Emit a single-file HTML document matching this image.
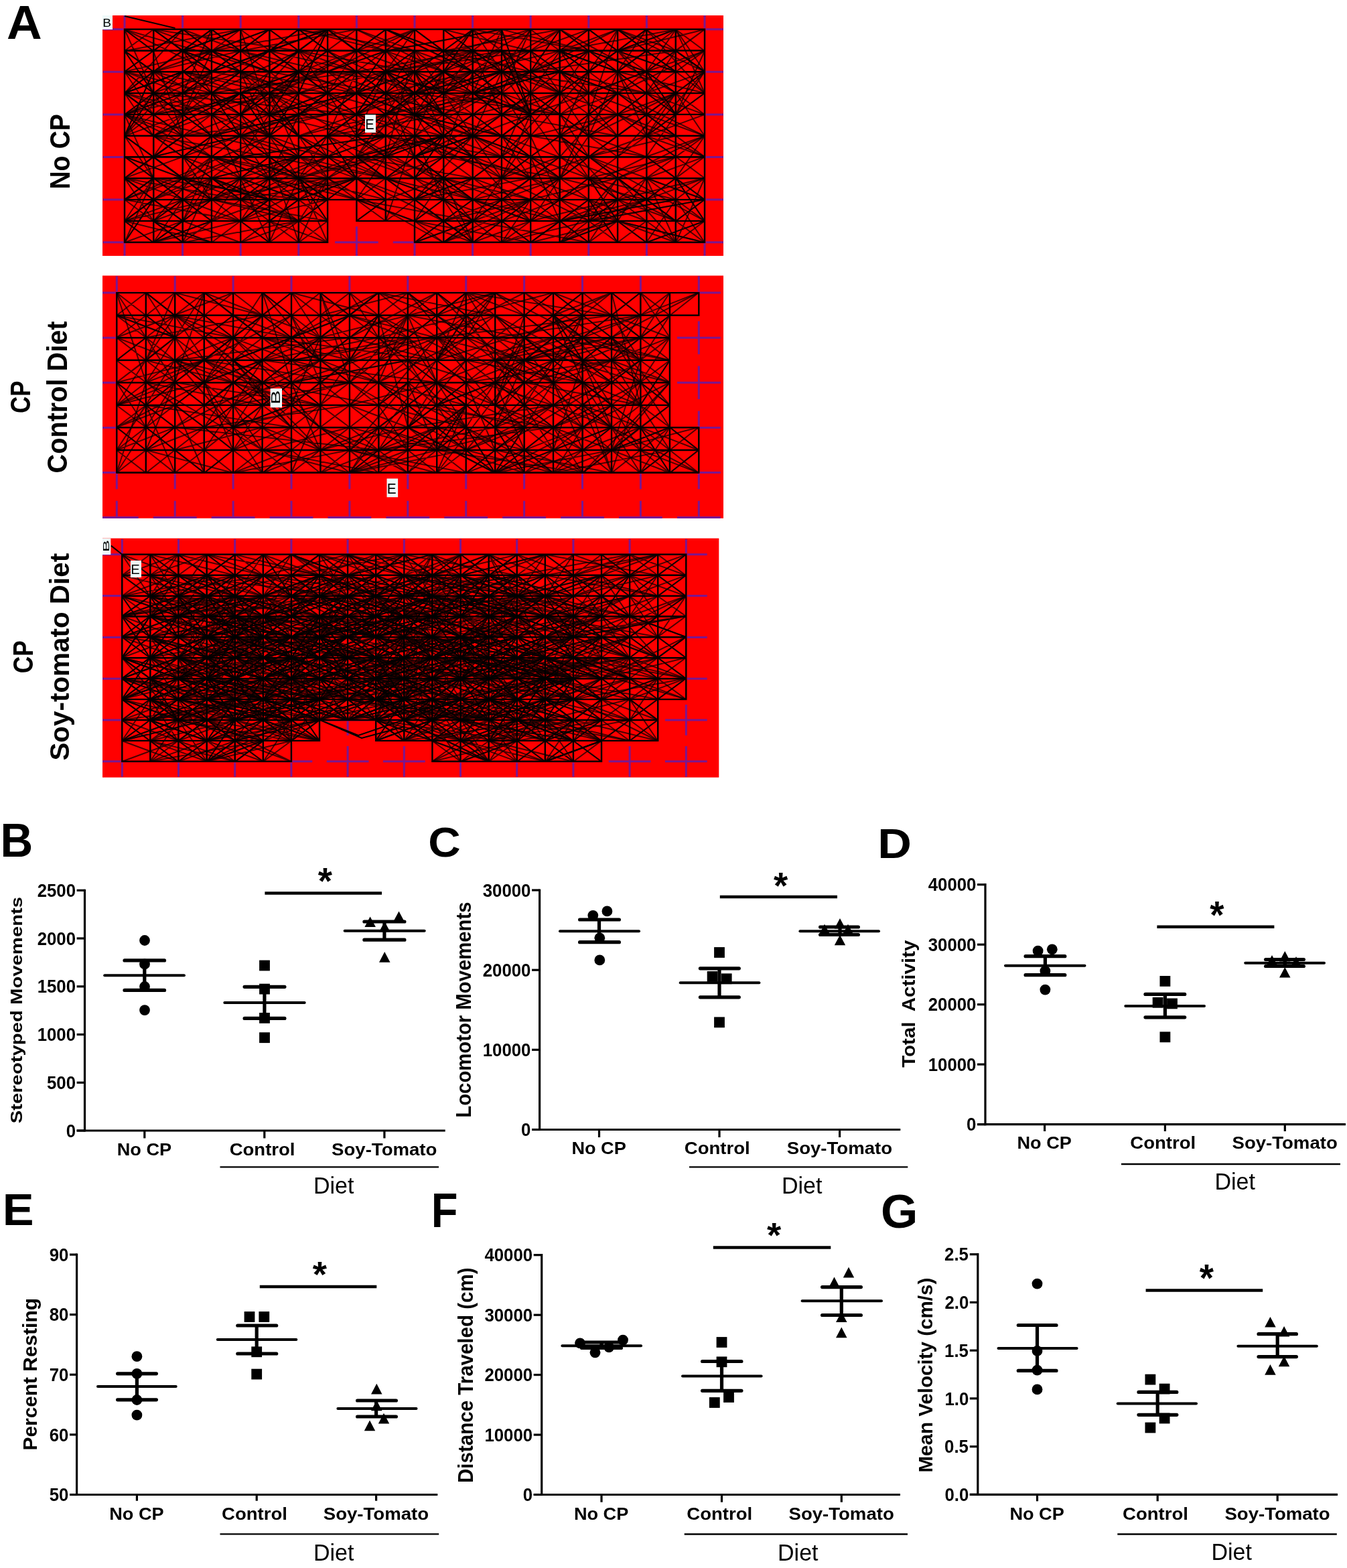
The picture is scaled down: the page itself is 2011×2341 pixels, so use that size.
<!DOCTYPE html>
<html><head><meta charset="utf-8"><title>Figure</title>
<style>
html,body{margin:0;padding:0;background:#fff;}
svg{display:block;font-family:"Liberation Sans",Arial,sans-serif;}
</style></head>
<body>
<svg width="2011" height="2341" viewBox="0 0 2011 2341">
<rect width="2011" height="2341" fill="#fff"/>
<g fill="#000">
<text transform="matrix(0.728763 0 0 0.710756 10.08 57.90)" font-size="100" font-weight="bold" >A</text>
<text transform="matrix(0 -0.374267 0.422316 0 103.58 282.61)" font-size="100" font-weight="bold" >No CP</text>
<text transform="matrix(0 -0.348554 0.419492 0 44.98 617.03)" font-size="100" font-weight="bold" >CP</text>
<text transform="matrix(0 -0.396543 0.424490 0 99.58 706.43)" font-size="100" font-weight="bold" >Control Diet</text>
<text transform="matrix(0 -0.352359 0.427966 0 48.67 1005.24)" font-size="100" font-weight="bold" >CP</text>
<text transform="matrix(0 -0.404144 0.413719 0 102.59 1135.57)" font-size="100" font-weight="bold" >Soy-tomato Diet</text>
</g>
<rect x="153" y="23" width="927.0" height="359.0" fill="#ff0000"/>
<path d="M153.7 43.7H218.3M186.0 23.0V67.2M153.7 107.3H218.3M186.0 83.8V130.8M153.7 170.9H218.3M186.0 147.4V194.4M153.7 234.5H218.3M186.0 211.0V258.0M153.7 298.1H218.3M186.0 274.6V321.6M153.7 361.7H218.3M186.0 338.2V382.0M240.3 43.7H304.9M272.6 23.0V67.2M240.3 107.3H304.9M272.6 83.8V130.8M240.3 170.9H304.9M272.6 147.4V194.4M240.3 234.5H304.9M272.6 211.0V258.0M240.3 298.1H304.9M272.6 274.6V321.6M240.3 361.7H304.9M272.6 338.2V382.0M326.9 43.7H391.5M359.2 23.0V67.2M326.9 107.3H391.5M359.2 83.8V130.8M326.9 170.9H391.5M359.2 147.4V194.4M326.9 234.5H391.5M359.2 211.0V258.0M326.9 298.1H391.5M359.2 274.6V321.6M326.9 361.7H391.5M359.2 338.2V382.0M413.5 43.7H478.1M445.8 23.0V67.2M413.5 107.3H478.1M445.8 83.8V130.8M413.5 170.9H478.1M445.8 147.4V194.4M413.5 234.5H478.1M445.8 211.0V258.0M413.5 298.1H478.1M445.8 274.6V321.6M413.5 361.7H478.1M445.8 338.2V382.0M500.1 43.7H564.7M532.4 23.0V67.2M500.1 107.3H564.7M532.4 83.8V130.8M500.1 170.9H564.7M532.4 147.4V194.4M500.1 234.5H564.7M532.4 211.0V258.0M500.1 298.1H564.7M532.4 274.6V321.6M500.1 361.7H564.7M532.4 338.2V382.0M586.7 43.7H651.3M619.0 23.0V67.2M586.7 107.3H651.3M619.0 83.8V130.8M586.7 170.9H651.3M619.0 147.4V194.4M586.7 234.5H651.3M619.0 211.0V258.0M586.7 298.1H651.3M619.0 274.6V321.6M586.7 361.7H651.3M619.0 338.2V382.0M673.3 43.7H737.9M705.6 23.0V67.2M673.3 107.3H737.9M705.6 83.8V130.8M673.3 170.9H737.9M705.6 147.4V194.4M673.3 234.5H737.9M705.6 211.0V258.0M673.3 298.1H737.9M705.6 274.6V321.6M673.3 361.7H737.9M705.6 338.2V382.0M759.9 43.7H824.5M792.2 23.0V67.2M759.9 107.3H824.5M792.2 83.8V130.8M759.9 170.9H824.5M792.2 147.4V194.4M759.9 234.5H824.5M792.2 211.0V258.0M759.9 298.1H824.5M792.2 274.6V321.6M759.9 361.7H824.5M792.2 338.2V382.0M846.5 43.7H911.1M878.8 23.0V67.2M846.5 107.3H911.1M878.8 83.8V130.8M846.5 170.9H911.1M878.8 147.4V194.4M846.5 234.5H911.1M878.8 211.0V258.0M846.5 298.1H911.1M878.8 274.6V321.6M846.5 361.7H911.1M878.8 338.2V382.0M933.1 43.7H997.7M965.4 23.0V67.2M933.1 107.3H997.7M965.4 83.8V130.8M933.1 170.9H997.7M965.4 147.4V194.4M933.1 234.5H997.7M965.4 211.0V258.0M933.1 298.1H997.7M965.4 274.6V321.6M933.1 361.7H997.7M965.4 338.2V382.0M1019.7 43.7H1080.0M1052.0 23.0V67.2M1019.7 107.3H1080.0M1052.0 83.8V130.8M1019.7 170.9H1080.0M1052.0 147.4V194.4M1019.7 234.5H1080.0M1052.0 211.0V258.0M1019.7 298.1H1080.0M1052.0 274.6V321.6M1019.7 361.7H1080.0M1052.0 338.2V382.0" stroke="#7a1790" stroke-width="3" fill="none"/>
<path d="M704.0 169.3h46.5v35.0h-46.5zM357.6 42.1h46.5v35.0h-46.5zM357.6 328.3h46.5v35.0h-46.5zM400.9 73.9h46.5v35.0h-46.5zM530.8 42.1h46.5v35.0h-46.5zM920.5 137.5h46.5v35.0h-46.5zM1007.1 42.1h46.5v35.0h-46.5zM617.4 232.9h46.5v35.0h-46.5zM574.1 296.5h46.5v35.0h-46.5zM184.4 201.1h46.5v35.0h-46.5zM271.0 105.7h46.5v35.0h-46.5zM660.7 201.1h46.5v35.0h-46.5zM1007.1 328.3h46.5v35.0h-46.5zM747.3 296.5h46.5v35.0h-46.5zM833.9 201.1h46.5v35.0h-46.5zM444.2 105.7h46.5v35.0h-46.5zM487.5 73.9h46.5v35.0h-46.5zM963.8 73.9h46.5v35.0h-46.5zM357.6 105.7h46.5v35.0h-46.5zM314.3 232.9h46.5v35.0h-46.5zM400.9 137.5h46.5v35.0h-46.5zM530.8 105.7h46.5v35.0h-46.5zM920.5 201.1h46.5v35.0h-46.5zM574.1 73.9h46.5v35.0h-46.5zM1007.1 105.7h46.5v35.0h-46.5zM184.4 264.7h46.5v35.0h-46.5zM271.0 169.3h46.5v35.0h-46.5zM660.7 264.7h46.5v35.0h-46.5zM747.3 73.9h46.5v35.0h-46.5zM227.7 296.5h46.5v35.0h-46.5zM833.9 264.7h46.5v35.0h-46.5zM444.2 169.3h46.5v35.0h-46.5zM877.2 232.9h46.5v35.0h-46.5zM487.5 137.5h46.5v35.0h-46.5zM963.8 137.5h46.5v35.0h-46.5zM314.3 296.5h46.5v35.0h-46.5zM400.9 201.1h46.5v35.0h-46.5zM530.8 169.3h46.5v35.0h-46.5zM790.6 296.5h46.5v35.0h-46.5zM574.1 137.5h46.5v35.0h-46.5zM184.4 42.1h46.5v35.0h-46.5zM660.7 42.1h46.5v35.0h-46.5zM920.5 264.7h46.5v35.0h-46.5zM1007.1 169.3h46.5v35.0h-46.5zM184.4 328.3h46.5v35.0h-46.5zM660.7 328.3h46.5v35.0h-46.5zM747.3 137.5h46.5v35.0h-46.5zM833.9 42.1h46.5v35.0h-46.5zM833.9 328.3h46.5v35.0h-46.5zM444.2 232.9h46.5v35.0h-46.5zM877.2 296.5h46.5v35.0h-46.5zM487.5 201.1h46.5v35.0h-46.5zM963.8 201.1h46.5v35.0h-46.5zM314.3 73.9h46.5v35.0h-46.5zM790.6 73.9h46.5v35.0h-46.5zM920.5 42.1h46.5v35.0h-46.5zM400.9 264.7h46.5v35.0h-46.5zM920.5 328.3h46.5v35.0h-46.5zM1007.1 232.9h46.5v35.0h-46.5zM574.1 201.1h46.5v35.0h-46.5zM184.4 105.7h46.5v35.0h-46.5zM660.7 105.7h46.5v35.0h-46.5zM227.7 137.5h46.5v35.0h-46.5zM747.3 201.1h46.5v35.0h-46.5zM833.9 105.7h46.5v35.0h-46.5zM877.2 73.9h46.5v35.0h-46.5zM487.5 264.7h46.5v35.0h-46.5zM963.8 264.7h46.5v35.0h-46.5zM704.0 232.9h46.5v35.0h-46.5zM314.3 137.5h46.5v35.0h-46.5zM400.9 42.1h46.5v35.0h-46.5zM790.6 137.5h46.5v35.0h-46.5zM920.5 105.7h46.5v35.0h-46.5zM400.9 328.3h46.5v35.0h-46.5zM574.1 264.7h46.5v35.0h-46.5zM660.7 169.3h46.5v35.0h-46.5zM617.4 296.5h46.5v35.0h-46.5zM227.7 201.1h46.5v35.0h-46.5zM747.3 264.7h46.5v35.0h-46.5zM444.2 73.9h46.5v35.0h-46.5zM833.9 169.3h46.5v35.0h-46.5zM487.5 42.1h46.5v35.0h-46.5zM877.2 137.5h46.5v35.0h-46.5zM963.8 42.1h46.5v35.0h-46.5zM963.8 328.3h46.5v35.0h-46.5zM704.0 296.5h46.5v35.0h-46.5zM314.3 201.1h46.5v35.0h-46.5zM400.9 105.7h46.5v35.0h-46.5zM357.6 169.3h46.5v35.0h-46.5zM790.6 201.1h46.5v35.0h-46.5zM574.1 42.1h46.5v35.0h-46.5zM920.5 169.3h46.5v35.0h-46.5zM617.4 73.9h46.5v35.0h-46.5zM747.3 42.1h46.5v35.0h-46.5zM227.7 264.7h46.5v35.0h-46.5zM747.3 328.3h46.5v35.0h-46.5zM271.0 232.9h46.5v35.0h-46.5zM833.9 232.9h46.5v35.0h-46.5zM487.5 105.7h46.5v35.0h-46.5zM877.2 201.1h46.5v35.0h-46.5zM963.8 105.7h46.5v35.0h-46.5zM704.0 73.9h46.5v35.0h-46.5zM314.3 264.7h46.5v35.0h-46.5zM400.9 169.3h46.5v35.0h-46.5zM357.6 232.9h46.5v35.0h-46.5zM790.6 264.7h46.5v35.0h-46.5zM574.1 105.7h46.5v35.0h-46.5zM530.8 232.9h46.5v35.0h-46.5zM617.4 137.5h46.5v35.0h-46.5zM227.7 42.1h46.5v35.0h-46.5zM747.3 105.7h46.5v35.0h-46.5zM227.7 328.3h46.5v35.0h-46.5zM271.0 296.5h46.5v35.0h-46.5zM877.2 264.7h46.5v35.0h-46.5zM487.5 169.3h46.5v35.0h-46.5zM963.8 169.3h46.5v35.0h-46.5zM444.2 296.5h46.5v35.0h-46.5zM704.0 137.5h46.5v35.0h-46.5zM314.3 42.1h46.5v35.0h-46.5zM790.6 42.1h46.5v35.0h-46.5zM314.3 328.3h46.5v35.0h-46.5zM400.9 232.9h46.5v35.0h-46.5zM357.6 296.5h46.5v35.0h-46.5zM790.6 328.3h46.5v35.0h-46.5zM963.8 296.5h46.5v35.0h-46.5zM530.8 296.5h46.5v35.0h-46.5zM617.4 201.1h46.5v35.0h-46.5zM227.7 105.7h46.5v35.0h-46.5zM184.4 169.3h46.5v35.0h-46.5zM271.0 73.9h46.5v35.0h-46.5zM747.3 169.3h46.5v35.0h-46.5zM877.2 42.1h46.5v35.0h-46.5zM1007.1 296.5h46.5v35.0h-46.5zM877.2 328.3h46.5v35.0h-46.5zM704.0 201.1h46.5v35.0h-46.5zM314.3 105.7h46.5v35.0h-46.5zM790.6 105.7h46.5v35.0h-46.5zM357.6 73.9h46.5v35.0h-46.5zM530.8 73.9h46.5v35.0h-46.5zM1007.1 73.9h46.5v35.0h-46.5zM617.4 264.7h46.5v35.0h-46.5zM227.7 169.3h46.5v35.0h-46.5zM184.4 232.9h46.5v35.0h-46.5zM271.0 137.5h46.5v35.0h-46.5zM660.7 232.9h46.5v35.0h-46.5zM877.2 105.7h46.5v35.0h-46.5zM444.2 137.5h46.5v35.0h-46.5zM704.0 264.7h46.5v35.0h-46.5zM314.3 169.3h46.5v35.0h-46.5zM790.6 169.3h46.5v35.0h-46.5zM357.6 137.5h46.5v35.0h-46.5zM920.5 232.9h46.5v35.0h-46.5zM530.8 137.5h46.5v35.0h-46.5zM617.4 42.1h46.5v35.0h-46.5zM1007.1 137.5h46.5v35.0h-46.5zM617.4 328.3h46.5v35.0h-46.5zM227.7 232.9h46.5v35.0h-46.5zM184.4 296.5h46.5v35.0h-46.5zM271.0 201.1h46.5v35.0h-46.5zM660.7 296.5h46.5v35.0h-46.5zM877.2 169.3h46.5v35.0h-46.5zM833.9 296.5h46.5v35.0h-46.5zM444.2 201.1h46.5v35.0h-46.5zM704.0 42.1h46.5v35.0h-46.5zM704.0 328.3h46.5v35.0h-46.5zM790.6 232.9h46.5v35.0h-46.5zM357.6 201.1h46.5v35.0h-46.5zM920.5 296.5h46.5v35.0h-46.5zM530.8 201.1h46.5v35.0h-46.5zM617.4 105.7h46.5v35.0h-46.5zM574.1 169.3h46.5v35.0h-46.5zM184.4 73.9h46.5v35.0h-46.5zM660.7 73.9h46.5v35.0h-46.5zM1007.1 201.1h46.5v35.0h-46.5zM271.0 264.7h46.5v35.0h-46.5zM833.9 73.9h46.5v35.0h-46.5zM444.2 264.7h46.5v35.0h-46.5zM487.5 232.9h46.5v35.0h-46.5zM963.8 232.9h46.5v35.0h-46.5zM704.0 105.7h46.5v35.0h-46.5zM357.6 264.7h46.5v35.0h-46.5zM920.5 73.9h46.5v35.0h-46.5zM400.9 296.5h46.5v35.0h-46.5zM530.8 264.7h46.5v35.0h-46.5zM617.4 169.3h46.5v35.0h-46.5zM227.7 73.9h46.5v35.0h-46.5zM184.4 137.5h46.5v35.0h-46.5zM271.0 42.1h46.5v35.0h-46.5zM574.1 232.9h46.5v35.0h-46.5zM660.7 137.5h46.5v35.0h-46.5zM1007.1 264.7h46.5v35.0h-46.5zM271.0 328.3h46.5v35.0h-46.5zM747.3 232.9h46.5v35.0h-46.5zM833.9 137.5h46.5v35.0h-46.5zM444.2 42.1h46.5v35.0h-46.5zM444.2 328.3h46.5v35.0h-46.5z" fill="#ff0000"/>
<path d="M922 76L922 44M402 76L446 44M402 139L316 171M662 330L662 266M706 362L619 362M1052 330L1009 266M1052 203L922 266M229 44L186 76M836 76L836 107M706 171L792 171M402 266L402 362M836 107L706 203M489 139L316 107M402 139L489 76M359 107L402 139M792 139L792 203M1009 330L1009 362M1009 330L965 298M446 266L446 203M229 234L186 266M229 76L186 44M749 362L749 298M965 330L1009 362M749 139L619 171M316 139L359 203M836 234L706 330M922 139L836 234M749 44L836 44M316 298L186 330M662 44L446 44M749 203L836 203M1052 234L922 171M662 76L836 44M532 139L489 171M836 234L879 266M446 234L489 266M749 139L792 107M316 171L359 203M965 298L836 266M965 107L965 44M576 203L359 234M879 266L879 330M836 298L879 266M489 44L532 76M316 76L359 107M706 330L619 234M749 266L749 234M836 171L836 234M879 298L836 330M273 203L186 266M446 330L316 298M446 330L402 298M229 298L186 266M662 139L749 107M186 171L273 139M273 266L229 298M316 298L273 330M273 362L186 362M229 298L186 362M836 298L879 266M359 203L273 203M489 44L402 76M749 44L792 171M706 44L662 107M186 266L229 266M1009 266L1052 234M836 330L792 362M706 203L706 234M273 362L186 362M359 330L186 298M532 203L489 203M532 234L576 234M792 203L792 139M446 171L576 171M402 139L446 107M273 171L359 139M1009 107L965 76M662 139L576 107M619 107L662 139M922 44L836 76M706 139L836 107M706 76L706 107M706 44L706 107M186 107L186 76M1052 266L1052 298M922 44L922 76M229 330L186 266M489 298L316 234M446 76L359 76M316 76L229 76M619 266L662 203M1009 76L965 107M489 266L446 298M186 298L229 330M229 362L273 298M662 298L662 266M229 107L186 76M792 171L706 203M273 44L229 76M316 330L359 266M532 76L706 76M836 266L836 298M446 139L402 203M792 44L749 44M922 76L879 44M273 139L402 76M965 234L1009 266M965 107L965 139M792 266L706 266M749 298L836 266M402 234L402 171M662 266L619 234M532 139L489 171M402 203L446 234M662 171L619 107M186 76L229 139M576 139L532 139M1009 298L836 330M316 234L273 234M619 203L446 139M619 171L749 139M489 139L446 139M359 76L446 76M662 139L706 107M576 298L532 330M879 203L879 107M792 139L792 203M273 171L316 203M576 44L489 44M359 298L446 266M706 203L879 266M229 266L229 298M489 171L273 203M749 266L706 298M446 76L532 107M792 76L836 107M662 330L619 362M532 234L619 266M532 139L576 171M1009 44L922 76M576 139L619 171M619 203L662 107M1009 139L965 203M706 171L662 203M359 266L402 298M359 107L489 107M922 298L792 330M1009 76L922 44M619 171L662 171M359 107L402 139M662 266L706 266M273 171L316 139M316 362L273 362M316 203L186 171M792 362L706 362M273 107L273 76M576 203L532 203M446 298L359 298M186 171L229 266M662 76L706 44M359 298L273 266M1009 266L1009 234M576 266L532 234M186 298L186 266M922 44L749 44M749 139L836 171M922 234L879 266M489 266L489 203M273 76L229 76M576 139L662 139M619 44L619 107M749 298L706 330M836 107L836 44M316 139L186 139M446 298L532 298M316 330L229 362M836 203L879 266M792 330L879 330M749 266L706 234M316 203L316 171M273 107L229 139M706 362L619 298M446 362L489 362M359 107L489 171M662 203L706 234M1009 298L1009 362M229 76L273 76M965 298L879 330M922 107L965 171M1009 139L1009 171M186 234L229 266M836 139L706 171M965 107L792 107M229 76L186 76M229 203L229 298M576 203L446 139M619 203L662 298M1052 139L1009 139M402 203L489 234M576 171L619 203M922 298L836 203M229 298L186 330M229 44L273 76M1052 76L1009 171M922 298L1009 330M532 76L489 44M359 203L316 171M922 298L879 330M229 171L273 203M1009 266L965 298M316 330L273 362M316 234L316 266M186 139L229 171M965 330L922 330M359 203L619 298M1009 203L1009 234M619 44L619 139M359 203L402 266M273 107L273 76M229 44L316 107M402 330L359 330M273 203L273 139M836 44L1009 44M532 139L532 107M965 107L879 76M879 203L792 203M792 203L662 203M402 171L359 139M402 298L229 298M359 107L273 44M706 107L662 139M619 76L576 107M749 266L792 266M662 107L706 76M792 107L836 139M402 298L359 330M1052 107L965 107M359 139L359 107M186 107L316 76M359 203L229 234M273 44L316 76M619 171L706 203M446 298L359 298M836 234L836 171M489 203L489 234M532 298L446 298M836 362L792 362M316 76L273 107M273 171L359 139M229 298L273 266M402 107L446 76M446 234L359 298M273 107L359 107M836 203L879 107M792 107L662 76M316 203L273 203M1052 203L1009 266M836 107L792 139M576 76L749 44M532 171L576 139M836 171L879 234M229 330L273 362M836 107L792 76M1052 298L1009 330M402 107L489 44M662 203L576 234M576 107L532 171M229 362L359 330M359 203L316 234M922 330L922 362M316 203L359 171M402 139L359 171M836 139L792 171M532 266L489 203M359 203L186 203M706 171L576 171M706 107L749 76M576 107L749 76M662 298L662 203M792 107L749 139M922 139L879 171M836 107L922 139M273 298L316 330M402 298L316 330M749 234L836 234M749 298L792 266M749 266L749 234M489 139L446 76M965 203L922 107M792 362L706 298M186 266L229 266M402 44L359 76M662 266L792 266M1052 107L922 107M359 139L316 171M662 107L619 139M229 107L359 76M359 76L316 107M749 298L749 234M316 76L402 44M316 107L273 76M749 203L836 139M359 298L402 298M273 266L186 203M922 44L836 76M706 266L749 266M446 171L273 234M359 298L316 298M532 107L576 139M836 139L879 76M965 203L1052 171M446 139L489 44M749 298L792 330M446 139L576 203M229 266L316 330M1052 298L1052 266M965 266L1009 234M1009 139L879 203M359 76L316 44M489 330L489 298M359 298L359 330M792 203L749 234M186 203L273 203M619 171L662 203M749 171L619 171M316 266L273 266M359 203L446 266M922 362L1009 362M706 139L792 76M229 234L316 234M749 234L706 234M576 171L532 171M446 203L532 171M273 107L186 139M662 234L792 234M749 44L706 139M273 298L229 266M446 171L446 139M532 44L402 139M446 171L576 107M706 203L619 234M273 76L359 44M273 171L229 139M359 171L402 234M532 171L532 266M1009 171L965 203M619 171L706 44M792 139L836 171M1052 362L922 330M186 107L229 139M229 76L229 107M446 330L359 298M1052 298L879 234M706 203L619 298M792 107L879 44M749 171L706 203M879 76L749 44M619 171L662 107M359 139L229 139M1052 107L1009 76M1052 171L965 171M446 266L489 298M186 362L229 266M186 76L186 107M619 266L792 330M879 266L922 330M229 44L229 76M965 107L1009 107M532 298L662 298M186 298L229 298M359 298L316 266M273 107L316 139M446 203L402 139M619 76L749 76M749 203L706 234M706 203L706 234M1052 139L1009 139M879 203L965 234M446 107L532 107M273 362L229 330M489 203L446 266M273 362L316 362M836 76L922 107M749 44L619 139M965 298L879 298M446 266L446 330M965 139L922 171M402 298L273 266M792 203L836 203M489 139L532 171M1009 298L1052 362M229 330L186 298M965 107L1009 171M662 203L532 203M706 362L662 362M965 76L922 107M706 266L662 266M489 76L446 44M359 203L489 234M836 139L879 203M229 266L316 298M402 298L316 330M879 76L922 107M619 234L576 171M619 330L619 298M792 362L836 362M749 266L706 266M836 298L749 330M836 266L792 330M1052 203L1052 107M965 107L922 107M1052 203L1009 139M749 139L706 139M922 266L836 266M619 171L532 171M1009 362L965 362M706 203L662 234M1009 107L1052 139M922 330L965 362M273 234L359 234M836 107L922 203M576 203L749 234M446 234L576 234M792 266L922 266M706 298L662 266M402 44L446 76M446 203L489 234M619 298L489 203M836 44L792 107M662 298L576 266M273 76L273 107M879 362L879 330M446 234L359 234M749 139L749 171M186 44L229 139M879 362L879 330M922 139L965 171M792 203L836 203M446 171L446 76M446 139L532 107M619 107L576 76M186 330L186 298M316 171L359 266M662 76L619 107M359 107L316 139M836 139L836 107M316 44L229 107M749 139L792 44M532 203L489 203M446 266L402 234M922 44L1052 44M879 76L965 139M619 76L576 107M446 139L532 139M446 203L489 266M662 266L792 298M186 171L273 234M836 330L879 330M749 44L662 44M749 76L749 107M446 266L662 203M706 139L792 139M879 76L1009 171M446 234L489 203M1009 362L1009 298M922 203L879 203M706 107L619 76M619 44L706 44M879 76L879 107M489 234L402 171M706 330L662 362M229 44L316 76M532 171L446 234M359 298L316 330M316 234L273 203M619 139L706 44M706 44L879 76M316 139L532 139M489 362L446 362M273 203L229 234M316 107L229 107M273 266L229 298M1009 139L965 107M619 203L619 266M576 330L619 203M792 76L792 44M273 203L359 203M576 203L532 234M446 107L446 139M879 203L792 203M402 107L186 44M359 171L359 139M706 107L576 44M879 330L836 362M229 330L186 330M446 139L532 107M662 76L619 44M446 298L402 330M446 203L576 171M619 203L532 203M836 171L836 107M316 203L273 234M706 362L749 330M532 76L576 44M836 171L749 171M662 171L619 139M836 76L792 139M402 330L402 234M706 76L749 107M749 266L706 330M576 234L446 266M706 139L662 171M706 362L792 330M186 203L186 234M1052 330L1009 298M706 171L792 107M879 171L922 44M922 266L965 298M532 107L446 171" stroke="#000" stroke-opacity="0.7" stroke-width="2.0" fill="none"/>
<path d="M792 171L879 171M446 107L359 203M965 298L1009 330M186 171L186 107M359 203L489 171M662 298L706 298M965 107L1009 44M446 139L229 171M619 171L662 203M965 139L922 139M532 171L576 139M489 298L402 234M662 76L576 44M489 139L532 203M186 203L186 171M749 139L706 171M273 171L316 76M446 362L402 234M489 330L446 330M706 44L706 171M662 266L576 266M576 76L446 44M186 139L316 171M273 107L316 139M1009 203L1009 171M229 362L273 330M619 171L532 203M186 171L316 139M879 234L1052 330M402 203L186 298M359 266L273 266M359 171L359 203M489 234L576 203M359 76L316 107M706 171L619 234M489 298L576 298M1009 171L1009 203M359 203L316 234M576 171L532 139M186 171L186 203M186 171L273 171M1009 139L879 234M402 203L446 266M186 139L273 203M749 234L749 203M965 76L1009 76M316 234L186 330M229 266L446 298M402 171L446 171M229 76L273 44M402 76L446 107M619 298L619 266M879 330L1052 298M229 139L273 171M879 171L965 171M619 330L532 298M316 298L359 330M359 234L402 171M359 76L402 76M836 44L879 76M316 203L316 234M359 139L402 203M532 139L576 76M879 139L922 171M532 171L619 171M316 203L316 171M186 171L316 234M662 298L576 298M446 298L402 330M273 234L273 266M576 139L576 76M229 234L273 203M619 76L576 139M836 266L706 298M1009 298L1009 362M662 107L576 171M619 234L576 266M1052 107L1009 107M965 44L965 107M489 171L489 203M402 76L489 139M706 234L749 234M446 330L446 362M532 171L489 139M186 171L229 203M489 203L662 203M662 139L619 171M619 139L619 107M836 298L836 330M1052 234L1052 266M576 171L489 171M229 171L273 171M532 266L532 298M965 107L879 139M446 76L186 76M836 44L922 44M229 234L186 266M1009 107L1052 76M836 171L792 171M662 76L662 44M186 362L273 330M359 171L359 139M879 234L922 266M792 171L749 266M662 266L619 298M229 330L316 362M965 171L1009 203M836 139L836 203M359 139L402 139M1009 107L965 139M229 298L359 234M229 44L229 139M792 171L749 139M489 298L446 330M576 139L706 107M662 107L706 139M1009 107L922 76M836 76L836 107M619 139L662 171M402 107L446 76M532 203L619 203M792 234L836 266M792 298L922 266M1009 139L965 171M402 266L532 298M922 266L965 298M229 203L402 234M316 44L229 44M229 298L273 330M402 298L316 266M532 203L706 203M706 203L792 234M662 203L706 234M836 76L836 107M922 44L1009 44M662 203L619 203M186 330L229 362M316 139L446 76M532 171L576 203M186 203L186 171M836 76L879 107M532 107L576 139M316 44L273 139M359 76L316 76M273 234L359 234M532 266L576 298M836 330L879 362M662 203L922 203M273 107L229 107M576 139L402 107M749 234L706 266M229 203L359 139M532 107L532 44M532 107L532 76M662 107L792 107M576 107L619 139M965 171L965 234M836 362L922 266M922 107L965 76M1009 139L836 44M619 203L706 234M662 203L619 234M619 44L576 76M1009 234L1052 266M359 139L489 107M792 234L749 266M446 203L489 234M316 107L489 44M1009 203L1052 203M749 266L792 234M922 76L1052 44M1052 266L1009 298M619 330L706 362M922 362L836 362M359 76L359 107M879 298L922 330M879 44L836 76M1009 330L965 330M706 76L662 139M879 139L836 76M922 107L1052 139M1009 330L1052 362M316 107L273 139M446 234L489 234M836 362L836 203M273 203L273 171M619 107L662 107M662 76L662 107M402 203L359 107M316 266L359 298M749 171L706 203M706 362L749 362M792 298L749 330M749 203L792 203M316 44L273 76M229 139L273 139M186 203L273 107M532 76L489 76M619 107L706 107M316 139L316 266M1052 234L965 266M1009 203L922 171M532 234L662 203M619 203L619 171M359 76L402 44M922 171L965 139M446 44L489 44M792 44L922 44M706 171L706 203M532 266L532 203M229 139L186 171M446 234L532 234M576 107L662 139M749 203L922 203M965 171L1009 139M273 107L359 139M229 139L186 203M316 266L229 266M489 139L532 139M229 76L186 44M706 76L792 139M402 171L532 203M359 330L402 362M879 107L922 107M402 330L446 330M965 203L1052 234M1009 44L1052 44M922 203L879 234M402 44L402 107M662 362L749 362M576 203L359 234M792 234L836 203M186 234L273 266M1009 234L1052 234M749 171L792 171M749 330L706 330M273 76L186 76M359 234L359 266M749 362L662 362M836 203L706 203M706 139L749 171M186 44L186 76M922 266L792 298M619 44L489 107M229 171L186 107M402 234L446 234M316 107L316 139M359 76L273 76M316 266L229 298M836 330L1009 298M489 76L532 107M273 362L316 266M229 139L186 171M792 330L619 330M229 107L359 139M662 44L792 76M273 298L229 330M229 330L273 362M922 203L879 203M359 330L359 362M922 330L922 362M749 107L706 107M186 107L229 76M706 107L836 76M532 107L576 107M922 362L965 362M836 298L706 298M186 330L229 266M316 44L359 76M1009 107L1009 139M359 139L446 203M619 76L532 76M836 298L879 330M879 266L836 298M359 203L402 234M446 107L446 171M619 44L662 76M316 234L402 266M965 139L1009 171M619 362L706 330M186 266L359 298M836 171L922 139M446 139L402 203M359 203L446 171M879 203L879 171M836 107L879 76M792 76L836 107M316 171L273 171M316 76L489 44M359 107L316 139M706 266L619 266M749 298L749 234M1052 330L965 362M879 234L922 266M316 171L316 107M532 298L576 234M749 107L922 171M965 107L922 139M619 203L749 266M749 234L749 330M1052 107L965 107M316 203L273 171M749 171L706 76M836 107L879 139M749 139L792 203M1052 298L1052 266M446 139L489 139M792 107L792 139M402 76L402 139M402 171L489 234M1052 203L1052 234M489 298L402 298M922 139L1052 76M489 234L402 266M359 362L273 362M316 203L359 234M749 266L706 203M706 203L489 139M532 171L489 203M402 234L402 362M662 298L749 298M229 44L273 76M965 362L965 330M229 298L186 266M1009 203L879 234M749 234L836 298M879 298L922 362M446 203L446 171M662 171L706 203M576 76L749 139M879 171L922 203M576 330L662 330M186 330L229 298M922 266L749 203M662 107L749 76M446 298L446 171M619 171L749 203M273 234L316 298M489 76L576 76M446 234L359 266M619 44L532 76M836 139L792 171M186 266L273 298M662 330L706 362M532 76L402 139M446 330L273 362M836 203L879 171M836 76L922 107M619 203L662 234M532 203L489 139M662 203L619 266M576 298L576 266M619 234L749 171M186 203L229 107M619 139L489 76M706 298L662 266M402 266L359 266M792 203L792 171M316 76L273 76M879 107L879 234M316 203L446 171M402 76L359 107M965 234L1009 171M316 107L273 76M273 171L446 107M662 139L576 107M489 107L576 76M576 298L446 298M489 107L402 139M359 139L446 76M532 171L662 107M229 107L359 139M576 266L619 234M489 234L446 203M316 234L186 171M489 171L532 139M836 362L965 298M359 362L316 362M922 330L836 362M359 266L316 298M229 76L359 76M532 139L532 76M359 171L402 107M229 234L273 234M359 107L229 107M619 234L706 298M576 139L619 171M836 139L706 76M965 107L879 171M532 203L619 139M619 44L489 44M749 203L792 171M316 298L489 266M273 234L316 266M229 203L273 234M402 171L359 44M316 139L359 203M316 139L359 171M749 203L879 203M749 266L792 234M273 139L402 203M1052 203L1009 234M359 266L359 203M749 171L836 139M706 76L706 44M446 298L446 266M922 76L965 76M1052 203L965 234M402 298L532 266M662 76L619 76M792 298L749 362M576 107L532 171M706 107L706 44M1009 203L965 171M965 203L922 234M316 330L273 330M359 107L316 139M229 298L186 362M619 266L489 203M792 266L792 234M359 171L446 171M446 44L402 76M836 203L792 234M576 107L619 171M402 139L402 171M749 107L706 76M706 362L662 266M359 171L532 76M532 234L619 203M359 203L359 171M749 107L749 139M359 107L359 76M706 44L749 107M446 330L359 362M402 44L576 44M662 139L619 171M965 298L1009 330M836 171L749 171M316 44L316 76M965 266L1009 298M706 76L662 139M706 266L619 298M792 203L879 107M662 362L749 330M186 139L229 171M316 203L359 203M965 139L1052 139M1009 139L1052 107M229 266L186 298M1052 203L1009 203M576 76L446 44M879 234L836 203M749 107L836 107M1009 234L1052 203M879 203L836 203M229 107L186 139M792 76L792 139M1052 107L1009 76M1052 266L965 298M792 266L879 234M229 234L273 171M316 298L446 234M965 139L1052 171M273 234L273 266M446 234L316 266M186 171L229 203M706 171L749 203M359 171L402 139M316 266L359 266M576 266L532 298M1009 44L1052 76M662 362L706 330M879 107L965 44M402 139L576 234M662 203L619 171M619 76L532 44M1052 107L965 107M316 298L186 203M402 139L489 139M879 266L922 298M532 203L576 107M619 76L662 76M489 139L402 203M836 139L749 139M662 171L619 203M706 234L792 266M1009 139L965 139M879 266L922 330M446 171L402 203M836 44L576 44M792 139L792 203M706 139L619 139M706 203L662 234M229 76L229 44M706 76L792 76M402 330L446 362M1052 266L1009 362M316 171L359 139M273 107L186 139M489 266L532 298M489 298L489 234M836 234L792 171M662 234L619 266M965 76L922 44M446 266L446 234M186 139L273 171M792 203L749 203M749 171L662 171M273 203L229 234M792 139L706 203M446 298L273 234M749 203L662 266M359 171L402 203M749 203L792 234M186 330L186 362M965 203L1052 234M316 76L316 44M749 171L749 234M402 234L359 266" stroke="#000" stroke-opacity="0.7" stroke-width="2.0" fill="none"/>
<path d="M316 298L186 203M402 171L446 107M965 234L836 298M965 171L1009 139M965 298L836 330M576 139L489 107M749 171L749 203M965 362L922 330M706 171L662 203M359 139L489 139M836 44L749 107M316 171L273 171M532 44L359 76M706 266L662 298M922 44L879 44M836 139L749 203M749 171L922 203M273 330L359 362M273 76L273 139M273 171L273 139M316 139L402 76M273 171L316 203M229 298L186 330M402 234L316 298M316 76L402 107M792 44L749 107M922 139L965 139M229 139L273 203M879 234L836 266M619 234L706 203M446 44L446 76M922 171L1009 139M836 330L879 330M489 203L532 266M619 139L532 107M836 76L965 76M229 171L316 139M316 139L359 107M532 298L576 330M359 266L273 298M186 171L186 234M186 76L359 76M1052 44L1052 76M273 139L186 107M662 362L706 362M922 298L879 362M229 171L186 203M316 298L273 330M1009 44L1052 139M489 171L402 139M922 139L879 171M792 203L965 234M576 234L619 234M359 298L359 330M186 76L229 107M706 139L662 139M836 139L706 139M706 44L662 107M619 171L576 203M965 362L1009 298M316 203L273 234M619 76L662 107M359 139L532 76M706 107L749 139M576 298L532 330M792 203L706 139M879 203L836 266M836 76L922 76M1052 107L965 44M706 139L706 44M273 139L359 203M1052 107L1009 171M359 234L316 203M662 330L532 266M229 298L229 330M273 76L359 107M402 266L532 171M1052 107L922 44M922 203L922 171M706 44L576 44M836 298L792 203M532 76L576 44M922 171L836 203M316 298L489 298M879 107L836 107M879 298L792 298M662 234L749 234M316 171L273 139M836 266L662 234M619 298L662 330M1052 171L965 171M922 203L1009 139M273 266L273 362M186 107L316 139M965 362L1052 330M1009 330L879 266M662 76L619 44M489 107L576 107M965 76L1009 107M446 330L402 362M1052 107L836 266M922 298L836 330M836 234L836 298M706 171L662 203M619 107L576 139M662 234L619 266M1009 298L1009 203M836 330L879 362M836 171L662 139M359 298L359 266M619 139L489 171M749 76L749 171M446 107L402 139M749 107L706 139M229 362L316 362M836 266L706 266M749 234L792 266M836 203L879 234M532 139L532 44M359 234L446 266M186 298L229 266M879 139L706 139M359 171L359 139M186 139L186 171M1009 171L1009 203M186 203L229 171M879 266L1009 298M273 139L359 107M706 76L532 107M576 107L576 139M316 203L273 171M706 203L662 139M619 171L662 203M662 362L706 362M706 76L749 76M273 76L446 139M186 266L186 203M316 76L359 107M402 266L446 266M965 44L922 76M1009 203L1009 234M792 139L749 76M186 139L229 171M749 234L749 203M489 107L576 76M619 76L706 203M489 139L446 107M229 76L229 139M706 266L749 266M576 203L576 266M662 298L576 234M1052 203L1052 234M662 203L576 234M489 76L576 76M619 107L532 139M489 330L446 362M619 76L576 234M836 298L792 330M749 203L792 234M489 107L402 44M922 76L965 107M619 107L446 76M1009 139L922 234M359 362L316 362M532 266L489 234M836 171L619 139M273 171L186 171M879 298L1009 298M316 203L273 234M836 298L836 203M489 362L402 330M879 330L749 266M532 266L359 298M273 171L229 203M706 76L792 139M706 171L532 139M446 171L619 107M489 234L402 234M402 203L359 139M273 171L273 234M273 203L186 171M402 139L446 203M662 76L706 107M576 139L576 203M229 171L229 139M446 139L402 171M749 139L792 171M359 234L273 266M749 203L749 139M706 266L749 234M402 298L273 266M1052 171L965 171M359 76L489 107M446 234L316 203M402 139L316 139M749 298L662 330M662 139L619 107M229 298L229 362M1052 107L965 139M402 139L446 171M662 203L619 234M662 362L619 362M922 171L879 203M316 266L446 234M446 44L446 76M662 266L576 234M792 298L706 330M359 139L359 171M359 171L229 107M706 234L706 266M186 139L186 44M186 330L316 362M489 266L316 234M229 76L186 76M229 139L532 171M662 266L662 234M792 107L836 139M749 330L706 330M489 266L359 330M749 362L836 330M619 234L446 234M619 171L662 234M619 139L532 203M836 107L576 171M662 44L706 76M273 203L316 203M446 266L446 330M792 266L792 298M273 44L186 139M965 76L922 44M532 171L619 107M879 44L922 76M273 330L359 362M836 107L879 107M792 107L836 44M446 234L402 266M619 330L662 362M749 44L792 44M186 266L273 330M446 234L706 298M576 298L489 298M706 266L749 298M965 330L922 362M532 107L316 139M836 171L879 139M186 234L273 298M576 298L662 266M965 171L965 203M749 107L619 139M1009 203L965 171M662 298L706 362M879 76L836 107M489 44L576 107M792 203L922 171M186 203L229 107M879 107L922 44M836 266L792 298M402 203L402 171M316 171L229 203M576 234L532 203M965 44L1009 44M922 330L836 362M879 234L965 171M792 266L749 203M879 139L965 139M792 298L792 330M662 298L619 330M749 76L749 203M836 76L706 76M446 76L489 44M792 44L792 107M402 76L316 107M619 362L706 298M186 44L316 107M229 362L273 330M489 107L576 139M229 107L229 171M706 44L749 76M662 76L619 76M446 171L359 171M186 107L273 171M792 362L619 330M446 107L359 76M662 107L489 107M316 234L273 330M532 171L576 139M792 107L879 107M446 171L489 234M576 266L662 234M359 107L446 107M273 44L359 44M836 330L879 298M1009 171L965 171M316 171L273 203M273 362L186 362M836 171L792 139M965 139L1052 107M402 266L359 234M186 107L273 44M576 76L489 44M965 298L965 203M576 44L662 44M229 171L186 139M706 139L792 139M316 139L273 139M229 203L229 234M532 203L619 203M576 234L619 203M792 171L662 171M879 107L922 107M1052 298L965 234M446 44L576 44M273 107L186 139M359 266L446 298M316 107L186 107M273 107L446 139M576 234L619 171M489 44L662 44M662 298L706 330M749 266L836 234M273 76L229 76M922 266L922 234M489 203L532 107M273 139L186 139M662 139L749 107M922 362L965 330M706 171L662 203M792 171L749 76M879 44L792 44M489 107L489 44M879 330L749 362M706 76L619 76M1009 139L965 171M402 107L316 76M576 171L792 44M792 266L836 266M532 44L532 139M662 76L576 76M489 76L446 44M922 171L965 203M316 139L446 139M836 330L792 362M359 107L446 203M532 298L706 330M489 139L446 171M706 76L792 76M576 107L706 234M402 203L316 203M836 76L836 171M836 234L792 266M749 298L662 362M836 44L879 76M316 107L229 107M186 203L229 139M922 107L965 44M965 139L879 139M879 107L965 107M619 44L576 107M359 330L316 362M619 234L489 234M576 76L489 107M273 76L273 139M229 298L273 298M532 203L576 171M532 234L446 266M965 107L1052 76M402 139L489 139M402 107L446 107M446 298L402 298M836 107L922 139M662 234L576 234M186 76L186 139M662 298L749 330M229 171L273 171M749 139L576 139M922 203L922 171M706 139L489 107M402 171L532 139M922 266L1009 234M273 266L359 234M273 234L186 234M402 139L446 234M1009 266L965 234M273 266L316 203M402 234L402 266M273 76L359 44M965 203L1052 139M662 107L706 139M532 266L489 298M532 266L446 298M446 266L402 298M229 76L273 44M273 171L229 171M229 362L186 362M836 298L792 298M662 203L706 203M706 330L619 266M619 139L619 171M532 234L576 266M619 107L532 76M229 234L229 266M576 298L532 266M402 44L446 76M316 298L186 203M836 44L662 139M706 203L836 266M532 203L489 234M1009 107L922 76M619 171L749 203M922 76L836 139M316 107L316 139M402 76L446 44M489 330L402 330M359 362L316 362M273 298L273 266M879 234L836 234M359 76L402 44M792 171L749 107M662 107L662 139M359 330L402 362M273 171L316 107M532 203L619 203M792 139L1009 139M446 203L446 171M1009 234L965 203M1009 76L1052 44M706 298L619 234M359 76L186 76M792 76L576 107M532 171L532 139M402 171L489 139M749 76L792 107M402 76L532 76M792 139L749 107M359 234L402 266M879 107L922 76M446 139L489 139M229 107L273 107M706 107L576 44M749 234L749 362M532 203L706 298M186 298L229 298M792 362L749 330M273 362L273 330M489 139L446 139M662 266L619 266M489 330L446 266M965 203L879 234M532 234L576 234M532 139L576 107M229 330L316 234M229 362L186 330M965 107L879 107M792 107L879 76M706 44L836 139M706 266L792 298M836 171L879 203M402 298L359 330M836 76L879 107M619 107L662 171M965 362L1009 362M965 139L1009 139M922 266L965 298M836 139L792 76M402 234L446 266M922 139L965 171M706 234L662 234M532 234L489 266M662 171L576 171M576 44L532 44M879 298L922 362M792 76L706 76M965 107L879 76M836 139L749 234M619 266L576 266M619 171L489 171M402 203L359 234M879 107L922 139M316 362L316 298M965 266L1009 362M922 234L836 234M446 76L489 107M446 330L489 362M186 203L273 171M965 107L1052 44M446 76L402 107M792 234L792 203M965 266L922 330M879 234L879 298M922 76L1009 171M402 76L489 44M402 107L273 107M446 139L576 139M446 234L359 171M316 76L273 76M229 171L402 171M359 234L229 234M1052 203L879 139M706 234L619 234M532 107L489 139M619 171L619 76M273 44L316 76M879 76L792 107M229 330L229 298M749 171L792 203M402 266L316 298M576 171L489 203M922 44L965 76M532 139L619 171M792 107L619 171M749 76L836 139M576 107L446 139M576 107L662 171M532 203L532 171M229 203L273 171M792 171L706 139M359 298L402 330M186 203L273 203M792 203L792 171" stroke="#000" stroke-opacity="0.7" stroke-width="2.0" fill="none"/>
<path d="M229 44L446 76M1009 266L965 298M273 107L359 107M316 139L273 139M922 234L1009 234M402 171L489 139M836 139L922 139M576 330L662 266M879 107L836 139M706 107L879 44M662 139L792 139M792 44L576 107M489 330L316 298M965 203L1009 234M836 107L749 76M229 330L316 330M1009 298L1052 298M662 234L749 234M402 234L316 234M359 76L229 171M619 298L619 266M576 76L576 44M446 298L532 266M402 76L532 107M662 203L619 203M965 139L1009 76M662 203L749 234M619 171L532 139M273 330L229 362M186 298L186 266M922 139L1052 139M359 234L316 234M273 171L186 171M965 76L1009 76M706 234L662 266M836 203L879 234M402 171L316 139M922 139L1052 203M1052 266L1052 298M879 171L879 107M619 139L576 171M532 44L662 107M316 171L316 139M749 330L706 362M402 362L359 266M316 266L446 330M749 44L792 171M1052 139L1009 171M576 203L446 171M229 171L273 171M186 139L229 171M922 76L879 107M792 298L836 330M619 107L662 203M1009 139L1009 107M792 330L706 234M489 298L446 330M1052 266L922 298M922 107L836 76M316 76L402 107M316 44L359 76M792 107L706 139M229 107L402 44M316 266L273 234M489 139L402 139M619 234L576 139M792 171L749 139M316 76L229 107M1052 298L879 330M359 76L446 139M576 107L532 139M792 266L576 203M186 171L273 107M532 266L489 234M229 139L402 76M879 330L922 266M922 44L965 76M792 44L836 76M359 266L359 203M662 139L662 107M922 330L792 362M532 298L359 234M359 330L446 330M229 330L316 298M706 298L836 330M706 362L706 298M965 298L922 266M662 76L749 139M836 266L879 298M446 298L359 362M1009 76L1009 44M532 171L706 107M532 107L446 107M922 298L1009 298M359 107L273 76M749 234L749 266M662 171L922 44M706 171L706 139M359 139L402 171M532 234L532 171M316 234L273 234M532 76L576 44M532 139L619 139M273 171L273 203M532 203L446 203M662 203L662 107M965 139L879 139M879 234L836 266M1009 330L879 234M619 298L792 266M1052 298L1009 330M489 171L576 107M489 76L619 76M706 298L662 330M446 76L402 107M273 234L186 266M489 362L446 266M619 44L532 107M792 298L662 362M749 139L662 139M792 107L792 76M446 266L489 234M446 44L619 76M619 203L706 234M186 266L229 298M965 266L792 266M359 139L229 203M229 171L273 171M402 298L402 362M489 234L489 203M619 298L706 266M229 362L316 330M965 171L1052 171M836 76L1009 44M879 44L922 76M532 76L402 76M792 330L749 362M922 266L1009 362M273 330L273 362M965 76L922 107M1052 362L922 330M316 107L229 44M402 266L489 298M619 107L576 107M229 330L273 298M706 203L619 234M749 139L749 76M706 171L749 203M489 203L662 171M662 107L619 139M1009 203L1052 234M359 44L273 76M619 298L576 266M316 139L273 76M532 171L576 107M273 234L229 234M662 298L489 234M879 76L922 107M836 139L879 171M922 44L922 76M1009 362L922 330M446 107L489 44M836 171L879 203M489 203L402 266M922 298L879 330M576 139L749 203M576 139L619 171M792 203L879 203M229 139L186 139M402 44L316 44M489 76L229 76M576 107L619 107M879 362L922 330M359 76L316 44M922 298L965 298M749 44L576 76M792 234L836 266M965 44L922 76M229 139L273 139M446 298L489 330M1009 234L879 266M316 266L402 298M316 107L316 139M965 266L965 298M186 330L186 298M792 330L792 298M619 330L446 266M576 203L489 234M532 107L489 76M229 234L229 171M792 203L749 266M1009 298L965 298M316 234L446 266M576 298L446 266M273 44L359 44M749 139L706 139M316 107L229 107M922 76L1009 44M273 171L229 171M879 298L965 330M1009 44L965 76M316 266L273 330M576 171L532 234M662 362L706 330M1009 266L1009 171M489 266L446 266M186 298L273 266M619 330L662 298M489 266L446 330M749 234L792 139M836 107L836 234M836 76L879 107M662 107L749 107M879 330L922 362M792 298L792 362M836 266L792 298M446 171L229 171M532 171L662 203M229 139L273 139M619 234L489 234M792 44L836 76M749 107L965 139M749 203L792 171M229 330L273 362M402 266L359 298M186 330L186 298M965 266L922 298M489 298L446 266M273 44L359 44M879 76L922 107M1052 171L1009 139M879 298L792 266M359 44L316 76M273 234L316 203M446 171L316 203M273 107L402 139M706 171L662 139M706 76L532 139M1009 107L1009 44M619 139L532 234M273 107L186 139M749 139L576 171M965 266L1052 298M619 203L619 234M662 76L576 44M359 171L359 139M965 203L1052 107M706 266L792 266M489 44L446 139M532 139L576 76M229 234L273 266M879 298L836 298M662 234L576 234M316 266L359 234M316 171L359 139M662 107L792 171M1009 139L1009 203M402 266L446 171M532 44L576 44M186 234L273 266M229 266L186 298M965 139L1009 76M446 107L359 139M576 76L706 76M836 330L662 266M489 107L706 107M619 171L446 107M662 203L619 171M489 44L446 76M706 330L662 362M489 266L576 266M879 76L792 107M749 107L879 139M792 107L1009 76M749 362L706 330M965 234L792 234M922 107L965 139M489 107L532 139M489 139L359 139M359 139L446 107M359 76L273 44M879 139L965 107M662 298L619 330M532 139L359 107M662 107L662 171M446 330L402 330M706 171L706 203M749 330L792 298M402 139L229 171M922 107L879 203M359 203L359 234M316 76L359 76M446 298L402 266M446 203L576 266M402 139L359 171M402 266L359 330M186 266L186 298M359 139L229 203M706 234L836 234M662 362L662 330M576 107L576 44M922 298L965 330M316 171L316 139M792 139L749 139M879 266L965 330M229 76L229 44M489 44L749 44M706 203L706 234M273 298L316 330M792 171L706 139M879 203L922 234M359 203L359 171M489 234L402 234M965 76L1009 107M359 203L316 203M489 234L446 266M836 330L792 234M446 107L489 139M359 171L273 203M965 44L922 76M489 107L489 139M749 44L836 44M316 107L402 107M619 139L749 107M662 266L662 234M446 266L489 330M1009 298L965 298M662 107L879 107M532 171L532 203M619 107L576 171M446 107L359 44M619 330L662 266M532 234L619 298M706 107L576 171M922 107L879 139M749 76L792 171M359 203L229 234M229 139L402 203M316 44L229 107M706 171L662 203M273 44L186 44M576 330L576 298M576 266L576 107M662 298L706 330M1052 44L965 44M706 266L532 234M576 203L619 234M229 234L273 203M273 298L273 266M446 362L489 266M489 76L446 107M662 298L532 298M619 44L662 44M273 298L359 298M532 234L706 266M402 362L446 266M489 139L532 76M576 234L489 298M879 298L879 266M273 330L229 298M749 266L749 171M359 107L316 107M706 139L792 203M749 266L792 234M836 298L922 330M402 234L576 266M706 330L879 362M836 266L879 171M662 171L576 76M359 330L273 298M446 203L359 203M619 362L706 330M792 330L836 330M446 139L402 139M186 44L316 44M402 330L359 362M359 171L273 171M402 171L446 203M1052 330L1009 362M576 234L532 203M749 139L706 139M273 266L229 266M1009 76L1052 107M922 107L836 107M706 203L749 234M836 203L792 139M965 171L922 203M359 330L402 330M965 298L922 298M489 266L619 203M402 76L359 76M446 203L402 171M316 266L273 298M965 139L836 107M922 234L662 234M836 107L879 139M706 76L662 44M836 298L792 330M359 330L489 298M229 107L186 76M273 107L273 203M576 330L619 330M489 44L532 76M965 171L1009 203M316 139L359 171M273 298L186 330M1009 234L965 203M446 76L359 171M619 139L706 203M576 298L749 298M229 107L186 139M619 76L576 107M229 234L316 234M273 266L273 234M922 76L879 76M316 362L402 362M836 234L922 234M922 330L879 362M792 139L749 171M706 44L532 171M836 330L792 362M749 139L706 107M836 298L836 266M836 76L836 44M792 107L749 76M316 330L489 330M836 107L965 107M792 234L879 171M662 107L662 76M229 234L273 266M316 362L229 330M446 298L619 298M229 203L229 139M489 139L446 171M1009 44L1052 107M1009 330L1052 298M273 266L316 298M662 330L792 298M446 203L446 266M1052 330L1009 266M922 171L879 203M1009 139L879 139M576 203L619 234M402 266L489 330M749 203L836 266M316 203L402 171M186 171L186 76M662 234L706 107M359 44L359 107M749 298L792 266M359 330L402 298M619 203L792 107M186 139L229 203M749 107L662 76M273 203L273 171M1009 266L1052 330M792 139L836 139M619 171L706 107M359 203L402 203M706 362L706 330M749 234L749 203M749 76L836 107M359 266L316 234M749 330L662 330M446 76L489 76M316 107L186 171M662 330L749 330M402 171L532 139M792 171L879 139M706 362L792 298M273 203L229 76M662 362L489 266M489 203L489 76M792 171L619 107M359 330L446 330M316 330L273 298M186 139L273 76M273 44L186 44M316 266L359 298M749 107L706 203M489 44L576 107M576 44L532 44M186 171L273 139M662 203L576 266M229 266L186 266M792 330L706 298M965 107L1009 139M186 76L229 139M662 203L532 234M186 330L186 234M402 203L446 171M965 139L965 107M749 171L749 234M965 44L1052 139M576 107L619 139M446 44L489 76M1009 266L1052 298M965 266L879 266M662 234L706 266M965 107L1009 171M446 107L402 171M836 266L749 203M229 203L316 234M359 362L316 362M316 203L229 107M749 139L706 107M706 203L662 171M706 139L836 107M792 298L662 362M706 362L576 266M402 107L402 44M619 203L576 234M359 44L186 76M316 76L273 107M229 362L273 362M489 234L359 298M186 203L229 266M316 298L359 298M706 76L619 139" stroke="#000" stroke-opacity="0.7" stroke-width="2.0" fill="none"/>
<path d="M835.5 75.5L835.5 107.3M878.8 234.5L878.8 266.3M835.5 139.1L835.5 170.9M229.3 139.1L272.6 139.1M229.3 202.7L272.6 202.7M575.7 298.1L575.7 329.9M705.6 43.7L705.6 75.5M532.4 202.7L532.4 234.5M705.6 107.3L705.6 139.1M186.0 202.7L186.0 234.5M792.2 43.7L792.2 75.5M792.2 107.3L792.2 139.1M878.8 170.9L922.1 170.9M445.8 43.7L489.1 43.7M229.3 107.3L229.3 139.1M445.8 107.3L489.1 107.3M748.9 107.3L748.9 139.1M748.9 234.5L792.2 234.5M748.9 298.1L792.2 298.1M489.1 170.9L489.1 202.7M965.4 170.9L1008.7 170.9M835.5 298.1L878.8 298.1M532.4 298.1L575.7 298.1M705.6 202.7L748.9 202.7M705.6 266.3L748.9 266.3M315.9 139.1L315.9 170.9M792.2 139.1L835.5 139.1M619.0 298.1L662.3 298.1M315.9 202.7L315.9 234.5M792.2 202.7L835.5 202.7M619.0 361.7L662.3 361.7M748.9 202.7L792.2 202.7M402.5 139.1L402.5 170.9M229.3 298.1L229.3 329.9M186.0 107.3L186.0 139.1M402.5 202.7L402.5 234.5M922.1 170.9L965.4 170.9M662.3 107.3L705.6 107.3M489.1 266.3L532.4 266.3M662.3 170.9L705.6 170.9M748.9 266.3L792.2 266.3M922.1 107.3L965.4 107.3M1008.7 43.7L1052.0 43.7M272.6 107.3L272.6 139.1M272.6 170.9L272.6 202.7M965.4 234.5L965.4 266.3M705.6 170.9L748.9 170.9M922.1 234.5L922.1 266.3M1052.0 43.7L1052.0 75.5M922.1 298.1L922.1 329.9M662.3 298.1L662.3 329.9M1008.7 298.1L1008.7 329.9M835.5 43.7L835.5 75.5M705.6 298.1L705.6 329.9M186.0 75.5L229.3 75.5M878.8 202.7L878.8 234.5M835.5 107.3L835.5 139.1M878.8 266.3L878.8 298.1M835.5 170.9L835.5 202.7M229.3 170.9L272.6 170.9M229.3 234.5L272.6 234.5M792.2 298.1L792.2 329.9M965.4 139.1L965.4 170.9M575.7 266.3L575.7 298.1M965.4 202.7L965.4 234.5M662.3 266.3L662.3 298.1M662.3 329.9L662.3 361.7M229.3 75.5L229.3 107.3M445.8 75.5L489.1 75.5M835.5 202.7L878.8 202.7M835.5 266.3L878.8 266.3M445.8 202.7L445.8 234.5M532.4 329.9L575.7 329.9M965.4 361.7L1008.7 361.7M315.9 170.9L315.9 202.7M792.2 170.9L835.5 170.9M619.0 329.9L662.3 329.9M186.0 170.9L186.0 202.7M792.2 234.5L835.5 234.5M359.2 75.5L359.2 107.3M402.5 107.3L402.5 139.1M229.3 266.3L229.3 298.1M402.5 170.9L402.5 202.7M835.5 234.5L878.8 234.5M1052.0 298.1L1052.0 329.9M445.8 298.1L489.1 298.1M445.8 361.7L489.1 361.7M922.1 202.7L922.1 234.5M922.1 266.3L922.1 298.1M315.9 75.5L359.2 75.5M1008.7 202.7L1008.7 234.5M359.2 170.9L402.5 170.9M1008.7 266.3L1008.7 298.1M445.8 266.3L445.8 298.1M965.4 75.5L1008.7 75.5M402.5 329.9L445.8 329.9M402.5 75.5L445.8 75.5M186.0 43.7L229.3 43.7M705.6 329.9L705.6 361.7M878.8 170.9L878.8 202.7M792.2 266.3L792.2 298.1M272.6 43.7L315.9 43.7M965.4 170.9L965.4 202.7M792.2 329.9L792.2 361.7M229.3 329.9L229.3 361.7M922.1 361.7L965.4 361.7M532.4 298.1L532.4 329.9M1008.7 361.7L1052.0 361.7M619.0 298.1L619.0 329.9M878.8 329.9L922.1 329.9M878.8 75.5L922.1 75.5M878.8 139.1L922.1 139.1M445.8 170.9L445.8 202.7M965.4 329.9L1008.7 329.9M489.1 75.5L489.1 107.3M922.1 329.9L965.4 329.9M359.2 43.7L359.2 75.5M1052.0 266.3L1052.0 298.1M1052.0 329.9L1052.0 361.7M445.8 329.9L489.1 329.9M445.8 139.1L489.1 139.1M489.1 234.5L532.4 234.5M748.9 329.9L748.9 361.7M186.0 234.5L229.3 234.5M359.2 139.1L402.5 139.1M186.0 298.1L229.3 298.1M1008.7 170.9L1008.7 202.7M835.5 329.9L835.5 361.7M1008.7 234.5L1008.7 266.3M315.9 107.3L359.2 107.3M359.2 202.7L402.5 202.7M315.9 43.7L359.2 43.7M445.8 234.5L445.8 266.3M402.5 234.5L445.8 234.5M272.6 234.5L315.9 234.5M402.5 43.7L445.8 43.7M272.6 298.1L315.9 298.1M1052.0 234.5L1052.0 266.3M922.1 75.5L965.4 75.5M922.1 139.1L965.4 139.1M1008.7 329.9L1052.0 329.9M532.4 75.5L532.4 107.3M575.7 170.9L575.7 202.7M1008.7 75.5L1052.0 75.5M532.4 139.1L532.4 170.9M575.7 234.5L575.7 266.3M1008.7 139.1L1052.0 139.1M619.0 329.9L619.0 361.7M619.0 75.5L619.0 107.3M878.8 43.7L922.1 43.7M878.8 107.3L922.1 107.3M359.2 234.5L359.2 266.3M489.1 43.7L489.1 75.5M965.4 43.7L1008.7 43.7M489.1 107.3L489.1 139.1M965.4 107.3L1008.7 107.3M705.6 75.5L748.9 75.5M532.4 234.5L575.7 234.5M705.6 139.1L748.9 139.1M315.9 75.5L315.9 107.3M792.2 75.5L835.5 75.5M575.7 107.3L619.0 107.3M748.9 75.5L792.2 75.5M878.8 298.1L922.1 298.1M402.5 75.5L402.5 107.3M489.1 139.1L532.4 139.1M315.9 298.1L359.2 298.1M922.1 43.7L965.4 43.7M662.3 43.7L705.6 43.7M489.1 202.7L532.4 202.7M315.9 361.7L359.2 361.7M965.4 298.1L1008.7 298.1M402.5 298.1L445.8 298.1M359.2 107.3L402.5 107.3M402.5 361.7L445.8 361.7M186.0 266.3L229.3 266.3M186.0 329.9L229.3 329.9M705.6 43.7L748.9 43.7M272.6 266.3L315.9 266.3M272.6 329.9L315.9 329.9M662.3 234.5L662.3 266.3M748.9 43.7L748.9 75.5M359.2 298.1L359.2 329.9M878.8 75.5L878.8 107.3M705.6 234.5L705.6 266.3M878.8 139.1L878.8 170.9M229.3 43.7L272.6 43.7M229.3 107.3L272.6 107.3M532.4 43.7L532.4 75.5M965.4 75.5L965.4 107.3M575.7 139.1L575.7 170.9M532.4 107.3L532.4 139.1M575.7 202.7L575.7 234.5M1008.7 107.3L1052.0 107.3M878.8 361.7L922.1 361.7M186.0 43.7L186.0 75.5M619.0 43.7L619.0 75.5M662.3 139.1L662.3 170.9M489.1 298.1L489.1 329.9M662.3 202.7L662.3 234.5M619.0 107.3L619.0 139.1M748.9 139.1L792.2 139.1M359.2 266.3L359.2 298.1M359.2 329.9L359.2 361.7M835.5 75.5L878.8 75.5M835.5 139.1L878.8 139.1M229.3 75.5L272.6 75.5M445.8 139.1L445.8 170.9M575.7 298.1L619.0 298.1M532.4 202.7L575.7 202.7M705.6 107.3L748.9 107.3M532.4 266.3L575.7 266.3M186.0 234.5L186.0 266.3M619.0 139.1L662.3 139.1M315.9 43.7L315.9 75.5M186.0 298.1L186.0 329.9M662.3 298.1L705.6 298.1M792.2 43.7L835.5 43.7M619.0 202.7L662.3 202.7M619.0 266.3L662.3 266.3M662.3 361.7L705.6 361.7M792.2 107.3L835.5 107.3M229.3 139.1L229.3 170.9M748.9 107.3L792.2 107.3M402.5 43.7L402.5 75.5M359.2 361.7L402.5 361.7M229.3 202.7L229.3 234.5M315.9 266.3L359.2 266.3M489.1 170.9L532.4 170.9M315.9 329.9L359.2 329.9M748.9 170.9L792.2 170.9M835.5 43.7L878.8 43.7M965.4 266.3L1008.7 266.3M835.5 107.3L878.8 107.3M402.5 266.3L445.8 266.3M835.5 170.9L878.8 170.9M532.4 170.9L575.7 170.9M922.1 75.5L922.1 107.3M748.9 234.5L748.9 266.3M922.1 139.1L922.1 170.9M748.9 298.1L748.9 329.9M619.0 170.9L662.3 170.9M1008.7 75.5L1008.7 107.3M1008.7 139.1L1008.7 170.9M835.5 298.1L835.5 329.9M229.3 298.1L272.6 298.1M229.3 361.7L272.6 361.7M705.6 202.7L705.6 234.5M878.8 43.7L878.8 75.5M705.6 266.3L705.6 298.1M878.8 107.3L878.8 139.1M315.9 107.3L315.9 139.1M792.2 139.1L792.2 170.9M965.4 43.7L965.4 75.5M792.2 202.7L792.2 234.5M965.4 107.3L965.4 139.1M662.3 107.3L662.3 139.1M922.1 298.1L965.4 298.1M489.1 266.3L489.1 298.1M662.3 170.9L662.3 202.7M489.1 329.9L489.1 361.7M315.9 170.9L359.2 170.9M1008.7 298.1L1052.0 298.1M705.6 298.1L748.9 298.1M705.6 361.7L748.9 361.7M315.9 298.1L315.9 329.9M445.8 43.7L445.8 75.5M792.2 298.1L835.5 298.1M445.8 107.3L445.8 139.1M575.7 266.3L619.0 266.3M792.2 361.7L835.5 361.7M575.7 329.9L619.0 329.9M575.7 75.5L619.0 75.5M402.5 298.1L402.5 329.9M186.0 266.3L186.0 298.1M662.3 266.3L705.6 266.3M619.0 234.5L662.3 234.5M662.3 329.9L705.6 329.9M186.0 75.5L186.0 107.3M662.3 75.5L705.6 75.5M272.6 266.3L272.6 298.1M229.3 170.9L229.3 202.7M272.6 329.9L272.6 361.7M1052.0 139.1L1052.0 170.9M1052.0 202.7L1052.0 234.5M445.8 266.3L489.1 266.3M748.9 202.7L748.9 234.5M922.1 107.3L922.1 139.1M748.9 266.3L748.9 298.1M922.1 170.9L922.1 202.7M186.0 170.9L229.3 170.9M878.8 298.1L878.8 329.9M1008.7 43.7L1008.7 75.5M835.5 202.7L835.5 234.5M359.2 75.5L402.5 75.5M1008.7 107.3L1008.7 139.1M835.5 266.3L835.5 298.1M229.3 266.3L272.6 266.3M229.3 329.9L272.6 329.9M705.6 170.9L705.6 202.7M186.0 329.9L186.0 361.7M1052.0 107.3L1052.0 139.1M792.2 170.9L792.2 202.7M792.2 234.5L792.2 266.3M445.8 170.9L489.1 170.9M229.3 234.5L229.3 266.3M445.8 234.5L489.1 234.5M922.1 202.7L965.4 202.7M748.9 361.7L792.2 361.7M922.1 266.3L965.4 266.3M1008.7 202.7L1052.0 202.7M835.5 361.7L878.8 361.7M532.4 266.3L532.4 298.1M1008.7 266.3L1052.0 266.3M445.8 75.5L445.8 107.3M619.0 139.1L619.0 170.9M445.8 298.1L445.8 329.9M619.0 202.7L619.0 234.5M619.0 266.3L619.0 298.1M705.6 329.9L748.9 329.9M315.9 266.3L315.9 298.1M792.2 266.3L835.5 266.3M315.9 329.9L315.9 361.7M792.2 329.9L835.5 329.9M575.7 43.7L619.0 43.7M748.9 329.9L792.2 329.9M402.5 266.3L402.5 298.1M402.5 329.9L402.5 361.7M532.4 170.9L532.4 202.7M1008.7 170.9L1052.0 170.9M1008.7 234.5L1052.0 234.5M272.6 43.7L272.6 75.5M965.4 298.1L965.4 329.9M1052.0 170.9L1052.0 202.7M489.1 75.5L532.4 75.5M315.9 234.5L359.2 234.5M965.4 234.5L1008.7 234.5M186.0 139.1L229.3 139.1M359.2 43.7L402.5 43.7M186.0 202.7L229.3 202.7M878.8 329.9L878.8 361.7M835.5 234.5L835.5 266.3M748.9 170.9L748.9 202.7M272.6 75.5L315.9 75.5M272.6 139.1L315.9 139.1M965.4 266.3L965.4 298.1M272.6 202.7L315.9 202.7M965.4 329.9L965.4 361.7M359.2 170.9L359.2 202.7M186.0 107.3L229.3 107.3M835.5 329.9L878.8 329.9M575.7 75.5L575.7 107.3M878.8 234.5L922.1 234.5M445.8 329.9L445.8 361.7M619.0 170.9L619.0 202.7M619.0 234.5L619.0 266.3M662.3 75.5L662.3 107.3M359.2 139.1L359.2 170.9M359.2 202.7L359.2 234.5M402.5 234.5L402.5 266.3M532.4 75.5L575.7 75.5M575.7 170.9L619.0 170.9M532.4 139.1L575.7 139.1M575.7 234.5L619.0 234.5M619.0 75.5L662.3 75.5M662.3 234.5L705.6 234.5M922.1 329.9L922.1 361.7M315.9 139.1L359.2 139.1M748.9 43.7L792.2 43.7M359.2 234.5L402.5 234.5M489.1 43.7L532.4 43.7M1008.7 329.9L1008.7 361.7M315.9 202.7L359.2 202.7M489.1 107.3L532.4 107.3M359.2 298.1L402.5 298.1M965.4 139.1L1008.7 139.1M402.5 139.1L445.8 139.1M402.5 202.7L445.8 202.7M532.4 43.7L575.7 43.7M532.4 107.3L575.7 107.3M272.6 107.3L315.9 107.3M272.6 170.9L315.9 170.9M489.1 234.5L489.1 266.3M922.1 234.5L965.4 234.5M705.6 75.5L705.6 107.3M532.4 234.5L532.4 266.3M272.6 234.5L272.6 266.3M705.6 139.1L705.6 170.9M272.6 298.1L272.6 329.9M792.2 75.5L792.2 107.3M575.7 43.7L575.7 75.5M878.8 202.7L922.1 202.7M575.7 107.3L575.7 139.1M878.8 266.3L922.1 266.3M489.1 139.1L489.1 170.9M662.3 43.7L662.3 75.5M489.1 202.7L489.1 234.5M965.4 202.7L1008.7 202.7M359.2 107.3L359.2 139.1M705.6 234.5L748.9 234.5M315.9 234.5L315.9 266.3M575.7 139.1L619.0 139.1M575.7 202.7L619.0 202.7M186.0 139.1L186.0 170.9M662.3 139.1L705.6 139.1M489.1 298.1L532.4 298.1M445.8 202.7L489.1 202.7M662.3 202.7L705.6 202.7M619.0 107.3L662.3 107.3M619.0 43.7L662.3 43.7M272.6 75.5L272.6 107.3M229.3 43.7L229.3 75.5M186.0 361.7L229.3 361.7M272.6 139.1L272.6 170.9M272.6 202.7L272.6 234.5M359.2 266.3L402.5 266.3M359.2 329.9L402.5 329.9M402.5 107.3L445.8 107.3M272.6 361.7L315.9 361.7M402.5 170.9L445.8 170.9M1052.0 75.5L1052.0 107.3M748.9 75.5L748.9 107.3M748.9 139.1L748.9 170.9M922.1 43.7L922.1 75.5" stroke="#000" stroke-width="2.4" fill="none" stroke-linecap="square"/>
<rect x="153" y="411.5" width="927.0" height="362.3" fill="#ff0000"/>
<path d="M153.0 437.1H206.7M174.3 412.3V461.9M153.0 504.2H206.7M174.3 479.4V529.0M153.0 571.3H206.7M174.3 546.5V596.1M153.0 638.4H206.7M174.3 613.6V663.2M153.0 705.5H206.7M174.3 680.7V730.3M153.0 772.6H206.7M174.3 747.8V773.8M228.8 437.1H293.6M261.2 412.3V461.9M228.8 504.2H293.6M261.2 479.4V529.0M228.8 571.3H293.6M261.2 546.5V596.1M228.8 638.4H293.6M261.2 613.6V663.2M228.8 705.5H293.6M261.2 680.7V730.3M228.8 772.6H293.6M261.2 747.8V773.8M315.7 437.1H380.5M348.1 412.3V461.9M315.7 504.2H380.5M348.1 479.4V529.0M315.7 571.3H380.5M348.1 546.5V596.1M315.7 638.4H380.5M348.1 613.6V663.2M315.7 705.5H380.5M348.1 680.7V730.3M315.7 772.6H380.5M348.1 747.8V773.8M402.6 437.1H467.4M435.0 412.3V461.9M402.6 504.2H467.4M435.0 479.4V529.0M402.6 571.3H467.4M435.0 546.5V596.1M402.6 638.4H467.4M435.0 613.6V663.2M402.6 705.5H467.4M435.0 680.7V730.3M402.6 772.6H467.4M435.0 747.8V773.8M489.5 437.1H554.3M521.9 412.3V461.9M489.5 504.2H554.3M521.9 479.4V529.0M489.5 571.3H554.3M521.9 546.5V596.1M489.5 638.4H554.3M521.9 613.6V663.2M489.5 705.5H554.3M521.9 680.7V730.3M489.5 772.6H554.3M521.9 747.8V773.8M576.4 437.1H641.2M608.8 412.3V461.9M576.4 504.2H641.2M608.8 479.4V529.0M576.4 571.3H641.2M608.8 546.5V596.1M576.4 638.4H641.2M608.8 613.6V663.2M576.4 705.5H641.2M608.8 680.7V730.3M576.4 772.6H641.2M608.8 747.8V773.8M663.3 437.1H728.1M695.7 412.3V461.9M663.3 504.2H728.1M695.7 479.4V529.0M663.3 571.3H728.1M695.7 546.5V596.1M663.3 638.4H728.1M695.7 613.6V663.2M663.3 705.5H728.1M695.7 680.7V730.3M663.3 772.6H728.1M695.7 747.8V773.8M750.2 437.1H815.0M782.6 412.3V461.9M750.2 504.2H815.0M782.6 479.4V529.0M750.2 571.3H815.0M782.6 546.5V596.1M750.2 638.4H815.0M782.6 613.6V663.2M750.2 705.5H815.0M782.6 680.7V730.3M750.2 772.6H815.0M782.6 747.8V773.8M837.1 437.1H901.9M869.5 412.3V461.9M837.1 504.2H901.9M869.5 479.4V529.0M837.1 571.3H901.9M869.5 546.5V596.1M837.1 638.4H901.9M869.5 613.6V663.2M837.1 705.5H901.9M869.5 680.7V730.3M837.1 772.6H901.9M869.5 747.8V773.8M924.0 437.1H988.8M956.4 412.3V461.9M924.0 504.2H988.8M956.4 479.4V529.0M924.0 571.3H988.8M956.4 546.5V596.1M924.0 638.4H988.8M956.4 613.6V663.2M924.0 705.5H988.8M956.4 680.7V730.3M924.0 772.6H988.8M956.4 747.8V773.8M1010.9 437.1H1075.7M1043.3 412.3V461.9M1010.9 504.2H1075.7M1043.3 479.4V529.0M1010.9 571.3H1075.7M1043.3 546.5V596.1M1010.9 638.4H1075.7M1043.3 613.6V663.2M1010.9 705.5H1075.7M1043.3 680.7V730.3M1010.9 772.6H1075.7M1043.3 747.8V773.8" stroke="#7a1790" stroke-width="3" fill="none"/>
<path d="M694.1 569.7h46.7v36.8h-46.7zM346.5 435.5h46.7v36.8h-46.7zM389.9 469.1h46.7v36.8h-46.7zM520.3 435.5h46.7v36.8h-46.7zM911.4 536.1h46.7v36.8h-46.7zM998.3 435.5h46.7v36.8h-46.7zM607.2 636.8h46.7v36.8h-46.7zM172.7 603.2h46.7v36.8h-46.7zM259.6 502.6h46.7v36.8h-46.7zM650.6 603.2h46.7v36.8h-46.7zM824.4 603.2h46.7v36.8h-46.7zM433.4 502.6h46.7v36.8h-46.7zM476.9 469.1h46.7v36.8h-46.7zM954.8 469.1h46.7v36.8h-46.7zM346.5 502.6h46.7v36.8h-46.7zM303.1 636.8h46.7v36.8h-46.7zM389.9 536.1h46.7v36.8h-46.7zM520.3 502.6h46.7v36.8h-46.7zM911.4 603.2h46.7v36.8h-46.7zM563.8 469.1h46.7v36.8h-46.7zM172.7 670.4h46.7v36.8h-46.7zM259.6 569.7h46.7v36.8h-46.7zM650.6 670.4h46.7v36.8h-46.7zM737.6 469.1h46.7v36.8h-46.7zM824.4 670.4h46.7v36.8h-46.7zM433.4 569.7h46.7v36.8h-46.7zM867.9 636.8h46.7v36.8h-46.7zM476.9 536.1h46.7v36.8h-46.7zM954.8 536.1h46.7v36.8h-46.7zM389.9 603.2h46.7v36.8h-46.7zM520.3 569.7h46.7v36.8h-46.7zM911.4 670.4h46.7v36.8h-46.7zM563.8 536.1h46.7v36.8h-46.7zM172.7 435.5h46.7v36.8h-46.7zM650.6 435.5h46.7v36.8h-46.7zM737.6 536.1h46.7v36.8h-46.7zM824.4 435.5h46.7v36.8h-46.7zM433.4 636.8h46.7v36.8h-46.7zM476.9 603.2h46.7v36.8h-46.7zM954.8 603.2h46.7v36.8h-46.7zM303.1 469.1h46.7v36.8h-46.7zM781.0 469.1h46.7v36.8h-46.7zM911.4 435.5h46.7v36.8h-46.7zM389.9 670.4h46.7v36.8h-46.7zM998.3 636.8h46.7v36.8h-46.7zM563.8 603.2h46.7v36.8h-46.7zM172.7 502.6h46.7v36.8h-46.7zM650.6 502.6h46.7v36.8h-46.7zM216.2 536.1h46.7v36.8h-46.7zM737.6 603.2h46.7v36.8h-46.7zM824.4 502.6h46.7v36.8h-46.7zM867.9 469.1h46.7v36.8h-46.7zM476.9 670.4h46.7v36.8h-46.7zM954.8 670.4h46.7v36.8h-46.7zM694.1 636.8h46.7v36.8h-46.7zM303.1 536.1h46.7v36.8h-46.7zM389.9 435.5h46.7v36.8h-46.7zM781.0 536.1h46.7v36.8h-46.7zM911.4 502.6h46.7v36.8h-46.7zM563.8 670.4h46.7v36.8h-46.7zM650.6 569.7h46.7v36.8h-46.7zM216.2 603.2h46.7v36.8h-46.7zM737.6 670.4h46.7v36.8h-46.7zM433.4 469.1h46.7v36.8h-46.7zM824.4 569.7h46.7v36.8h-46.7zM476.9 435.5h46.7v36.8h-46.7zM867.9 536.1h46.7v36.8h-46.7zM954.8 435.5h46.7v36.8h-46.7zM303.1 603.2h46.7v36.8h-46.7zM389.9 502.6h46.7v36.8h-46.7zM346.5 569.7h46.7v36.8h-46.7zM781.0 603.2h46.7v36.8h-46.7zM563.8 435.5h46.7v36.8h-46.7zM911.4 569.7h46.7v36.8h-46.7zM607.2 469.1h46.7v36.8h-46.7zM737.6 435.5h46.7v36.8h-46.7zM216.2 670.4h46.7v36.8h-46.7zM824.4 636.8h46.7v36.8h-46.7zM259.6 636.8h46.7v36.8h-46.7zM867.9 603.2h46.7v36.8h-46.7zM476.9 502.6h46.7v36.8h-46.7zM954.8 502.6h46.7v36.8h-46.7zM694.1 469.1h46.7v36.8h-46.7zM303.1 670.4h46.7v36.8h-46.7zM389.9 569.7h46.7v36.8h-46.7zM346.5 636.8h46.7v36.8h-46.7zM781.0 670.4h46.7v36.8h-46.7zM563.8 502.6h46.7v36.8h-46.7zM520.3 636.8h46.7v36.8h-46.7zM607.2 536.1h46.7v36.8h-46.7zM216.2 435.5h46.7v36.8h-46.7zM737.6 502.6h46.7v36.8h-46.7zM867.9 670.4h46.7v36.8h-46.7zM476.9 569.7h46.7v36.8h-46.7zM954.8 569.7h46.7v36.8h-46.7zM694.1 536.1h46.7v36.8h-46.7zM303.1 435.5h46.7v36.8h-46.7zM781.0 435.5h46.7v36.8h-46.7zM389.9 636.8h46.7v36.8h-46.7zM607.2 603.2h46.7v36.8h-46.7zM216.2 502.6h46.7v36.8h-46.7zM172.7 569.7h46.7v36.8h-46.7zM259.6 469.1h46.7v36.8h-46.7zM737.6 569.7h46.7v36.8h-46.7zM867.9 435.5h46.7v36.8h-46.7zM694.1 603.2h46.7v36.8h-46.7zM303.1 502.6h46.7v36.8h-46.7zM781.0 502.6h46.7v36.8h-46.7zM346.5 469.1h46.7v36.8h-46.7zM520.3 469.1h46.7v36.8h-46.7zM607.2 670.4h46.7v36.8h-46.7zM216.2 569.7h46.7v36.8h-46.7zM172.7 636.8h46.7v36.8h-46.7zM259.6 536.1h46.7v36.8h-46.7zM650.6 636.8h46.7v36.8h-46.7zM867.9 502.6h46.7v36.8h-46.7zM433.4 536.1h46.7v36.8h-46.7zM694.1 670.4h46.7v36.8h-46.7zM303.1 569.7h46.7v36.8h-46.7zM781.0 569.7h46.7v36.8h-46.7zM346.5 536.1h46.7v36.8h-46.7zM911.4 636.8h46.7v36.8h-46.7zM520.3 536.1h46.7v36.8h-46.7zM607.2 435.5h46.7v36.8h-46.7zM216.2 636.8h46.7v36.8h-46.7zM259.6 603.2h46.7v36.8h-46.7zM867.9 569.7h46.7v36.8h-46.7zM433.4 603.2h46.7v36.8h-46.7zM694.1 435.5h46.7v36.8h-46.7zM781.0 636.8h46.7v36.8h-46.7zM346.5 603.2h46.7v36.8h-46.7zM520.3 603.2h46.7v36.8h-46.7zM607.2 502.6h46.7v36.8h-46.7zM563.8 569.7h46.7v36.8h-46.7zM172.7 469.1h46.7v36.8h-46.7zM650.6 469.1h46.7v36.8h-46.7zM259.6 670.4h46.7v36.8h-46.7zM824.4 469.1h46.7v36.8h-46.7zM433.4 670.4h46.7v36.8h-46.7zM476.9 636.8h46.7v36.8h-46.7zM954.8 636.8h46.7v36.8h-46.7zM694.1 502.6h46.7v36.8h-46.7zM346.5 670.4h46.7v36.8h-46.7zM911.4 469.1h46.7v36.8h-46.7zM520.3 670.4h46.7v36.8h-46.7zM607.2 569.7h46.7v36.8h-46.7zM216.2 469.1h46.7v36.8h-46.7zM172.7 536.1h46.7v36.8h-46.7zM259.6 435.5h46.7v36.8h-46.7zM563.8 636.8h46.7v36.8h-46.7zM650.6 536.1h46.7v36.8h-46.7zM998.3 670.4h46.7v36.8h-46.7zM737.6 636.8h46.7v36.8h-46.7zM824.4 536.1h46.7v36.8h-46.7zM433.4 435.5h46.7v36.8h-46.7z" fill="#ff0000"/>
<path d="M478 471L435 471M826 605L913 638M348 638L478 638M696 638L696 538M652 504L783 571M870 471L739 471M435 672L261 538M522 605L609 504M609 504L609 571M913 605L956 638M174 471L348 504M783 638L739 672M565 504L522 538M652 571L826 504M826 638L826 538M609 638L652 638M218 538L261 538M478 706L348 706M652 471L826 571M913 437L956 471M348 538L305 571M392 471L435 471M435 571L478 605M783 437L826 471M435 538L392 571M174 571L218 638M870 706L783 672M609 605L826 638M826 605L826 538M305 504L261 538M565 504L522 538M522 638L522 538M261 437L348 504M609 571L739 571M739 706L609 638M305 672L261 706M478 706L218 706M565 605L609 571M261 571L305 437M609 538L478 538M652 538L783 538M435 638L435 571M870 638L913 672M870 504L956 538M174 706L218 706M435 605L348 638M870 538L913 571M652 605L652 571M609 706L783 706M392 538L305 571M435 571L305 605M739 437L739 471M565 471L609 638M478 638L435 672M739 638L826 638M305 706L261 706M435 672L478 706M478 437L565 437M522 571L348 605M913 471L956 504M435 605L392 638M565 672L609 605M696 504L565 571M956 471L913 504M609 638L522 638M565 471L522 538M609 437L652 437M261 638L261 538M783 437L870 504M565 672L739 672M348 605L392 638M696 638L739 672M478 504L435 538M565 672L609 706M305 605L305 638M913 437L1043 437M565 672L739 638M1043 672L1043 638M783 605L870 605M609 605L565 638M1000 638L956 672M696 437L652 471M739 672L696 706M261 538L218 571M522 571L478 605M261 571L348 504M913 504L1000 605M870 538L739 471M609 638L652 605M522 538L565 538M956 571L956 605M522 605L609 638M478 605L478 571M783 605L739 571M913 538L956 471M435 538L478 504M478 504L435 538M609 538L565 538M652 471L652 538M783 437L826 471M870 504L913 538M1043 638L1000 672M870 706L652 672M522 471L348 538M348 605L174 605M870 672L870 538M739 538L783 571M565 706L392 672M218 504L392 471M609 504L522 471M435 437L478 437M392 437L218 437M392 538L305 672M783 605L870 605M478 538L392 571M652 638L565 571M478 605L435 638M435 672L392 706M870 538L1000 571M739 471L652 471M652 638L696 672M696 571L913 538M956 538L913 571M261 471L218 504M652 638L565 672M565 638L522 672M913 538L870 571M826 571L870 605M261 437L218 471M435 471L348 471M305 638L305 672M739 538L956 471M826 504L696 538M392 437L435 471M174 571L218 605M696 504L826 504M1000 504L913 504M392 672L435 672M826 471L913 437M478 638L348 504M565 672L609 605M261 437L218 437M305 638L218 571M522 437L565 471M174 605L305 571M913 638L870 538M261 638L261 706M305 571L261 605M392 504L652 538M826 437L783 471M261 672L261 638M261 571L478 605M305 605L348 571M261 504L218 437M565 538L609 538M652 571L696 605M435 638L435 672M609 638L652 638M305 471L305 538M348 706L435 706M652 504L652 471M956 538L913 504M261 504L261 605M565 706L392 706M783 638L522 706M652 471L696 471M826 538L739 605M392 706L348 638M739 638L783 538M609 437L478 471M870 504L1000 538M870 471L826 504M478 538L348 605M826 638L739 571M435 672L478 706M478 538L565 538M174 672L261 538M478 571L435 605M913 638L870 672M826 605L739 638M783 571L913 538M870 638L826 706M305 672L348 706M1000 706L956 638M913 605L870 638M218 504L261 471M261 538L218 571M1000 605L870 706M696 605L739 605M565 605L696 638M739 437L696 471M609 504L522 538M522 471L522 538M435 638L609 638M783 437L956 538M478 672L478 706M261 672L478 672M174 672L218 605M913 538L956 571M261 571L261 638M348 605L392 672M218 538L261 504M348 571L348 437M652 538L739 437M652 538L696 571M305 437L218 571M913 437L783 504M261 504L261 638M696 538L652 571M435 638L348 638M218 672L348 706M913 571L783 504M696 638L565 504M956 605L913 538M696 672L783 571M392 638L435 672M609 471L739 437M913 605L1000 605M783 571L913 571M609 538L565 571M1000 437L956 471M348 638L261 571M956 638L913 672M870 437L826 471M1000 504L913 538M522 437L478 471M870 504L1000 538M609 437L565 471M1043 672L956 638M261 706L261 571M652 672L565 638M739 605L826 605M696 638L652 672M783 672L696 672M826 571L783 638M522 538L478 571M652 706L696 605M696 672L826 706M956 571L826 638M392 638L435 672M348 538L392 571M435 504L522 471M956 638L956 538M826 504L783 538M218 638L305 706M956 638L1000 672M261 504L261 571M305 605L348 638M478 605L565 471M1043 706L913 638M826 706L1000 672M956 538L913 471M783 538L913 504M739 672L652 672M478 571L565 504M435 571L435 605M218 437L261 471M305 538L261 471M870 437L913 471M652 672L609 672M913 672L956 706M652 538L522 706M739 672L696 571M392 471L218 504M652 672L696 672M218 571L261 605M870 538L739 538M392 605L348 605M783 471L870 538M478 538L522 571M1000 638L1043 672M1000 638L913 672M913 605L956 605" stroke="#000" stroke-opacity="0.7" stroke-width="2.0" fill="none"/>
<path d="M783 571L739 538M913 504L1000 638M826 605L870 638M652 504L739 605M218 504L174 538M174 437L218 571M305 605L261 605M609 471L652 504M435 638L348 538M348 538L305 504M348 504L305 571M826 638L565 672M348 638L305 638M956 571L913 605M565 571L435 538M913 638L870 672M435 571L478 571M956 605L1000 605M522 672L652 706M652 504L609 538M478 437L522 471M609 538L652 605M435 672L348 672M478 638L565 672M739 571L783 672M696 605L652 672M435 504L348 471M913 672L956 638M305 437L261 471M392 605L348 638M392 571L435 605M609 471L652 504M609 471L565 504M696 504L783 538M478 638L522 672M956 605L783 605M305 571L261 605M565 471L565 437M696 672L652 605M174 638L218 672M174 706L174 538M609 706L696 605M826 437L783 471M174 706L261 571M261 638L218 672M913 672L1000 672M870 571L783 538M956 471L913 437M956 437L913 471M435 504L261 471M826 638L826 672M261 504L305 538M696 471L652 538M1000 538L1000 471M652 571L783 571M522 672L478 706M609 471L783 504M739 571L783 605M218 571L174 706M739 504L783 471M1000 538L956 571M783 504L870 504M1043 437L1000 471M652 504L652 538M305 471L348 504M392 605L435 638M826 638L913 571M348 571L348 605M392 638L392 571M392 504L435 538M696 605L739 638M739 638L826 706M783 504L739 538M783 706L565 638M826 538L739 538M739 638L783 706M305 437L435 538M565 538L696 538M913 571L870 605M652 471L652 437M478 471L435 504M174 471L261 504M435 504L435 437M783 538L522 471M305 437L261 471M348 471L218 471M870 638L870 672M348 571L392 605M696 638L696 538M522 437L565 504M435 538L392 504M348 638L392 605M956 437L1000 471M913 672L956 538M478 605L435 571M652 504L913 471M783 638L652 605M435 571L261 471M435 605L522 605M609 538L826 605M609 638L522 706M435 504L478 538M696 706L870 638M565 605L565 706M783 571L783 605M392 538L348 571M739 538L826 672M739 605L739 504M609 538L609 437M870 638L913 605M348 672L305 706M435 471L392 504M783 638L826 672M609 638L652 605M565 638L565 538M696 538L739 571M609 471L652 437M696 437L652 538M305 571L348 672M652 571L652 605M696 706L783 638M870 471L913 504M870 571L696 538M305 672L305 638M261 706L218 605M696 471L739 538M956 672L1043 706M826 638L870 672M392 638L261 672M956 706L870 571M1000 706L1043 672M739 706L739 638M913 437L826 437M913 504L870 538M739 638L609 538M826 538L956 538M435 504L478 471M696 437L826 437M435 538L305 638M652 504L783 605M565 504L609 538M739 504L783 471M435 437L478 471M305 504L392 571M913 672L1000 571M435 437L435 538M696 437L783 471M956 672L913 706M305 538L348 538M783 538L696 504M870 538L870 571M522 571L522 504M652 471L565 437M478 605L392 605M392 571L348 605M870 605L913 706M826 571L913 538M261 638L218 638M826 638L870 706M609 538L739 538M435 605L478 504M218 471L261 504M739 471L783 504M522 605L565 638M435 471L478 471M826 471L956 672M783 672L696 605M435 571L392 605M1000 538L913 538M174 504L218 538M348 504L435 437M435 437L478 437M218 605L261 638M652 538L652 605M392 538L348 538M261 571L174 605M696 638L739 571M174 672L261 638M739 471L565 437M783 471L739 504M218 538L261 571M348 638L305 672M174 538L174 504M913 672L739 706M392 504L478 571M870 504L826 538M435 504L305 605M870 672L826 706M739 504L696 538M870 504L696 571M783 504L826 538M348 672L348 605M609 672L522 706M1000 471L1043 437M870 571L913 706M652 471L696 504M435 605L522 538M261 605L305 638M435 638L348 672M739 571L652 605M392 571L565 605M956 638L870 571M739 638L783 672M609 504L435 538M435 437L478 471M435 638L392 605M261 638L305 638M392 638L478 672M696 504L652 538M609 437L609 538M913 471L956 471M609 538L652 538M913 706L739 706M870 638L870 605M696 437L739 471M783 471L739 605M870 571L826 605M696 672L739 706M826 471L870 571M652 504L783 437M956 571L1000 605M783 471L826 504M1000 571L1000 672M652 605L609 638M783 538L826 571M652 605L609 638M739 706L739 672M305 538L392 571M913 605L826 638M826 571L739 638M435 605L435 571M956 571L913 706M261 605L305 706M565 437L435 538M739 538L739 504M652 571L609 605M913 471L956 504M348 471L305 504M435 538L478 571M174 672L218 706M826 605L609 638M609 638L478 672M956 437L913 437M609 471L652 571M956 571L913 605M870 638L1000 571M652 504L696 538M913 471L696 437M565 504L609 504M783 638L739 706M652 437L783 571M305 538L174 571M218 672L261 638M435 638L478 672M348 571L392 571M478 672L522 706M739 471L739 571M609 471L565 571M913 638L956 672M522 638L565 672M348 538L435 504M435 638L392 672M609 672L652 706M305 504L348 538M392 638L435 638M261 471L305 471M392 672L348 706M218 638L261 638M956 672L870 605M348 504L435 504M261 571L218 605M783 437L913 437M696 605L652 638" stroke="#000" stroke-opacity="0.7" stroke-width="2.0" fill="none"/>
<path d="M522 538L392 504M348 471L392 504M696 605L565 605M913 638L956 638M565 538L609 471M1000 672L1043 706M652 605L609 605M783 504L783 538M348 672L392 706M218 571L174 605M652 605L739 571M174 571L261 504M739 437L783 471M261 638L305 605M261 471L218 437M1000 471L956 504M783 605L826 538M348 571L305 605M913 672L870 706M565 605L522 638M1000 504L956 538M826 471L870 504M174 638L305 571M174 437L218 471M565 571L826 706M913 571L739 571M783 571L826 605M305 638L348 672M739 471L739 437M1000 706L956 638M522 672L565 706M174 638L218 672M478 672L435 706M261 571L218 504M783 605L826 638M348 706L522 672M522 571L609 471M1000 437L783 437M826 437L696 471M913 672L956 672M870 538L826 672M522 605L652 571M826 538L783 538M870 706L696 706M913 571L956 538M783 571L739 605M826 672L870 706M870 471L870 504M305 538L435 605M261 538L348 504M522 605L696 605M913 471L870 504M261 605L174 638M392 605L522 605M826 504L826 471M565 471L522 504M739 571L783 504M522 504L478 538M609 638L565 672M696 672L652 706M478 504L565 437M609 672L696 605M826 638L652 571M174 538L218 571M913 706L1000 706M739 471L826 538M348 538L478 672M739 538L913 504M826 672L870 672M826 538L783 571M522 504L522 638M739 706L826 672M609 538L652 571M826 504L870 538M696 538L609 638M783 638L696 672M218 471L174 437M305 538L348 504M478 571L522 605M913 638L826 672M478 638L609 706M565 672L261 638M826 706L1000 638M870 605L956 638M609 638L739 638M956 605L1000 672M522 504L652 538M174 605L261 471M870 571L956 605M348 638L522 638M1000 672L956 706M261 437L392 471M218 504L261 538M826 571L870 672M870 538L826 571M348 504L392 538M609 605L652 571M783 538L739 571M348 638L261 538M218 638L261 638M826 538L956 504M348 471L392 504M348 672L305 672M478 471L522 504M261 571L218 605M826 638L652 638M783 504L652 504M1043 672L1000 706M218 471L174 504M305 672L435 672M609 672L565 706M305 538L435 538M956 538L1000 571M652 571L652 605M826 538L870 571M305 471L305 437M261 437L218 538M956 672L1000 706M609 437L652 471M522 571L565 605M392 571L392 605M913 672L826 706M783 672L652 672M826 538L739 571M652 471L609 504M565 504L696 471M956 605L913 437M609 538L435 571M696 538L565 471M1000 571L1000 638M522 706L696 672M478 504L522 538M435 437L565 471M522 605L305 638M478 437L522 471M565 706L739 706M652 471L696 504M305 605L261 638M609 437L696 538M956 605L1000 538M261 504L261 538M652 437L652 504M522 706L522 638M392 471L348 504M739 706L696 638M956 504L1000 538M478 437L435 437M392 605L348 672M956 605L913 638M870 672L913 706M261 538L218 538M305 504L305 538M609 638L609 571M826 504L435 504M261 706L261 672M870 672L739 672M956 504L913 538M218 437L218 504M435 471L478 571M565 504L696 538M870 672L783 706M478 605L218 538M696 571L652 605M609 504L696 437M348 504L392 437M609 571L522 672M696 638L739 638M305 605L392 538M826 672L783 706M652 672L696 706M739 638L652 571M652 471L739 437M739 437L565 437M435 605L435 638M392 571L261 638M913 571L913 605M739 538L696 571M348 437L392 437M261 538L218 504M956 706L956 638M305 471L261 504M348 638L435 605M218 672L218 706M1000 471L1000 504M652 571L392 538M392 605L435 571M392 672L522 706M392 504L348 538M218 471L261 504M348 605L305 638M783 538L1043 437M826 437L870 471M739 706L913 571M218 638L261 672M261 538L392 571M870 571L826 605M652 672L609 706M218 437L392 437M870 605L826 638M261 538L305 571M261 437L305 471M739 638L870 504M522 672L609 605M1000 504L956 437M1000 504L826 437M478 571L348 571M478 504L609 471M435 504L522 571M1000 706L826 638M609 437L652 471M956 504L913 471M218 538L174 571M565 672L522 706M435 605L565 706M913 571L826 605M392 471L435 504M870 571L913 605M609 605L652 638M739 437L739 471M826 672L870 706M218 605L218 504M218 571L305 538M739 605L783 638M565 571L609 605M826 538L870 471M478 538L392 437M522 471L348 538M826 605L783 638M261 504L218 538M870 638L739 571M435 605L348 571M522 437L522 538M435 571L739 471M826 471L783 504M435 571L392 437M739 672L870 672M478 538L565 538M696 538L609 538M218 672L261 706M478 437L522 571M478 605L478 638M392 605L522 571M652 437L739 504M435 471L478 504M565 504L392 538M522 538L609 538M435 538L435 571M305 437L478 504M174 638L261 638M478 605L348 638M435 538L652 504M218 437L174 471M739 571L739 638M305 538L522 571M305 638L348 571M783 605L739 638M261 605L218 638M956 437L956 538M652 672L696 605M870 437L870 471M261 672L305 672M870 706L1000 571M783 571L956 605M348 437L392 437M739 571L696 605M435 605L478 638M565 672L609 638M522 638L392 672M261 638L305 672M478 538L435 571M174 471L174 504M565 605L522 638M739 471L696 504" stroke="#000" stroke-opacity="0.7" stroke-width="2.0" fill="none"/>
<path d="M783 672L783 638M435 571L478 672M392 638L478 638M652 638L609 672M174 571L218 605M783 504L870 437M565 605L609 672M435 571L392 538M478 437L392 437M1000 504L956 571M478 437L435 471M1000 471L956 538M305 638L218 672M261 571L348 504M1000 471L826 471M305 706L218 706M478 504L478 605M305 471L305 571M739 672L783 706M261 471L174 504M565 538L652 504M870 538L826 471M218 638L174 672M392 672L435 706M565 471L478 538M609 437L652 471M348 504L261 504M652 504L652 538M696 471L652 504M305 437L305 504M826 638L783 672M739 706L609 638M522 504L522 538M1000 706L1043 706M696 471L565 471M913 538L826 471M609 571L652 605M522 471L565 504M478 638L392 571M652 638L565 638M913 571L913 706M478 706L565 672M565 471L609 471M174 638L174 672M218 672L261 571M305 571L348 638M218 504L174 437M565 605L652 504M348 638L392 672M348 571L348 538M826 504L652 504M826 638L783 672M826 571L826 605M696 471L739 504M392 706L435 672M522 638L478 672M652 571L696 605M739 706L696 638M1000 538L956 538M870 638L826 571M652 538L739 605M913 706L913 605M218 605L174 638M696 471L652 538M870 471L652 538M609 538L478 538M435 504L392 538M956 605L1000 538M913 605L870 571M739 706L913 638M913 437L870 471M696 672L522 571M522 538L565 571M305 437L348 471M348 538L392 571M652 571L783 638M956 605L1000 638M261 504L305 571M956 706L1000 672M870 605L913 638M870 471L826 571M305 571L392 471M783 672L826 706M392 706L435 672M652 437L522 504M783 706L739 638M392 538L305 605M652 638L522 706M522 538L565 471M392 471L435 504M1000 672L913 672M913 638L739 538M609 504L696 638M565 638L392 706M956 706L1000 638M609 571L652 672M913 504L826 437M609 571L652 571M783 538L826 538M783 538L956 504M305 638L348 672M870 571L783 538M348 471L305 504M870 638L739 706M348 638L435 571M913 504L870 538M392 538L435 571M826 504L739 571M739 605L870 672M609 571L565 605M739 538L826 571M826 706L826 638M1043 672L1000 638M218 638L174 605M392 437L435 471M565 538L522 571M348 638L392 571M261 471L305 504M1043 638L913 672M478 672L392 672M870 504L913 538M435 437L478 504M348 504L305 538M696 504L739 437M218 638L218 605M1000 471L913 538M783 538L652 706M783 504L739 605M305 538L435 471M1000 605L956 638M522 605L478 638M739 605L826 605M435 571L609 538M392 605L218 571M348 571L348 638M826 538L783 504M739 672L913 706M435 538L261 471M1000 571L913 538M348 706L435 672M956 538L1000 538M305 437L392 437M392 605L392 571M261 471L218 471M565 638L609 672M348 437L305 471M348 504L348 437M261 571L218 672M652 538L609 571M870 538L956 504M870 504L956 437M435 437L435 538M652 706L652 672M348 672L392 638M870 672L956 638M565 437L609 471M565 437L435 504M305 571L478 504M565 437L522 471M348 538L261 538M478 571L478 538M218 672L261 638M261 571L305 605M174 538L218 504M435 605L348 605M478 706L522 706M478 672L522 672M522 471L478 504M435 437L392 471M478 706L565 706M609 504L652 538M565 471L696 471M956 605L826 471M348 605L348 571M652 437L696 471M522 672L696 706M348 638L392 571M609 504L565 538M696 437L609 504M478 605L435 706M783 437L870 437M783 672L739 706M522 605L478 638M956 504L1000 437M478 706L348 706M652 672L652 571M218 672L174 706M565 571L522 605M174 471L218 504M348 672L305 706M348 571L392 605M174 504L348 437M348 437L392 471M956 672L956 638M652 471L652 571M435 638L305 504M696 504L739 538M348 504L392 471M218 571L392 672M174 672L348 672M739 471L826 571M739 571L696 571M870 471L739 571M739 638L956 638M870 504L739 437M218 605L261 638M956 471L739 504M783 471L913 471M261 672L218 706M174 605L305 538M739 504L783 538M1000 672L1000 706M305 538L261 571M956 504L913 504M913 571L956 605M261 672L305 706M1000 538L826 504M652 571L392 571M392 504L305 437M435 437L565 437M435 571L348 638M305 538L261 538M565 471L609 504M696 437L739 504M565 638L522 706M174 605L218 638M261 672L174 672M478 437L522 538M696 605L565 571M392 638L348 672M435 504L478 538M174 471L261 504M913 571L826 504M739 638L696 638M1043 638L956 638M956 471L956 437M870 638L826 672M348 571L174 504M913 504L956 538M609 605L739 706M218 437L261 471M1043 706L870 706M652 672L522 638M522 571L609 571M609 638L696 571M609 638L652 672M218 605L435 638M305 538L348 571M652 605L696 638M435 605L392 605M739 504L956 571M435 471L392 471M652 672L696 638M783 638L739 706M522 538L565 571M696 638L652 605M826 605L696 672M826 504L696 504M652 638L783 672M261 538L522 504M826 471L1000 605M478 605L522 638M913 571L913 605M435 471L478 538M956 538L739 672M305 638L261 672M609 638L652 571M913 504L1043 437M696 706L783 706M348 504L305 504M565 571L392 504M913 605L870 638M870 571L826 538" stroke="#000" stroke-opacity="0.7" stroke-width="2.0" fill="none"/>
<path d="M826.0 470.7L826.0 504.2M869.5 638.4L869.5 672.0M826.0 537.8L826.0 571.3M217.8 537.8L261.2 537.8M217.8 604.9L261.2 604.9M695.7 437.1L695.7 470.7M521.9 604.9L521.9 638.4M695.7 504.2L695.7 537.8M174.3 604.9L174.3 638.4M782.6 437.1L782.6 470.7M782.6 504.2L782.6 537.8M869.5 571.3L913.0 571.3M435.0 437.1L478.5 437.1M217.8 504.2L217.8 537.8M435.0 504.2L478.5 504.2M739.2 504.2L739.2 537.8M739.2 638.4L782.6 638.4M739.2 705.5L782.6 705.5M478.5 571.3L478.5 604.9M956.4 571.3L999.9 571.3M826.0 705.5L869.5 705.5M521.9 705.5L565.4 705.5M695.7 604.9L739.2 604.9M695.7 672.0L739.2 672.0M304.7 537.8L304.7 571.3M782.6 537.8L826.0 537.8M304.7 604.9L304.7 638.4M608.8 705.5L652.2 705.5M782.6 604.9L826.0 604.9M739.2 604.9L782.6 604.9M391.6 537.8L391.6 571.3M739.2 672.0L782.6 672.0M174.3 504.2L174.3 537.8M391.6 604.9L391.6 638.4M913.0 571.3L956.4 571.3M652.2 504.2L695.7 504.2M478.5 672.0L521.9 672.0M652.2 571.3L695.7 571.3M913.0 504.2L956.4 504.2M999.9 437.1L1043.3 437.1M261.2 504.2L261.2 537.8M261.2 571.3L261.2 604.9M956.4 638.4L956.4 672.0M695.7 571.3L739.2 571.3M913.0 638.4L913.0 672.0M1043.3 437.1L1043.3 470.7M826.0 437.1L826.0 470.7M174.3 470.7L217.8 470.7M869.5 604.9L869.5 638.4M826.0 504.2L826.0 537.8M869.5 672.0L869.5 705.5M826.0 571.3L826.0 604.9M217.8 571.3L261.2 571.3M217.8 638.4L261.2 638.4M956.4 537.8L956.4 571.3M565.4 672.0L565.4 705.5M956.4 604.9L956.4 638.4M652.2 672.0L652.2 705.5M217.8 470.7L217.8 504.2M435.0 470.7L478.5 470.7M826.0 604.9L869.5 604.9M826.0 672.0L869.5 672.0M435.0 604.9L435.0 638.4M304.7 571.3L304.7 604.9M782.6 571.3L826.0 571.3M174.3 571.3L174.3 604.9M782.6 638.4L826.0 638.4M348.1 470.7L348.1 504.2M391.6 504.2L391.6 537.8M217.8 672.0L217.8 705.5M391.6 571.3L391.6 604.9M826.0 638.4L869.5 638.4M435.0 705.5L478.5 705.5M913.0 604.9L913.0 638.4M913.0 672.0L913.0 705.5M304.7 470.7L348.1 470.7M999.9 604.9L999.9 638.4M348.1 571.3L391.6 571.3M999.9 672.0L999.9 705.5M435.0 672.0L435.0 705.5M956.4 470.7L999.9 470.7M391.6 470.7L435.0 470.7M174.3 437.1L217.8 437.1M869.5 571.3L869.5 604.9M782.6 672.0L782.6 705.5M261.2 437.1L304.7 437.1M956.4 571.3L956.4 604.9M869.5 470.7L913.0 470.7M869.5 537.8L913.0 537.8M435.0 571.3L435.0 604.9M478.5 470.7L478.5 504.2M348.1 437.1L348.1 470.7M1043.3 672.0L1043.3 705.5M435.0 537.8L478.5 537.8M478.5 638.4L521.9 638.4M174.3 638.4L217.8 638.4M348.1 537.8L391.6 537.8M174.3 705.5L217.8 705.5M999.9 571.3L999.9 604.9M304.7 504.2L348.1 504.2M999.9 638.4L999.9 672.0M348.1 604.9L391.6 604.9M304.7 437.1L348.1 437.1M435.0 638.4L435.0 672.0M391.6 638.4L435.0 638.4M261.2 638.4L304.7 638.4M391.6 437.1L435.0 437.1M261.2 705.5L304.7 705.5M1043.3 638.4L1043.3 672.0M913.0 470.7L956.4 470.7M913.0 537.8L956.4 537.8M521.9 470.7L521.9 504.2M565.4 571.3L565.4 604.9M999.9 470.7L1043.3 470.7M521.9 537.8L521.9 571.3M565.4 638.4L565.4 672.0M608.8 470.7L608.8 504.2M869.5 437.1L913.0 437.1M869.5 504.2L913.0 504.2M348.1 638.4L348.1 672.0M478.5 437.1L478.5 470.7M956.4 437.1L999.9 437.1M478.5 504.2L478.5 537.8M956.4 504.2L999.9 504.2M695.7 470.7L739.2 470.7M521.9 638.4L565.4 638.4M695.7 537.8L739.2 537.8M304.7 470.7L304.7 504.2M782.6 470.7L826.0 470.7M565.4 504.2L608.8 504.2M739.2 470.7L782.6 470.7M869.5 705.5L913.0 705.5M391.6 470.7L391.6 504.2M478.5 537.8L521.9 537.8M913.0 437.1L956.4 437.1M304.7 705.5L348.1 705.5M652.2 437.1L695.7 437.1M478.5 604.9L521.9 604.9M956.4 705.5L999.9 705.5M391.6 705.5L435.0 705.5M348.1 504.2L391.6 504.2M174.3 672.0L217.8 672.0M695.7 437.1L739.2 437.1M261.2 672.0L304.7 672.0M652.2 638.4L652.2 672.0M739.2 437.1L739.2 470.7M869.5 470.7L869.5 504.2M695.7 638.4L695.7 672.0M869.5 537.8L869.5 571.3M217.8 437.1L261.2 437.1M217.8 504.2L261.2 504.2M521.9 437.1L521.9 470.7M956.4 470.7L956.4 504.2M565.4 537.8L565.4 571.3M521.9 504.2L521.9 537.8M565.4 604.9L565.4 638.4M174.3 437.1L174.3 470.7M608.8 437.1L608.8 470.7M652.2 537.8L652.2 571.3M652.2 604.9L652.2 638.4M608.8 504.2L608.8 537.8M739.2 537.8L782.6 537.8M348.1 672.0L348.1 705.5M826.0 470.7L869.5 470.7M826.0 537.8L869.5 537.8M217.8 470.7L261.2 470.7M435.0 537.8L435.0 571.3M521.9 604.9L565.4 604.9M565.4 705.5L608.8 705.5M695.7 504.2L739.2 504.2M521.9 672.0L565.4 672.0M174.3 638.4L174.3 672.0M608.8 537.8L652.2 537.8M304.7 437.1L304.7 470.7M652.2 705.5L695.7 705.5M782.6 437.1L826.0 437.1M608.8 604.9L652.2 604.9M608.8 672.0L652.2 672.0M782.6 504.2L826.0 504.2M217.8 537.8L217.8 571.3M739.2 504.2L782.6 504.2M391.6 437.1L391.6 470.7M217.8 604.9L217.8 638.4M304.7 672.0L348.1 672.0M739.2 571.3L782.6 571.3M478.5 571.3L521.9 571.3M826.0 437.1L869.5 437.1M956.4 672.0L999.9 672.0M826.0 504.2L869.5 504.2M391.6 672.0L435.0 672.0M826.0 571.3L869.5 571.3M521.9 571.3L565.4 571.3M913.0 470.7L913.0 504.2M739.2 638.4L739.2 672.0M913.0 537.8L913.0 571.3M608.8 571.3L652.2 571.3M999.9 470.7L999.9 504.2M999.9 537.8L999.9 571.3M217.8 705.5L261.2 705.5M695.7 604.9L695.7 638.4M869.5 437.1L869.5 470.7M695.7 672.0L695.7 705.5M869.5 504.2L869.5 537.8M304.7 504.2L304.7 537.8M782.6 537.8L782.6 571.3M956.4 437.1L956.4 470.7M782.6 604.9L782.6 638.4M956.4 504.2L956.4 537.8M652.2 504.2L652.2 537.8M913.0 705.5L956.4 705.5M478.5 672.0L478.5 705.5M652.2 571.3L652.2 604.9M304.7 571.3L348.1 571.3M999.9 705.5L1043.3 705.5M695.7 705.5L739.2 705.5M435.0 437.1L435.0 470.7M782.6 705.5L826.0 705.5M435.0 504.2L435.0 537.8M565.4 672.0L608.8 672.0M565.4 470.7L608.8 470.7M174.3 672.0L174.3 705.5M652.2 672.0L695.7 672.0M608.8 638.4L652.2 638.4M174.3 470.7L174.3 504.2M652.2 470.7L695.7 470.7M261.2 672.0L261.2 705.5M217.8 571.3L217.8 604.9M435.0 672.0L478.5 672.0M739.2 604.9L739.2 638.4M913.0 504.2L913.0 537.8M739.2 672.0L739.2 705.5M913.0 571.3L913.0 604.9M174.3 571.3L217.8 571.3M999.9 437.1L999.9 470.7M826.0 604.9L826.0 638.4M348.1 470.7L391.6 470.7M826.0 672.0L826.0 705.5M999.9 504.2L999.9 537.8M217.8 672.0L261.2 672.0M695.7 571.3L695.7 604.9M782.6 571.3L782.6 604.9M782.6 638.4L782.6 672.0M435.0 571.3L478.5 571.3M217.8 638.4L217.8 672.0M435.0 638.4L478.5 638.4M913.0 604.9L956.4 604.9M913.0 672.0L956.4 672.0M521.9 672.0L521.9 705.5M999.9 672.0L1043.3 672.0M435.0 470.7L435.0 504.2M608.8 537.8L608.8 571.3M608.8 604.9L608.8 638.4M608.8 672.0L608.8 705.5M304.7 672.0L304.7 705.5M782.6 672.0L826.0 672.0M565.4 437.1L608.8 437.1M391.6 672.0L391.6 705.5M521.9 571.3L521.9 604.9M999.9 638.4L1043.3 638.4M261.2 437.1L261.2 470.7M478.5 470.7L521.9 470.7M304.7 638.4L348.1 638.4M956.4 638.4L999.9 638.4M174.3 537.8L217.8 537.8M348.1 437.1L391.6 437.1M174.3 604.9L217.8 604.9M826.0 638.4L826.0 672.0M739.2 571.3L739.2 604.9M261.2 470.7L304.7 470.7M261.2 537.8L304.7 537.8M956.4 672.0L956.4 705.5M261.2 604.9L304.7 604.9M348.1 571.3L348.1 604.9M174.3 504.2L217.8 504.2M565.4 470.7L565.4 504.2M869.5 638.4L913.0 638.4M608.8 571.3L608.8 604.9M608.8 638.4L608.8 672.0M652.2 470.7L652.2 504.2M348.1 537.8L348.1 571.3M348.1 604.9L348.1 638.4M391.6 638.4L391.6 672.0M521.9 470.7L565.4 470.7M565.4 571.3L608.8 571.3M521.9 537.8L565.4 537.8M565.4 638.4L608.8 638.4M608.8 470.7L652.2 470.7M652.2 638.4L695.7 638.4M304.7 537.8L348.1 537.8M739.2 437.1L782.6 437.1M348.1 638.4L391.6 638.4M478.5 437.1L521.9 437.1M304.7 604.9L348.1 604.9M348.1 705.5L391.6 705.5M478.5 504.2L521.9 504.2M956.4 537.8L999.9 537.8M391.6 537.8L435.0 537.8M391.6 604.9L435.0 604.9M521.9 437.1L565.4 437.1M521.9 504.2L565.4 504.2M261.2 504.2L304.7 504.2M261.2 571.3L304.7 571.3M478.5 638.4L478.5 672.0M913.0 638.4L956.4 638.4M695.7 470.7L695.7 504.2M521.9 638.4L521.9 672.0M261.2 638.4L261.2 672.0M695.7 537.8L695.7 571.3M782.6 470.7L782.6 504.2M565.4 437.1L565.4 470.7M869.5 604.9L913.0 604.9M565.4 504.2L565.4 537.8M869.5 672.0L913.0 672.0M478.5 537.8L478.5 571.3M652.2 437.1L652.2 470.7M478.5 604.9L478.5 638.4M956.4 604.9L999.9 604.9M348.1 504.2L348.1 537.8M695.7 638.4L739.2 638.4M304.7 638.4L304.7 672.0M565.4 537.8L608.8 537.8M565.4 604.9L608.8 604.9M174.3 537.8L174.3 571.3M478.5 705.5L521.9 705.5M435.0 604.9L478.5 604.9M652.2 537.8L695.7 537.8M652.2 604.9L695.7 604.9M608.8 504.2L652.2 504.2M608.8 437.1L652.2 437.1M261.2 470.7L261.2 504.2M217.8 437.1L217.8 470.7M261.2 537.8L261.2 571.3M261.2 604.9L261.2 638.4M348.1 672.0L391.6 672.0M391.6 504.2L435.0 504.2M391.6 571.3L435.0 571.3M739.2 470.7L739.2 504.2M739.2 537.8L739.2 571.3M913.0 437.1L913.0 470.7" stroke="#000" stroke-width="2.4" fill="none" stroke-linecap="square"/>
<rect x="153" y="803.7" width="920.3" height="357.0" fill="#ff0000"/>
<path d="M153.0 827.8H213.7M182.3 804.9V850.7M153.0 889.6H213.7M182.3 866.7V912.5M153.0 951.4H213.7M182.3 928.5V974.3M153.0 1013.2H213.7M182.3 990.3V1036.1M153.0 1075.0H213.7M182.3 1052.1V1097.9M153.0 1136.8H213.7M182.3 1113.9V1159.7M235.1 827.8H297.9M266.5 804.9V850.7M235.1 889.6H297.9M266.5 866.7V912.5M235.1 951.4H297.9M266.5 928.5V974.3M235.1 1013.2H297.9M266.5 990.3V1036.1M235.1 1075.0H297.9M266.5 1052.1V1097.9M235.1 1136.8H297.9M266.5 1113.9V1159.7M319.3 827.8H382.1M350.7 804.9V850.7M319.3 889.6H382.1M350.7 866.7V912.5M319.3 951.4H382.1M350.7 928.5V974.3M319.3 1013.2H382.1M350.7 990.3V1036.1M319.3 1075.0H382.1M350.7 1052.1V1097.9M319.3 1136.8H382.1M350.7 1113.9V1159.7M403.5 827.8H466.3M434.9 804.9V850.7M403.5 889.6H466.3M434.9 866.7V912.5M403.5 951.4H466.3M434.9 928.5V974.3M403.5 1013.2H466.3M434.9 990.3V1036.1M403.5 1075.0H466.3M434.9 1052.1V1097.9M403.5 1136.8H466.3M434.9 1113.9V1159.7M487.7 827.8H550.5M519.1 804.9V850.7M487.7 889.6H550.5M519.1 866.7V912.5M487.7 951.4H550.5M519.1 928.5V974.3M487.7 1013.2H550.5M519.1 990.3V1036.1M487.7 1075.0H550.5M519.1 1052.1V1097.9M487.7 1136.8H550.5M519.1 1113.9V1159.7M571.9 827.8H634.7M603.3 804.9V850.7M571.9 889.6H634.7M603.3 866.7V912.5M571.9 951.4H634.7M603.3 928.5V974.3M571.9 1013.2H634.7M603.3 990.3V1036.1M571.9 1075.0H634.7M603.3 1052.1V1097.9M571.9 1136.8H634.7M603.3 1113.9V1159.7M656.1 827.8H718.9M687.5 804.9V850.7M656.1 889.6H718.9M687.5 866.7V912.5M656.1 951.4H718.9M687.5 928.5V974.3M656.1 1013.2H718.9M687.5 990.3V1036.1M656.1 1075.0H718.9M687.5 1052.1V1097.9M656.1 1136.8H718.9M687.5 1113.9V1159.7M740.3 827.8H803.1M771.7 804.9V850.7M740.3 889.6H803.1M771.7 866.7V912.5M740.3 951.4H803.1M771.7 928.5V974.3M740.3 1013.2H803.1M771.7 990.3V1036.1M740.3 1075.0H803.1M771.7 1052.1V1097.9M740.3 1136.8H803.1M771.7 1113.9V1159.7M824.5 827.8H887.3M855.9 804.9V850.7M824.5 889.6H887.3M855.9 866.7V912.5M824.5 951.4H887.3M855.9 928.5V974.3M824.5 1013.2H887.3M855.9 990.3V1036.1M824.5 1075.0H887.3M855.9 1052.1V1097.9M824.5 1136.8H887.3M855.9 1113.9V1159.7M908.7 827.8H971.5M940.1 804.9V850.7M908.7 889.6H971.5M940.1 866.7V912.5M908.7 951.4H971.5M940.1 928.5V974.3M908.7 1013.2H971.5M940.1 990.3V1036.1M908.7 1075.0H971.5M940.1 1052.1V1097.9M908.7 1136.8H971.5M940.1 1113.9V1159.7M992.9 827.8H1055.7M1024.3 804.9V850.7M992.9 889.6H1055.7M1024.3 866.7V912.5M992.9 951.4H1055.7M1024.3 928.5V974.3M992.9 1013.2H1055.7M1024.3 990.3V1036.1M992.9 1075.0H1055.7M1024.3 1052.1V1097.9M992.9 1136.8H1055.7M1024.3 1113.9V1159.7" stroke="#7a1790" stroke-width="3" fill="none"/>
<path d="M685.9 949.8h45.3v34.1h-45.3zM349.1 826.2h45.3v34.1h-45.3zM349.1 1104.3h45.3v34.1h-45.3zM391.2 857.1h45.3v34.1h-45.3zM517.5 826.2h45.3v34.1h-45.3zM896.4 918.9h45.3v34.1h-45.3zM980.6 826.2h45.3v34.1h-45.3zM601.7 1011.6h45.3v34.1h-45.3zM559.6 1073.4h45.3v34.1h-45.3zM180.7 980.7h45.3v34.1h-45.3zM264.9 888.0h45.3v34.1h-45.3zM643.8 980.7h45.3v34.1h-45.3zM728.0 1073.4h45.3v34.1h-45.3zM812.2 980.7h45.3v34.1h-45.3zM433.3 888.0h45.3v34.1h-45.3zM475.4 857.1h45.3v34.1h-45.3zM938.5 857.1h45.3v34.1h-45.3zM349.1 888.0h45.3v34.1h-45.3zM307.0 1011.6h45.3v34.1h-45.3zM391.2 918.9h45.3v34.1h-45.3zM517.5 888.0h45.3v34.1h-45.3zM896.4 980.7h45.3v34.1h-45.3zM559.6 857.1h45.3v34.1h-45.3zM980.6 888.0h45.3v34.1h-45.3zM180.7 1042.5h45.3v34.1h-45.3zM264.9 949.8h45.3v34.1h-45.3zM643.8 1042.5h45.3v34.1h-45.3zM728.0 857.1h45.3v34.1h-45.3zM222.8 1073.4h45.3v34.1h-45.3zM812.2 1042.5h45.3v34.1h-45.3zM433.3 949.8h45.3v34.1h-45.3zM854.3 1011.6h45.3v34.1h-45.3zM475.4 918.9h45.3v34.1h-45.3zM938.5 918.9h45.3v34.1h-45.3zM307.0 1073.4h45.3v34.1h-45.3zM391.2 980.7h45.3v34.1h-45.3zM517.5 949.8h45.3v34.1h-45.3zM770.1 1073.4h45.3v34.1h-45.3zM559.6 918.9h45.3v34.1h-45.3zM180.7 826.2h45.3v34.1h-45.3zM643.8 826.2h45.3v34.1h-45.3zM896.4 1042.5h45.3v34.1h-45.3zM980.6 949.8h45.3v34.1h-45.3zM180.7 1104.3h45.3v34.1h-45.3zM643.8 1104.3h45.3v34.1h-45.3zM728.0 918.9h45.3v34.1h-45.3zM812.2 826.2h45.3v34.1h-45.3zM812.2 1104.3h45.3v34.1h-45.3zM433.3 1011.6h45.3v34.1h-45.3zM854.3 1073.4h45.3v34.1h-45.3zM475.4 980.7h45.3v34.1h-45.3zM938.5 980.7h45.3v34.1h-45.3zM307.0 857.1h45.3v34.1h-45.3zM770.1 857.1h45.3v34.1h-45.3zM896.4 826.2h45.3v34.1h-45.3zM391.2 1042.5h45.3v34.1h-45.3zM980.6 1011.6h45.3v34.1h-45.3zM559.6 980.7h45.3v34.1h-45.3zM180.7 888.0h45.3v34.1h-45.3zM643.8 888.0h45.3v34.1h-45.3zM222.8 918.9h45.3v34.1h-45.3zM728.0 980.7h45.3v34.1h-45.3zM812.2 888.0h45.3v34.1h-45.3zM854.3 857.1h45.3v34.1h-45.3zM475.4 1042.5h45.3v34.1h-45.3zM938.5 1042.5h45.3v34.1h-45.3zM685.9 1011.6h45.3v34.1h-45.3zM307.0 918.9h45.3v34.1h-45.3zM391.2 826.2h45.3v34.1h-45.3zM770.1 918.9h45.3v34.1h-45.3zM896.4 888.0h45.3v34.1h-45.3zM391.2 1104.3h45.3v34.1h-45.3zM559.6 1042.5h45.3v34.1h-45.3zM643.8 949.8h45.3v34.1h-45.3zM601.7 1073.4h45.3v34.1h-45.3zM222.8 980.7h45.3v34.1h-45.3zM728.0 1042.5h45.3v34.1h-45.3zM433.3 857.1h45.3v34.1h-45.3zM812.2 949.8h45.3v34.1h-45.3zM475.4 826.2h45.3v34.1h-45.3zM854.3 918.9h45.3v34.1h-45.3zM938.5 826.2h45.3v34.1h-45.3zM685.9 1073.4h45.3v34.1h-45.3zM307.0 980.7h45.3v34.1h-45.3zM391.2 888.0h45.3v34.1h-45.3zM349.1 949.8h45.3v34.1h-45.3zM770.1 980.7h45.3v34.1h-45.3zM559.6 826.2h45.3v34.1h-45.3zM896.4 949.8h45.3v34.1h-45.3zM601.7 857.1h45.3v34.1h-45.3zM728.0 826.2h45.3v34.1h-45.3zM222.8 1042.5h45.3v34.1h-45.3zM812.2 1011.6h45.3v34.1h-45.3zM264.9 1011.6h45.3v34.1h-45.3zM854.3 980.7h45.3v34.1h-45.3zM475.4 888.0h45.3v34.1h-45.3zM938.5 888.0h45.3v34.1h-45.3zM728.0 1104.3h45.3v34.1h-45.3zM685.9 857.1h45.3v34.1h-45.3zM307.0 1042.5h45.3v34.1h-45.3zM391.2 949.8h45.3v34.1h-45.3zM349.1 1011.6h45.3v34.1h-45.3zM770.1 1042.5h45.3v34.1h-45.3zM559.6 888.0h45.3v34.1h-45.3zM517.5 1011.6h45.3v34.1h-45.3zM601.7 918.9h45.3v34.1h-45.3zM222.8 826.2h45.3v34.1h-45.3zM728.0 888.0h45.3v34.1h-45.3zM222.8 1104.3h45.3v34.1h-45.3zM264.9 1073.4h45.3v34.1h-45.3zM854.3 1042.5h45.3v34.1h-45.3zM475.4 949.8h45.3v34.1h-45.3zM938.5 949.8h45.3v34.1h-45.3zM433.3 1073.4h45.3v34.1h-45.3zM685.9 918.9h45.3v34.1h-45.3zM307.0 826.2h45.3v34.1h-45.3zM770.1 826.2h45.3v34.1h-45.3zM307.0 1104.3h45.3v34.1h-45.3zM391.2 1011.6h45.3v34.1h-45.3zM349.1 1073.4h45.3v34.1h-45.3zM938.5 1073.4h45.3v34.1h-45.3zM770.1 1104.3h45.3v34.1h-45.3zM601.7 980.7h45.3v34.1h-45.3zM222.8 888.0h45.3v34.1h-45.3zM180.7 949.8h45.3v34.1h-45.3zM264.9 857.1h45.3v34.1h-45.3zM728.0 949.8h45.3v34.1h-45.3zM854.3 826.2h45.3v34.1h-45.3zM854.3 1104.3h45.3v34.1h-45.3zM685.9 980.7h45.3v34.1h-45.3zM307.0 888.0h45.3v34.1h-45.3zM770.1 888.0h45.3v34.1h-45.3zM349.1 857.1h45.3v34.1h-45.3zM517.5 857.1h45.3v34.1h-45.3zM980.6 857.1h45.3v34.1h-45.3zM601.7 1042.5h45.3v34.1h-45.3zM222.8 949.8h45.3v34.1h-45.3zM180.7 1011.6h45.3v34.1h-45.3zM264.9 918.9h45.3v34.1h-45.3zM643.8 1011.6h45.3v34.1h-45.3zM854.3 888.0h45.3v34.1h-45.3zM433.3 918.9h45.3v34.1h-45.3zM685.9 1042.5h45.3v34.1h-45.3zM307.0 949.8h45.3v34.1h-45.3zM770.1 949.8h45.3v34.1h-45.3zM349.1 918.9h45.3v34.1h-45.3zM896.4 1011.6h45.3v34.1h-45.3zM517.5 918.9h45.3v34.1h-45.3zM601.7 826.2h45.3v34.1h-45.3zM980.6 918.9h45.3v34.1h-45.3zM222.8 1011.6h45.3v34.1h-45.3zM180.7 1073.4h45.3v34.1h-45.3zM264.9 980.7h45.3v34.1h-45.3zM643.8 1073.4h45.3v34.1h-45.3zM854.3 949.8h45.3v34.1h-45.3zM812.2 1073.4h45.3v34.1h-45.3zM433.3 980.7h45.3v34.1h-45.3zM685.9 826.2h45.3v34.1h-45.3zM685.9 1104.3h45.3v34.1h-45.3zM770.1 1011.6h45.3v34.1h-45.3zM349.1 980.7h45.3v34.1h-45.3zM896.4 1073.4h45.3v34.1h-45.3zM517.5 980.7h45.3v34.1h-45.3zM601.7 888.0h45.3v34.1h-45.3zM559.6 949.8h45.3v34.1h-45.3zM180.7 857.1h45.3v34.1h-45.3zM643.8 857.1h45.3v34.1h-45.3zM980.6 980.7h45.3v34.1h-45.3zM264.9 1042.5h45.3v34.1h-45.3zM812.2 857.1h45.3v34.1h-45.3zM433.3 1042.5h45.3v34.1h-45.3zM475.4 1011.6h45.3v34.1h-45.3zM938.5 1011.6h45.3v34.1h-45.3zM685.9 888.0h45.3v34.1h-45.3zM349.1 1042.5h45.3v34.1h-45.3zM896.4 857.1h45.3v34.1h-45.3zM391.2 1073.4h45.3v34.1h-45.3zM517.5 1042.5h45.3v34.1h-45.3zM601.7 949.8h45.3v34.1h-45.3zM222.8 857.1h45.3v34.1h-45.3zM180.7 918.9h45.3v34.1h-45.3zM264.9 826.2h45.3v34.1h-45.3zM559.6 1011.6h45.3v34.1h-45.3zM643.8 918.9h45.3v34.1h-45.3zM264.9 1104.3h45.3v34.1h-45.3zM728.0 1011.6h45.3v34.1h-45.3zM812.2 918.9h45.3v34.1h-45.3zM433.3 826.2h45.3v34.1h-45.3z" fill="#ff0000"/>
<path d="M688 920L730 859M266 920L224 890M561 920L645 920M814 920L940 890M561 1044L772 1044M603 890L688 890M561 951L561 982M435 890L477 859M772 1075L688 1044M688 1044L561 1013M351 1106L309 1106M309 890L309 920M182 1044L182 1013M393 1075L435 1044M519 1013L477 951M645 1044L772 1044M477 1013L393 1013M309 1013L309 1044M561 982L688 982M519 1013L519 951M645 1075L730 1106M519 859L519 828M393 1137L393 1106M519 982L519 951M351 982L309 982M772 951L856 951M393 890L435 951M477 920L393 951M561 920L645 951M477 828L519 890M940 1075L982 1106M266 1137L309 1106M435 982L477 1013M519 1075L730 1044M393 920L477 890M182 1013L182 1075M730 890L688 920M603 920L561 920M561 951L309 951M603 1075L645 1044M266 920L266 890M393 890L477 859M393 1044L435 1044M645 982L645 951M477 982L477 1013M561 982L561 1013M814 1013L730 1044M266 982L224 951M856 951L898 920M688 982L519 982M477 890L435 920M435 890L393 920M393 982L266 982M435 951L561 951M603 982L645 1013M435 951L477 951M856 1075L898 1075M309 1075L351 1044M814 982L772 1013M856 890L856 859M393 1013L435 1013M351 1075L351 1106M519 1075L561 1044M477 920L435 1013M603 1044L688 1044M351 1013L224 1044M266 859L309 890M309 1044L182 1044M856 1013L856 1044M477 1013L393 1013M266 951L224 920M561 859L603 890M645 890L603 859M814 982L772 1013M772 951L688 951M645 1075L603 1106M645 1075L730 1044M730 982L814 920M561 1075L688 1075M561 920L519 890M393 1013L393 982M856 1013L898 951M393 1075L477 1075M393 1075L393 1106M477 951L351 951M856 1075L814 1106M730 1013L603 1013M266 982L393 1044M730 920L603 890M814 920L856 920M182 1044L182 1106M309 1044L309 1013M435 890L393 920M351 859L393 859M477 920L351 890M561 1013L561 1044M393 920L351 951M182 1013L224 1044M309 920L309 951M772 982L772 1013M477 1075L477 1106M856 859L814 890M435 982L351 951M309 982L393 982M772 859L603 890M519 859L645 859M772 982L730 1013M477 890L435 920M645 859L519 890M645 1044L477 1044M393 951L393 859M435 890L435 920M266 890L182 890M266 1013L351 1044M519 1013L519 1044M393 1013L266 1044M856 951L814 951M688 1044L603 1013M393 982L435 951M393 1013L435 1013M182 920L224 951M393 951L351 982M645 1075L772 1075M940 1013L982 1044M351 890L309 951M603 982L688 982M688 951L645 920M772 920L772 890M477 920L519 890M856 890L814 920M351 951L309 1013M519 920L477 890M730 1044L688 1044M730 890L688 920M519 1013L477 982M435 1075L435 1106M814 828L856 828M814 1013L856 982M435 920L477 920M519 859L435 890M561 1013L645 1013M772 920L814 982M477 890L519 890M730 951L772 920M351 951L309 982M814 828L772 859M519 1044L477 982M393 1013L477 1044M940 982L940 951M477 982L435 1013M645 1075L603 1075M224 982L182 982M435 1106L393 1075M688 1013L603 1044M309 1044L351 982M645 1075L730 1137M351 951L351 920M266 982L309 982M688 1013L645 1013M309 982L351 982M351 1044L309 1044M309 859L435 859M603 1013L561 1013M477 859L477 890M519 951L351 951M266 1013L309 1044M435 1013L393 1044M603 890L561 859M645 890L688 890M730 1013L772 951M772 1013L772 982M435 1075L393 1044M561 1075L561 1106M266 1044L224 1075M730 920L730 951M645 982L730 982M730 1044L772 1013M814 982L856 1013M772 982L772 1013M351 920L435 951M477 1075L561 1075M561 1013L688 982M519 1075L393 1075M309 1044L351 1013M645 1106L856 1106M688 920L730 890M182 828L182 859M814 1137L898 1106M688 859L730 859M856 920L772 920M309 1013L266 1013M561 982L519 1013M224 1013L266 1013M309 1075L266 1075M856 1013L730 982M603 920L561 920M561 982L603 982M603 951L603 1013M645 1075L561 1075M435 890L561 890M772 1075L730 1137M351 1044L224 1106M393 920L266 920M477 951L435 1013M645 982L645 1013M519 1013L561 982M435 890L309 890M814 1106L814 1137M603 1044L645 1013M730 1075L688 1044M266 1013L309 982M603 1075L645 1013M772 1075L688 1044M393 920L309 859M688 890L688 859M393 1075L309 1075M351 982L435 951M603 890L519 890M603 1044L688 982M856 859L982 828M561 951L645 951M603 920L688 920M688 920L772 920M688 982L688 1013M435 890L561 951M772 982L688 1013M772 920L730 920M393 951L351 920M645 1013L603 1013M477 1013L393 1013M730 1013L688 982M772 890L730 890M351 920L309 890M898 982L898 1013M519 920L519 890M940 1106L940 1075M351 920L477 982M224 1013L224 982M688 1075L688 1044M393 1013L477 1013M309 1044L266 1075M266 1013L266 1044M772 1044L730 1013M645 890L688 890M814 951L856 982M940 920L814 890M730 859L856 890M645 920L688 951M645 982L645 951M393 890L477 951M435 1044L266 1013M814 982L772 982M772 1013L772 1044M730 920L688 982M814 1013L772 1013M266 920L266 890M561 1044L561 1075M393 890L351 890M393 1013L393 982M519 1044L561 1013M351 982L393 951M688 951L645 951M1024 828L772 828M393 1106L351 1137M351 982L393 982M898 890L898 920M266 982L182 982M266 1013L393 1013M182 859L182 828M688 951L772 920M645 951L688 920M266 1013L309 1044M477 859L561 890M519 1013L519 1075M477 1013L519 982M645 859L645 828M730 1013L688 1044M814 1044L898 1075M772 920L645 920M561 982L561 951M772 1044L856 1044M224 1013L224 1075M645 1044L688 982M772 951L814 951M772 1075L940 1106M856 951L772 951M688 1013L603 1013M645 859L603 890M603 982L603 951M309 1044L266 1075M561 859L519 859M519 1013L603 1044M856 982L898 982M393 1075L309 1013M645 1044L603 1075M772 1137L856 1137M435 1013L477 1044M688 1044L603 1044M519 828L603 859M351 1044L435 1013M477 890L435 890M224 1106L309 1044M309 1044L309 982M688 828L688 859M603 1044L561 982M561 1075L477 1013M393 1075L309 1075M519 890L519 859M309 982L266 982M730 951L772 951M688 951L477 951M351 890L309 890M772 982L772 1013M856 1075L898 1075M856 951L814 920M519 982L519 951M814 1075L814 1106M519 828L561 890M814 890L772 920M772 920L814 890M856 951L898 920M898 1044L898 1075M477 1075L351 1075M730 859L603 920M519 1013L688 1013M224 1013L266 1044M519 951L519 982M772 1106L688 1075M266 951L182 920M688 951L645 951M940 951L982 982M182 1013L224 1044M393 982L519 982M898 1044L898 1013M603 890L561 920M477 1013L477 982M309 920L477 920M477 890L519 920M519 828L688 828M772 951L856 982M561 982L730 982M309 920L224 920M266 1106L182 1106M814 1106L772 1137M856 982L856 951M266 890L266 859M351 1044L393 1013M603 890L561 890M351 1013L309 982M772 1044L856 1044M393 920L435 920M351 920L477 920M856 1044L814 1075M351 920L351 982M772 890L688 859M266 890L224 920M730 920L688 890M435 951L477 982M730 920L814 890M393 890L477 890M814 951L982 951M603 1044L730 1044M224 890L182 890M519 1013L435 1013M772 951L730 982M856 951L772 951M730 951L603 951M940 890L772 890M603 982L645 951M393 951L519 982M688 982L645 951M224 982L435 1044M940 859L982 920M266 1075L266 1044M814 982L772 982M814 890L856 890M519 1075L435 1044M730 951L814 890M519 982L435 982M477 890L435 920M688 1106L772 1075M603 859L645 890M309 1013L224 1044M645 828L603 859M772 1013L814 1044M645 982L772 951M435 951L519 951M688 951L730 951M435 1075L477 1044M435 890L309 890M561 920L519 951M688 1106L814 1075M309 951L266 951M645 890L814 890M477 1075L477 1106M309 1137L351 1137M645 1013L645 982M266 1075L309 1044M561 951L772 951M772 890L814 920M645 828L688 859M603 920L645 920M435 1075L266 1044M309 890L309 859M603 920L688 951M393 1044L351 1075M856 890L856 828M772 920L856 951M393 1013L309 1013M561 951L519 890M435 982L309 1044M730 1013L898 982M309 1137L393 1106M561 951L393 920M603 920L477 920M561 920L519 951M519 859L393 859M224 920L182 920M224 890L182 828M603 828L561 859M519 890L519 859M477 951L603 920M561 1013L435 890M224 920L351 951M688 982L688 1013M772 920L688 890M645 1013L603 1013M393 1013L435 1044M898 920L814 951M730 890L856 890M435 859L519 859M688 890L772 890M351 1044L224 1075M688 1013L814 1044M224 951L266 920M393 982L351 982M561 1013L561 982M814 1044L772 1044M266 920L309 951M561 859L519 890M266 982L224 1013M603 1044L603 1013M435 1075L477 1044M688 1013L645 1044M477 920L435 951M351 828L309 859M772 890L814 828M561 951L603 920M730 1075L772 1137M814 890L856 951M309 1075L351 1106M898 1106L940 1106M772 1106L645 1106M477 859L435 859M561 890L645 920M603 920L645 920M351 890L435 920M266 828L224 859M435 890L393 920M477 828L519 828M309 982L351 982M856 1075L898 1075M266 951L266 920M730 1044L772 1075M224 890L182 859M309 1013L351 1013M603 951L519 951M519 1044L519 1013M266 1075L393 1106M730 982L772 1044M814 920L730 951M730 1013L730 1044M898 982L856 1013M393 951L477 1013M688 859L730 828M688 1013L772 1044M730 828L814 890M519 828L477 828M266 982L266 1013M351 1013L309 951M393 890L309 859M309 890L266 920M645 982L645 951M1024 1013L940 982M603 1013L730 1013M266 920L224 920M561 982L603 982M898 890L898 859M309 1137L309 1106M814 1013L730 1044M435 920L309 982M603 1013L561 982M603 1013L730 982M561 1013L519 1013M393 1013L435 1044M688 1075L730 1137M772 982L730 982M645 1075L688 1075M477 920L393 951M645 951L645 982M645 951L772 951M856 951L814 920M561 1013L519 1013M309 1013L266 1044M730 1013L772 982M898 982L898 951M519 890L477 920M266 859L182 828M772 1013L856 951M688 1044L814 1044M309 1075L351 1044M519 890L603 890M688 1013L730 982M730 828L688 828M603 1044L519 1075M309 951L266 982M519 1044L393 1044M266 982L224 1013M940 890L856 920M393 1013L477 1075M856 982L730 982M603 1013L477 951M561 982L688 1044M393 859L435 828M435 890L351 890M224 890L182 920M688 890L814 920M730 1044L856 1013M393 890L309 920M309 1013L351 1075M182 828L266 828M645 1044L730 1044M309 951L393 890M351 920L393 982M645 859L603 828M688 982L730 1013M772 951L814 920M393 1075L309 1044M266 1013L224 982M351 1075L393 1044M856 920L814 859M182 1044L182 1013M393 890L435 920M814 982L688 951M519 982L477 982M519 920L435 920M477 951L477 982M309 1013L266 1013M856 1075L814 1044M688 1075L730 1075M730 1137L772 1137M561 1013L603 1013M645 951L561 951M477 1106L393 1106M309 951L351 951M730 951L730 982M393 951L477 982M393 920L477 951M435 890L603 890M351 1044L309 1044M772 1044L730 1044M266 1044L309 1075M561 1044L519 1075M688 920L603 920M603 1013L477 1075M814 890L898 890M688 982L814 982M224 1013L182 1013M645 951L688 890M266 859L266 890M814 1013L688 982M435 1106L435 1075M688 920L645 920M519 951L603 982M266 859L182 859M309 1106L435 1075M351 920L309 920M351 1075L477 1044M856 982L898 1013M435 951L351 982M730 1075L688 1075M519 920L603 920M309 890L266 890M730 828L730 859M393 920L351 920M351 982L435 951M477 982L393 982M477 1013L603 1013M435 951L435 920M730 1013L772 951M519 951L519 1044M351 920L393 951M561 1013L477 951M772 859L603 828M309 828L266 828M814 1044L688 1044M645 982L688 1044M898 1044L898 1075M435 1075L393 1106M561 1044L561 1075M351 1075L309 1137M351 1044L393 1075M772 920L645 920M772 982L730 1013M772 951L603 920M645 890L772 890M772 1044L814 1075M982 1044L898 1044M519 951L435 982M561 1013L603 1044M645 920L603 920M603 982L561 951M351 1044L309 1075M898 982L898 920M730 951L814 982M772 982L603 982M393 890L435 920M477 1075L519 1075M351 1013L309 982M266 1075L266 1044M519 890L519 920M940 1044L856 1044M814 920L645 890M772 1044L856 1013M309 1044L309 1013M772 1013L688 1013M351 920L266 951M645 951L645 982M561 951L688 951M603 920L561 951M393 1013L435 1013M561 859L519 859M477 951L393 982M519 920L435 920M435 951L477 920M730 951L730 1013M519 859L561 859M266 951L351 951M393 1013L393 1044M182 1013L309 1044M309 1106L309 1075M561 920L561 890M730 920L730 890M351 920L393 890M772 1075L730 1106M688 920L730 859M645 951L688 920M182 951L309 951M519 1044L393 982M645 951L393 951M435 1044L435 1013M561 920L519 951M351 1075L393 1075M309 920L309 890M688 1044L688 982M309 982L266 1013M477 1044L309 1044M477 1106L477 1075M561 1044L561 982M519 920L435 951M435 982L435 1013M772 920L688 890M772 1075L856 1075M898 1106L940 1075M814 890L772 890M688 1044L603 1044M266 951L224 982M224 1013L266 1044M940 859L898 859M898 920L772 890M435 920L266 951M351 920L266 951M393 1075L435 1106M856 920L856 890M645 1106L688 1137M477 920L519 920M519 1044L519 1013M351 1075L435 1013M772 890L730 890M645 920L688 982M309 1044L224 1044M182 920L224 920M351 890L477 890M309 1044L435 1075M898 920L856 951M688 1044L688 1075M519 890L477 920M477 1013L519 1013M309 920L266 951M266 1013L224 982M393 920L519 890M645 1013L730 1013M477 1013L603 1013M814 859L730 828M772 1013L645 982M561 951L561 1013M309 1044L309 1013M688 1044L730 1044M519 951L393 951M772 859L688 920M688 890L730 890M730 982L688 1013M730 951L856 951M645 1075L603 1075M814 859L772 890M645 1044L645 1013M982 982L898 1013M645 920L645 951M940 951L1024 951M224 1044L266 1075M772 890L603 920M266 1075L224 1106M519 920L435 920M351 951L435 951M435 890L309 890M814 1044L814 1075M730 1044L856 1075M645 890L603 951M688 1013L772 982M266 1075L266 1044M814 1075L730 1106M982 1013L856 1013M477 920L393 890M603 1075L730 1137M814 920L940 982M309 982L435 951M645 859L688 859M309 1013L351 1044M730 982L772 951M519 982L519 920M351 1044L393 1075M519 1044L688 1075M435 1044L393 1013M519 1075L435 1075M182 890L224 951M435 1106L393 1137M266 1013L182 1044M309 982L351 1013M645 1075L645 1044M224 890L266 920M224 1044L351 1013M645 1013L645 1044M351 1044L435 1013M393 982L477 1013M477 982L393 951M351 1044L435 1106M561 890L603 859M393 982L351 1044M898 920L940 920M772 890L814 890M182 1044L182 1075M730 920L814 920M266 1075L309 1075M182 890L266 890M561 920L603 890M645 920L603 890M224 1044L266 1106M435 1106L351 1075M603 890L603 920M688 920L730 859M645 1075L645 1044M477 951L561 951M814 951L940 1013M224 982L309 951M603 1013L603 1044M309 1137L435 1106M856 1013L940 1013M940 951L898 920M309 1075L309 1044M730 982L814 951M940 828L898 859M561 982L477 982M645 920L688 890M856 982L856 1044M182 1013L393 1044M603 859L435 859M435 982L561 1013M856 1075L856 1137M603 1106L561 1106M266 1075L224 1075M940 951L898 982M561 920L477 920M266 1013L393 1013M856 1075L898 1044M477 920L393 920M561 1044L477 1075M435 982L393 1013M266 951L266 982M688 951L730 920M351 890L393 859M309 1106L309 1137M435 982L351 982M730 1075L814 1075M603 951L603 982M940 951L982 951M814 1044L730 1075M266 1013L266 951M1024 982L1024 951M982 951L898 890M309 982L393 1013M393 982L393 1013M224 951L266 951M645 1013L730 1044M561 890L688 828M688 982L645 982M688 890L603 890M814 1044L898 1013M898 951L814 982M266 890L182 890M561 951L477 951M393 951L393 920M603 1044L561 1044M645 890L730 920M730 1044L772 1044M351 1106L393 1137M772 1044L688 1013M603 982L603 1013M772 1075L772 1044M772 1075L688 1044M561 982L688 1013M182 1044L182 1013M477 859L393 859M772 951L730 951M393 982L477 951M435 1044L477 1106M393 890L393 920M224 920L393 951M603 1044L730 1013M393 982L224 1044M856 1013L688 982M814 1137L688 1106M224 890L309 890M772 920L814 920M435 1044L266 1044M561 1075L603 1075M730 1075L814 1075M730 1044L645 1044M519 1013L519 982M730 982L856 951M856 1106L772 1075M182 1013L224 1013M266 1013L309 982M940 890L982 890M393 1044L309 1044M519 982L519 951M603 890L603 920M266 890L309 859M266 920L224 920M309 859L309 890M645 1075L561 1075M519 1044L519 982M730 982L730 1013M730 1075L730 982M519 982L561 1013M519 951L351 920M477 1013L561 982M393 859L477 859M393 982L266 982M561 920L519 920M393 1013L393 1044M519 890L561 890M561 1044L603 1013M477 1075L561 1075M603 920L645 951M435 920L309 920M393 920L519 859M856 1075L814 1044M856 982L940 982M645 982L645 1075M477 920L435 951M477 982L351 982M519 1044L519 982M519 1044L435 982M645 951L688 920M224 1044L309 1044M309 1013L435 1013M898 1044L982 1013M730 859L772 828M645 920L645 890M730 1075L856 1044M435 951L603 920M856 890L856 920M309 890L351 890M645 920L603 920M435 1013L351 1013M224 951L224 920M603 890L603 920M266 1075L393 1075M688 920L561 951M814 982L772 1013M182 920L266 920M477 982L435 1013M645 1075L730 1044M224 890L182 890M309 982L224 1013M772 920L814 951M645 859L603 890M561 951L603 951M814 1075L772 1044M940 951L898 951M814 951L856 920M814 982L772 920M688 1013L856 1013M814 982L814 1013M814 1075L814 1044M224 1044L266 1075M814 920L772 890M688 951L645 982M266 859L266 828M309 1075L309 1106M435 1044L351 1075M898 920L982 920M982 890L940 890M519 828L645 859M603 982L645 982M645 1075L561 1075M351 1075L351 1106M351 1013L266 1013M182 1075L182 1013M266 890L309 951M519 982L730 1013M603 1106L561 1075M561 920L603 920M561 1044L645 1013M688 920L688 859M603 1013L561 982M224 920L351 890M519 1075L477 1044M561 982L688 951M224 1013L309 1044M898 951L982 1013M603 982L477 1044M645 951L603 951M393 828L435 828M435 890L435 859M1024 890L982 920M435 1044L435 1075M351 859L351 920M645 1013L645 1106M224 920L266 920M477 890L477 920M266 1044L182 1013M435 1013L477 1044M477 1075L435 1075M561 920L435 920M856 1044L940 1044M561 951L603 920M814 1013L730 1013M730 920L645 920M519 859L477 890M224 982L309 951M435 859L645 890M309 1075L477 1044M940 1075L772 1106M982 982L940 951M224 828L266 859M182 1044L224 982M603 1013L519 1013M435 920L435 951M519 920L477 920M730 890L688 890M309 1013L351 1013M519 1013L435 982M645 920L561 890M393 1044L266 1013M856 982L898 1013M688 1044L603 1013M309 951L393 951M898 951L940 982M856 1044L898 1075M772 951L814 951M224 1013L266 1075M561 890L688 951M645 890L477 951M730 1075L772 1106M224 951L182 951M561 1013L645 982M688 890L772 890M351 951L266 951M477 951L519 982M435 920L309 951M814 951L688 920M856 1013L856 982M603 1075L561 1075M182 1044L266 1075M519 951L477 920M519 951L561 951M266 828L393 828M603 1044L519 982M603 920L561 920M856 1044L814 1013M688 859L730 859M477 859L393 859M435 982L351 1044M772 951L730 920M224 1013L182 982M561 1044L519 1013M645 1013L688 1013M393 982L435 1013M603 920L688 890M814 1013L898 1044M603 1044L519 1044M645 1013L603 1013M898 1013L856 1044M561 1044L477 1044M309 951L309 982M351 1044L393 1013M814 1075L814 1013M393 1044L266 1013M561 951L561 920M351 920L309 859M519 951L645 920M519 1044L519 1075M772 1013L772 1044M561 920L645 951M393 1013L351 1013M266 1137L435 1137M224 920L182 920M477 920L519 951M856 1075L940 1075M856 982L856 1044M266 951L309 982M309 1137L351 1106M224 982L182 1013M898 890L772 890M309 828L393 890M224 951L266 951M435 890L435 920M309 920L393 920M519 1044L561 1075M519 1044L519 1013M772 920L688 890M477 951L351 951M266 982L224 982M688 1137L645 1137M561 828L519 828M561 1013L603 1075M309 1013L182 1044M393 828L477 828M561 951L603 951M435 982L561 1013M477 951L477 890M730 1137L645 1106M351 982L309 1013M393 1106L351 1137M688 982L730 951M814 920L688 920M688 1013L561 982M435 1075L603 1013M266 951L351 951M898 859L940 890M519 1044L561 1013M688 890L645 890M561 890L645 982M309 920L266 920M435 1013L477 982M561 1013L519 1044M814 920L603 982M224 828L224 859M814 1075L772 1106M309 1044L224 1044M309 982L224 951M351 1013L309 1013M1024 1044L898 1044M182 1075L182 1044M772 1075L814 1075M182 982L266 1013M856 1044L1024 1013M856 1013L814 982M688 1013L561 1044M645 1075L561 1106M1024 951L898 951M856 982L940 982M435 920L351 920M730 1044L730 1013M351 1013L393 951M856 920L940 859M224 1137L309 1106M393 1013L266 982M393 1075L351 1106M645 890L603 920M351 1075L351 1044M477 890L519 828M224 1137L266 1075M224 920L182 982M351 1013L435 982M1024 920L982 920M730 1106L561 1106M435 1013L393 982M772 1044L730 1106M477 1075L351 1106M351 1044L435 1044M645 982L772 1013M182 1013L266 982M393 1013L309 1044M477 920L266 890M772 982L814 982M561 982L603 982M645 982L772 982M309 1013L351 920M561 951L603 982M603 920L519 951M982 1013L940 1013M351 951L309 951M393 920L435 920M814 1075L730 1075M856 920L898 951M435 1013L477 982M730 1013L730 982M772 1075L645 1044M519 1044L477 1013M645 890L688 859M645 920L477 890M477 890L393 951M309 859L266 828M772 828L772 859M477 951L603 920M730 1106L688 1137M814 951L898 1013M477 890L351 859M688 1106L730 1044M561 1044L645 1075M730 1013L688 1013M898 920L814 920M393 982L309 951M856 1013L814 1013M351 1013L266 1013M393 890L351 890M266 859L266 890M309 982L266 1013M856 1013L645 1044M856 1075L814 1106M645 920L561 951M519 1075L477 1044M645 1013L561 1013M730 1013L772 1013M224 859L182 859M730 1013L688 1044M772 890L814 920M351 951L435 951M561 859L561 890M645 1044L519 982M898 1075L856 1075M519 920L477 951M519 951L393 1013M688 1013L856 1044M224 951L351 951M645 951L561 1013M730 890L730 920M224 859L309 859M561 951L519 920M224 1075L182 1075M477 951L519 920M224 920L266 859M940 1075L856 1044M561 1075L477 1075M982 951L1024 982M603 982L519 1044M688 890L814 920M309 859L266 828M814 982L772 1013M814 920L772 920M856 982L898 951M561 982L603 1013M688 859L645 828M688 1044L519 1044M393 951L393 920M603 951L561 1013M309 920L224 920M645 1044L688 982M856 1075L814 1044M393 982L477 982M393 951L435 951M856 920L688 920M645 951L772 951M351 951L224 951M856 1075L772 1075M730 859L730 890M266 890L351 859M266 982L393 1013M477 982L477 951M645 890L688 859M435 951L477 951M645 1075L688 1044M435 951L351 982M814 890L856 890M393 920L393 951M856 1044L856 1013M1024 828L982 828M309 1013L309 1044M814 951L814 982M519 1044L561 1075M266 859L224 890M224 859L224 890M309 982L309 1013M730 982L603 1013M730 859L772 890M856 1106L814 1106M435 920L477 859M561 1013L603 982M351 982L435 1013M519 1044L561 1013M351 982L309 982M814 1013L688 1075M645 1044L814 1013M730 1075L688 1044M603 1075L645 1106M730 951L730 982M435 1013L519 1013M688 859L730 828M772 1044L730 1013M309 1044L393 982M519 890L519 920M688 1013L645 982M393 982L435 982M603 859L688 828M435 1044L477 1075M856 982L940 1013M477 920L435 951M688 1075L645 1044M224 920L309 890M309 1044L266 1044M898 951L940 951M351 890L393 920M982 1013L814 982M266 1044L266 1013M730 982L561 951M477 890L435 859M351 1044L435 1044M519 1044L477 1044M393 1044L477 951M730 951L688 951M309 982L266 920M561 982L477 982M519 1044L688 1044M266 982L182 982M603 920L603 859M435 1044L603 1013M645 951L688 982M393 920L224 951M519 951L519 920M772 920L856 951M435 951L477 982M898 951L814 920M561 920L519 982M435 982L393 951M519 859L645 859M730 982L645 982M351 1013L309 1013M688 1013L645 1013M856 982L730 982M561 1013L519 1013M266 1044L351 1044M519 951L603 982M561 1044L519 1075M730 1075L688 1013M309 920L266 982M688 859L645 890M940 1106L856 1106M266 1044L224 1013M730 1106L730 1137M561 890L519 890M730 890L645 890M772 1137L730 1106M393 951L435 920M982 1044L940 1044M309 920L224 890M393 1013L435 1106M561 1044L688 1075M393 1137L393 1106M393 951L435 951M561 890L477 828M393 982L351 982M814 982L898 1013M309 1013L393 1044M351 1044L351 1075M477 982L393 982M856 982L898 1013M351 982L477 1013M772 1013L772 1044M477 1075L351 1075M814 828L730 890M309 1044L309 1013M1024 951L814 951M519 1044L519 1075M982 1013L1024 1044M603 1044L645 1075M982 1075L940 1044M477 951L519 1013M856 951L940 951M856 920L814 920M393 1106L435 1075M688 890L772 920M519 982L477 982M814 1075L898 1075M688 1075L645 1106M730 920L772 890M730 890L688 859M603 859L561 828M266 920L309 951M730 920L814 951M645 982L561 951M898 951L940 951M730 1013L814 982M393 982L603 1013M393 982L519 951M477 920L477 859M898 951L814 982M730 1075L603 1044M393 1044L519 1075M856 890L898 859M266 1075L309 1137M856 859L814 890M940 951L814 951M477 951L519 951M477 890L435 920M477 1044L435 1044M351 1044L266 1075M435 951L393 920M645 951L477 890M603 890L772 920M603 1013L688 982M730 951L730 982M814 1075L856 1044M645 982L730 982M309 828L224 828M688 1013L730 1013M477 859L477 890M182 951L224 951M730 920L688 920M856 982L856 1013M309 1075L393 1075M645 1044L519 1075M351 951L561 951M772 982L688 951M730 951L688 951M561 1013L561 1044M224 920L182 951M772 1044L730 1044M266 1013L351 1013M856 982L856 920M309 1075L266 982M309 1013L224 1013M393 951L477 982M435 982L477 1013M266 890L266 920M856 1044L856 1013M351 951L435 982M351 1044L309 1044M772 890L730 920M561 1044L603 1044M351 951L435 920M393 1044L351 1013M1024 920L982 920M351 920L477 920M351 1044L266 1013M730 1044L814 1044M688 1044L645 1044M351 920L477 920M856 1013L814 982M393 1044L224 1075M603 1075L730 1075M393 859L519 859M561 982L561 951M393 951L224 982M393 1044L435 1106M603 982L561 1044M856 890L898 890M309 920L351 920M645 982L645 951M603 1044L603 1013M730 1075L688 1075M814 1075L814 1106M688 982L730 920M1024 920L982 951M772 828L730 828M730 951L814 890M688 890L645 951M351 920L393 890M477 951L477 890M477 890L435 859M982 859L1024 828M772 1106L814 1137M645 1044L561 1075M898 890L856 890M309 1075L393 1075M266 890L266 920M603 1106L561 1044M435 1044L393 1044M224 1075L182 1044M730 982L688 951M266 951L182 982M477 982L603 951M393 859L393 890M814 828L856 859M940 982L814 982M561 951L519 951M477 1044L561 1044M477 1075L393 1044M856 890L814 859M266 951L266 1013M309 1013L266 1044M730 920L772 890M435 1013L477 1013M645 920L730 951M393 1044L477 1044M393 982L393 951M224 1075L309 1075M898 982L898 1013M730 1013L814 1075M519 982L561 1013M561 920L519 890M814 890L856 890M814 951L856 951M688 1013L645 1044M182 920L351 920M561 982L519 1013M435 982L603 982M519 982L519 1013M982 859L940 890M645 1044L730 982M940 982L982 1013M224 890L182 920M730 859L688 859M814 920L730 951M730 1013L856 951M898 951L982 951M645 920L730 890M477 982L435 951M603 951L603 920M351 1013L224 951M856 1013L814 1013M435 1013L309 951M393 890L477 920M224 1106L224 1137M309 1044L224 982M266 920L351 920M645 828L645 859M182 1106L309 1075M645 920L603 920M393 951L561 982M351 1044L519 1044M519 1013L688 1013M309 1044L393 1044M561 890L645 920M772 1044L772 982M603 982L645 982M561 890L393 890M730 1013L772 1044M351 890L393 890M435 1013L477 1013M309 890L266 859M772 1013L730 1044M519 1075L393 1075M603 1013L645 1075M730 1044L561 1044M224 920L266 890M688 1075L772 1075M645 982L603 1013M435 1044L393 1013M351 920L393 890M730 859L772 859M772 1013L814 1044M730 982L730 951M772 920L688 920M351 920L266 920M603 982L519 1044M856 1106L898 1137M645 951L561 951M898 982L898 1044M688 982L772 982M688 951L814 951M940 920L940 890M772 951L856 982M224 1106L224 1075M730 920L730 890M688 982L730 951M519 1044L477 1044M814 951L898 951M772 859L772 828M435 1044L519 1044M351 982L435 982M603 1044L519 1044M519 982L477 1013M351 1044L435 1013M688 859L814 828M561 1044L603 1013M772 890L730 920M730 920L561 951M393 920L351 951M224 1075L266 1106M645 1013L603 1013M814 982L688 951M266 890L224 920M351 828L477 828M351 920L393 890M688 859L730 890M519 1013L477 1075M561 1013L603 1044M940 951L898 920M309 1013L393 1044M435 982L351 920M730 1044L603 1044M309 1044L477 1075M898 1106L814 1137M393 920L477 859M519 859L561 859M309 920L224 920M519 982L477 951M435 859L477 890M351 920L393 982M519 982L603 951M814 982L1024 1044M730 1106L730 1075M645 1013L772 982M814 1013L856 1044M603 1106L645 1075M730 1075L772 1075M435 920L477 859M351 951L393 951M519 890L645 859M351 951L266 982M645 920L603 920M266 1044L182 1044M477 920L561 890M645 951L645 982M603 951L730 951M688 1075L645 1075M393 859L435 890M266 890L182 920M814 920L772 859M645 890L688 890M603 1013L561 982M645 1075L603 1044M309 1106L351 1075M645 982L730 920M814 1137L898 1137M309 1106L266 1137M688 1013L730 1013M309 890L351 920M1024 1013L1024 1044M688 1075L856 1106M266 920L309 920M772 920L814 890M393 1013L266 1013M814 920L982 951M645 890L603 920M477 1075L351 1075M688 890L688 920M224 920L309 859M393 1013L351 1013M603 1075L561 1044M645 951L688 920M772 1075L814 1106M309 890L351 859M561 1075L603 1044M351 1013L477 1044M351 1044L309 1106M309 1013L393 1044M645 1044L561 1044M519 951L435 982M351 1106L309 1075M519 920L519 951M688 1106L730 1106M435 859L477 828M688 920L603 920M688 982L772 1013M856 890L940 890M351 1044L309 1044M645 1044L561 1075M688 890L688 859M519 1075L477 1044M351 951L266 951M393 982L351 982M393 951L435 982M477 1106L435 1075M477 951L561 951M603 828L519 859M898 1013L856 1044M688 1075L645 1075M435 1044L351 1044M477 1106L435 1075M351 920L309 920M519 982L603 982M688 1075L603 1075M645 951L603 951M645 920L603 890M856 982L898 1013M940 859L982 859M898 859L898 890M561 982L477 1013M814 1106L898 1106M856 859L856 828M435 1013L477 1013M309 920L182 920M730 1075L561 1044M603 1106L561 1075M519 920L561 890M351 920L266 982M688 1044L730 1044M309 1106L309 1075M477 951L393 920M519 982L477 951M561 982L519 951M603 890L645 920M519 1013L393 1013M393 920L435 920M772 1044L898 1044M898 828L940 859M393 1044L603 982M688 1075L772 1075M435 1044L435 1013M351 890L309 890M224 1075L224 1044M393 1044L351 1075M856 890L730 859M351 982L351 951M519 1013L519 982M266 920L309 951M477 1013L519 1044M772 890L814 920M309 951L224 982M435 1044L393 1013M772 1075L730 1075M309 1044L477 1013M856 1044L856 982M182 920L266 982M477 890L603 890M435 1044L519 1044M519 982L561 982M730 890L730 859M688 920L603 920M688 1013L814 1044M309 920L266 951M309 982L393 951M477 890L603 859M561 951L561 982M351 1075L477 1106M309 1013L351 1044M603 982L561 1013M435 890L435 920M435 1044L435 1106M351 1013L266 1044M603 1044L561 1075M603 1075L519 1075" stroke="#000" stroke-opacity="0.7" stroke-width="2.0" fill="none"/>
<path d="M1024 951L940 920M603 1044L519 1013M435 890L393 920M561 951L561 1013M519 951L603 890M561 982L477 951M224 982L266 951M224 982L182 920M519 1013L688 1013M688 951L688 982M435 982L519 951M730 951L645 920M477 920L351 920M393 920L309 982M561 828L561 859M645 951L561 920M477 1013L561 1044M772 1106L688 1137M603 982L561 1013M519 1044L435 1044M814 1137L814 1106M856 859L772 828M772 982L772 951M898 920L856 920M772 982L688 951M393 828L351 859M477 982L477 951M688 1044L603 1044M814 890L688 859M393 890L393 859M814 1013L898 982M351 1106L393 1075M519 890L561 920M519 1075L561 1075M603 890L561 951M519 920L603 859M898 1106L856 1075M351 1106L351 1075M772 1044L814 1075M730 951L772 982M561 951L603 951M393 1075L351 1106M603 920L688 920M309 1075L266 1106M561 890L688 890M393 982L435 1013M519 982L645 1013M561 920L477 920M814 1044L898 1075M982 1075L982 1106M645 859L730 859M730 1013L688 982M772 1013L856 1044M898 951L856 982M351 890L393 828M435 982L393 951M224 890L182 890M477 920L393 951M519 982L477 982M645 951L477 951M309 982L309 920M730 1075L814 1044M351 890L266 859M519 920L519 951M940 890L814 890M519 982L561 982M603 890L603 951M519 1013L393 982M435 1013L393 982M603 890L688 890M519 951L519 920M477 982L477 1013M603 1013L603 982M266 1013L309 1044M224 920L224 951M814 982L772 890M982 1013L940 1044M561 1075L645 1075M266 951L309 982M435 982L351 982M982 920L982 951M603 951L645 920M266 951L224 890M561 951L477 1013M603 920L561 890M393 1013L519 951M393 859L519 859M730 1044L856 1106M856 890L814 920M688 951L730 951M772 982L814 1013M856 982L688 951M393 1013L351 1013M561 1075L519 1044M730 1075L772 1075M477 920L393 920M435 1013L435 982M814 890L898 890M772 1075L814 1013M603 1075L688 1044M688 859L688 828M393 1075L477 1075M856 1106L856 1075M266 859L435 920M309 951L224 920M856 1013L772 1044M645 982L772 920M1024 890L940 920M730 1044L688 1013M561 1013L519 1013M351 1013L477 1013M856 951L814 951M561 920L435 890M561 1075L688 1044M266 1075L182 1106M224 1044L266 1044M309 982L351 920M351 1075L224 1106M645 1044L561 1044M730 920L645 890M351 1013L351 982M393 1013L309 1013M435 890L309 890M435 1044L393 1075M772 1044L772 1013M730 1044L561 1044M772 859L940 828M940 828L982 859M940 982L856 982M730 1106L772 1044M309 1013L351 1044M688 1013L645 982M519 982L603 982M814 859L856 859M519 1013L477 1013M645 951L519 920M182 1013L224 1013M645 1044L688 1075M603 890L519 859M603 1044L688 1013M898 982L814 1013M519 982L645 1013M603 1013L561 951M730 920L645 920M477 1013L351 1013M309 1044L309 1075M351 1106L477 1106M224 1106L182 1106M645 951L603 982M435 920L435 951M645 982L772 951M814 951L688 951M309 951L351 951M182 859L266 828M182 1013L224 1044M603 890L730 920M814 1013L940 951M645 982L688 1013M645 1075L645 1013M645 1044L772 1075M688 890L730 859M898 982L856 951M266 920L182 890M730 1044L688 982M772 920L814 890M772 1013L645 1075M266 1044L182 1044M603 890L393 859M645 920L730 920M435 890L477 859M351 1013L266 1044M814 920L730 890M266 982L224 982M772 1044L898 982M814 951L730 982M730 1075L688 1106M393 1044L435 1044M309 890L266 920M730 1013L645 1013M772 951L856 1013M730 1013L688 1013M814 920L772 920M519 920L435 920M814 890L772 920M603 982L772 982M645 982L603 982M435 920L519 890M266 859L224 890M688 951L730 951M645 951L688 890M645 1044L688 1075M730 1137L645 1044M266 1075L266 1044M772 920L730 951M730 951L603 982M772 1075L730 1075M393 828L351 859M519 1044L561 1044M477 982L561 951M477 920L519 982M603 890L645 920M393 920L266 920M688 1044L814 1044M309 920L393 951M477 859L393 828M814 920L856 890M435 982L477 982M351 920L309 859M224 1106L351 1137M561 1044L519 1013M224 859L224 828M519 890L435 920M603 982L561 982M224 890L224 920M688 951L730 1013M772 951L730 920M309 828L351 859M435 920L393 951M477 890L477 859M814 1013L814 920M477 890L435 890M603 1075L561 1075M856 982L772 951M856 951L814 982M561 982L519 982M309 951L519 951M266 1013L266 1044M688 982L645 982M266 890L266 828M266 1075L182 1044M519 890L561 890M645 920L561 890M603 890L730 920M814 1044L898 1075M224 920L224 890M688 1075L856 1106M730 951L856 951M814 1044L856 1013M309 1137L182 1137M435 951L519 920M814 1075L645 1013M393 920L351 951M688 951L603 982M898 1044L898 1075M645 951L688 920M772 890L730 859M688 920L730 890M435 828L393 859M730 1044L772 1075M645 951L688 1013M309 1075L477 1106M856 1137L898 1137M477 920L730 951M309 1075L309 1044M814 982L772 982M645 920L688 890M519 920L477 859M351 1044L435 1075M266 1044L224 1075M645 920L561 982M519 859L645 890M730 920L688 920M603 890L772 859M645 1075L730 1075M645 890L645 859M688 890L645 920M266 1106L309 1106M435 951L351 982M814 1075L856 1106M772 1075L688 1013M519 1013L561 1044M645 920L519 951M603 951L645 890M435 951L266 920M561 951L645 920M730 1013L772 1075M814 982L730 982M351 951L309 920M351 890L393 828M940 1075L898 1075M477 1075L645 1075M688 920L603 920M772 982L898 1044M519 982L645 982M224 1013L182 982M688 1106L688 1075M603 951L645 982M477 1075L393 1044M772 1044L814 1044M1024 890L982 890M351 890L393 920M772 1044L856 1075M688 1013L772 1013M477 982L603 1044M309 859L435 859M688 1106L898 1106M645 982L603 1044M898 1106L772 1106M645 859L730 890M435 890L477 859M772 890L856 859M814 920L645 951M477 920L477 951M688 982L688 951M435 1013L477 951M772 920L730 920M603 890L561 859M688 951L730 951M309 951L309 920M772 1013L688 1013M814 920L856 982M772 982L730 982M730 1044L772 1075M940 828L898 828M435 1106L477 1106M519 982L603 982M772 1137L772 1106M645 1013L730 1013M393 982L477 982M309 951L224 1013M519 1044L561 1044M561 1075L645 1075M688 982L814 1013M898 1106L898 1075M561 951L519 982M772 890L856 890M351 982L309 1013M688 951L772 982M519 982L435 1013M309 920L393 920M730 920L645 828M351 1013L351 1044M309 920L266 951M772 951L730 951M266 951L224 982M266 1013L351 1044M477 951L688 951M351 920L351 982M603 951L603 982M266 1044L309 1013M561 920L477 920M561 951L645 920M814 951L772 920M309 1013L309 982M730 951L645 951M351 1075L224 1044M688 1075L645 1044M814 951L856 920M561 951L645 982M772 890L688 890M772 890L940 920M309 1106L224 1106M435 890L477 890M266 920L309 920M561 982L519 951M772 982L730 920M182 1044L224 1044M519 951L519 920M688 1044L519 982M477 920L477 982M730 920L730 890M519 1013L561 1013M435 1106L477 1075M645 951L730 951M730 859L561 859M393 951L477 890M561 1075L519 1044M561 1013L688 982M772 920L730 920M603 920L730 890M772 951L772 1013M772 1013L814 951M772 982L856 920M435 1075L309 1044M435 982L477 1013M982 951L940 982M351 920L393 920M435 1013L519 1013M519 859L477 890M393 1075L477 1075M772 951L603 920M393 982L351 982M688 1013L772 1044M645 982L688 982M393 982L351 1013M603 920L519 951M603 890L688 859M477 1044L519 1075M603 1013L645 951M519 920L561 920M898 1044L940 1044M266 1106L266 1075M730 982L772 982M730 920L645 890M435 1044L393 1044M814 1044L772 1075M814 951L772 951M224 982L224 1044M477 1075L435 1044M309 951L309 920M266 890L266 920M393 1075L477 1106M645 951L730 951M519 1075L561 1075M730 1075L814 1106M603 890L688 920M309 1013L309 1044M477 951L519 951M224 951L309 982M772 1044L730 1044M519 1013L561 982M603 951L561 1075M730 1106L772 1106M814 920L856 951M309 951L351 982M393 1044L477 1044M266 951L266 982M772 890L814 890M603 920L603 859M224 1044L224 1075M603 890L645 920M477 1013L393 982M603 1044L561 1075M603 982L688 951M224 1075L309 1075M730 1044L730 1013M435 920L393 951M772 1013L645 1013M224 1075L266 1044M561 890L477 859M561 1044L477 982M814 890L898 859M224 1044L182 1013M182 920L224 890M309 982L266 951M561 1013L688 1013M688 951L688 920M435 951L435 890M519 951L477 920M645 890L561 890M224 1044L266 1044M772 1044L814 1075M477 1013L561 1013M772 1044L856 1013M435 920L477 920M730 1106L856 1075M940 859L898 920M435 1044L477 1075M898 1075L898 1044M561 859L435 890M266 890L266 859M224 1075L309 1106M393 982L435 1013M856 951L898 982M645 920L772 920M224 1137L393 1106M730 1044L772 982M477 1075L561 1075M224 951L266 920M351 1013L393 982M603 1106L561 1075M351 982L182 1044M940 1075L982 1044M477 890L351 951M477 982L435 1044M898 1106L940 1106M603 982L645 982M393 982L435 951M898 920L1024 920M224 982L266 951M351 890L309 920M772 890L772 920M435 859L435 828M772 1075L856 1075M561 920L477 920M561 982L477 1013M477 1075L393 1044M856 1044L814 1075M688 920L645 920M1024 1013L982 982M898 859L898 828M266 828L309 859M772 859L772 828M519 1075L477 1013M182 1013L266 982M477 828L603 828M688 982L561 951M477 1044L477 1013M772 1044L856 1013M982 982L1024 982M309 982L309 1044M772 890L772 920M730 1044L814 1044M730 951L898 1013M1024 828L856 828M856 828L814 828M266 920L309 920M309 1044L393 1075M856 1075L898 1106M477 890L435 859M519 951L561 890M393 1075L393 1044M603 890L603 859M477 1013L435 1013M898 1044L940 1075M561 982L519 951M435 951L477 951M309 890L393 890M814 1106L772 1075M519 1013L435 982M309 1013L351 951M351 1106L393 1075M435 1013L477 982M603 920L645 920M266 951L351 920M435 1106L477 1075M309 1075L351 1106M688 920L688 951M814 982L814 920M519 920L561 951M688 920L730 890M856 1013L898 1044M224 951L309 951M814 890L814 920M351 1044L393 1044M856 1044L772 1075M772 859L730 890M603 920L561 920M688 1013L730 1013M940 982L814 982M519 982L561 982M519 951L603 982M393 982L351 920M393 1044L393 1075M477 920L477 951M772 1075L772 1137M435 1075L393 1137M309 920L435 920M435 1013L393 982M393 890L393 951M393 1013L309 951M266 1075L224 1044M730 1013L772 1013M435 982L393 1044M309 890L182 859M898 1044L856 1075M730 920L645 1013M519 1013L477 982M814 920L772 890M393 951L519 951M561 920L519 951M182 1013L224 1013M309 1075L393 1075M772 920L856 982M561 982L603 1044M182 982L224 1013M730 828L645 828M519 890L477 920M645 920L688 920M814 951L645 951M814 890L898 859M603 1044L645 1044M477 890L519 890M351 1106L309 1075M898 859L856 859M309 1137L224 1106M982 1044L1024 1044M814 1075L730 1044M688 920L730 951M561 982L603 1013M730 982L688 982M561 890L645 859M309 920L351 920M477 920L519 920M393 982L435 1013M772 1106L730 1106M224 920L351 951M645 982L772 982M561 951L435 951M603 982L688 982M688 890L772 890M603 859L519 828M435 951L309 920M435 890L477 890M393 890L603 890M603 1044L688 1013M898 1013L940 982M561 920L477 951M730 1075L645 1075M435 1044L435 1013M477 1013L393 1075M603 859L730 890M435 982L393 1013M351 1075L351 1044M477 890L393 859M730 890L814 859M393 1075L393 1044M561 1013L688 1044M519 890L477 920M603 1013L645 1013M814 951L730 890M645 1075L645 1106M477 951L435 951M351 1106L435 1106M772 920L688 982M435 1013L477 1075M309 920L309 859M772 920L814 920M393 920L435 920M519 1075L519 1013M266 920L309 920M772 890L730 920M309 859L351 890M393 1044L266 1044M814 1044L730 1013M688 828L730 859M856 1106L814 1137M814 1044L856 1013M645 982L730 1044M645 982L603 1013M561 1044L603 982M266 859L309 859M772 951L814 1013M856 1075L940 1075M435 1013L477 1044M730 1106L898 1106M393 951L477 951M814 920L814 890M435 1075L561 1075M688 1106L772 1044M266 1044L224 1075M224 1044L224 1013M309 1075L309 1044M266 1044L351 1044M645 1044L603 1106M435 890L519 920M182 951L182 920M351 1106L309 1106M1024 982L982 982M393 1075L393 1044M688 1106L772 1075M772 1075L814 1075M603 920L561 920M645 951L603 920M645 828L561 828M393 890L435 828M814 859L814 890M814 1013L730 982M772 982L688 951M477 1075L351 1075M519 1013L351 1013M435 982L393 951M435 951L477 920M519 1044L561 1044M519 1044L519 1013M898 859L1024 859M477 982L393 1013M477 1075L435 1106M856 859L814 828M435 920L519 920M519 982L477 982M856 951L772 951M519 920L519 951M435 1044L561 1044M351 1013L309 1013M772 1044L772 1013M309 1044L266 1013M309 1044L309 1137M856 982L1024 1013M730 1013L688 1044M772 1106L561 1075M561 1013L519 1044M940 890L940 920M645 1075L603 1106M519 1044L645 982M1024 859L982 890M772 1013L814 1013M982 1106L856 1106M561 951L645 982M309 982L435 982M814 1075L856 1013M224 1013L182 1013M856 1044L856 1075M730 890L772 920M477 1013L393 1013M393 859L309 890M603 982L603 1013M645 859L603 890M393 982L351 951M561 890L603 920M814 982L772 951M182 1075L224 1044M688 828L645 859M814 1075L856 1075M898 1106L814 1106M477 951L603 951M519 982L519 951M603 1044L519 1075M772 982L772 1013M814 982L772 982M603 1013L688 1075M351 982L266 982M435 982L477 1075M393 1075L351 1106M393 859L435 890M856 1013L730 951M561 1075L603 1106M351 1044L393 1044M519 890L519 859M435 1075L393 1075M393 890L351 890M603 1044L645 1044M730 1106L856 1137M814 951L940 951M266 951L266 920M351 1106L224 1044M435 1075L477 1044M266 1044L224 1075M477 1013L519 1013M1024 951L898 951M224 951L351 982M730 1044L772 1013M309 1044L266 1044M393 951L477 951M393 1044L351 1013M519 920L603 890M477 859L519 920M856 951L772 982M351 951L224 920M730 1013L645 1013M688 982L561 1044M645 982L645 1044M435 920L393 920M266 920L182 920M435 1075L519 1075M477 920L603 890M519 951L477 982M266 982L351 982M1024 951L982 982M772 1044L898 1106M224 890L182 890M266 1044L224 982M393 920L393 890M688 982L730 951M435 1075L393 1075M266 890L435 890M856 920L898 920M645 890L688 920M814 951L940 951M688 1044L435 951M898 1075L940 1106M266 951L224 951M814 1106L898 1075M561 951L603 951M688 1044L772 1044M898 1044L856 1075M772 951L814 920M477 1106L435 1106M435 1044L477 1075M477 1044L519 1013M309 920L309 982M814 1013L856 1013M266 1075L266 1044M772 1044L772 982M309 920L351 890M561 890L603 890M309 920L224 951M351 920L435 951M266 1013L309 1013M435 1075L393 1044M351 1106L393 1075M309 982L266 1013M561 920L688 920M266 951L351 982M645 1075L561 1075M561 920L603 859M477 1044L351 1075M224 982L182 982M645 982L561 1013M561 1044L603 1013M730 828L688 859M772 1013L730 1044M393 1013L435 1013M603 1013L519 1044M182 890L182 920M730 951L645 982M561 1013L603 1044M309 982L224 982M224 1075L266 1044M351 982L435 1044M603 828L645 828M730 1013L940 951M224 1075L266 1106M772 920L856 951M561 1013L603 1013M688 982L730 1013M309 1106L393 1106M688 951L772 951M224 982L224 951M309 1106L309 1137M688 1106L603 1075M982 1106L982 1075M561 890L561 920M309 828L224 859M730 951L730 920M519 1013L477 1013M645 951L688 951M351 890L477 920M772 1075L814 1044M435 951L309 982M856 920L814 1013M603 1075L561 1013M477 920L603 890M856 1044L856 1075M435 1044L435 1075M814 920L856 951M309 951L351 920M224 982L182 1044M224 828L182 859M393 951L435 920M351 1044L435 1044M814 951L814 920M519 859L561 859M393 951L561 951M982 920L940 951M898 1013L940 1013M856 982L940 982M435 1044L519 1044M561 1013L645 1013M477 1044L351 1013M477 1075L309 1013M982 1013L856 1013M266 859L309 890M940 1075L940 1106M393 982L393 951M266 1044L393 1044M940 920L856 859M224 951L182 890M266 920L309 859M982 828L898 859M688 1013L645 982M940 982L898 1013M309 890L351 951M266 1013L351 1044M603 1044L645 951M182 859L182 828M393 920L351 920M645 1075L645 1106M477 1013L603 1013M688 1075L688 1106M688 1044L730 1075M519 890L603 920M435 982L351 1013M940 982L856 951M772 1044L814 1106M266 1013L351 1075M688 982L730 920M561 890L645 890M730 1075L688 1075M351 1013L351 1044M772 920L898 920M477 951L603 951M814 1075L856 1044M772 1013L856 1075M814 1044L856 1075M940 828L1024 859M393 951L351 1013M772 951L730 951M645 1013L477 1044M477 982L645 951M519 982L561 1013M561 890L603 890M435 1044L393 1013M688 1044L730 1044M645 1044L603 1075M688 1075L730 1075M730 1013L688 1013M645 951L772 982M309 951L224 951M856 1075L940 1075M688 890L645 890M435 982L435 1013M519 1013L435 1013M772 1075L772 1106M435 828L393 859M309 920L351 920M645 951L730 982M688 1044L645 1013M645 859L772 859M477 1013L351 1044M266 890L309 951M224 920L182 920M561 982L603 951M814 1044L856 1013M856 1106L898 1075M393 1044L266 1075M224 859L182 890M435 982L519 1013M940 1075L982 1075M645 859L688 890M561 1075L561 1106M645 1013L603 1044M351 1013L393 1044M645 920L477 920M519 951L393 920M519 951L477 920M435 1075L393 1044M898 920L940 951M688 982L772 920M519 859L519 890M772 982L730 1044M688 982L772 982M645 920L688 920M898 828L856 828M309 982L435 982M393 859L477 859M1024 920L856 951M351 920L351 890M393 1044L393 1075M856 982L898 982M730 1013L688 982M224 1044L266 1013M603 982L477 1013M730 1044L772 1013M393 1106L351 1106M772 951L730 1013M477 920L519 890M266 1075L182 1075M561 890L603 859M351 982L351 951M182 1106L266 1075M688 1044L645 1075M519 982L645 1013M266 982L182 982M351 1075L309 1106M898 1075L940 1106M266 1013L309 1013M519 1013L519 982M814 890L688 859M688 859L645 890M435 1013L435 982M814 1013L730 1044M940 1044L814 1013M519 951L477 890M351 982L393 982M940 982L730 1013M393 920L435 920M603 982L603 920M730 1044L645 1075M435 1013L393 1013M898 982L898 1044M982 920L1024 890M772 920L814 890M351 859L266 890M730 1075L645 1106M645 1044L772 1044M688 951L645 951M224 1044L309 1075M982 828L940 859M519 920L477 951M603 859L561 890M561 1075L603 1044M856 859L898 890M688 920L772 920M309 982L309 951M351 890L266 920M982 982L940 982M940 982L940 1013M477 1013L351 1013M814 1137L814 1106M814 890L688 951M519 1013L477 1013M309 1075L224 1075M182 890L224 920M477 951L561 982M351 1013L309 982M688 1044L603 982M856 859L814 828M772 1013L772 1075M435 890L351 951M435 890L519 890M814 1075L772 1106M224 1044L351 1075M351 1106L309 1137M645 1075L688 1137M856 982L940 1044M182 982L224 1013M645 982L730 982M435 982L393 951M435 859L393 890M814 1044L856 1013M730 1013L772 1044M309 890L393 920M393 1013L435 1013M266 920L393 920M351 1044L266 1044M645 951L730 951M266 890L309 859M182 951L309 920M435 1013L309 1075M814 920L856 951M519 982L772 1013M477 1013L519 1044M688 920L561 890M603 1044L645 982M309 1075L435 1075M519 1013L603 982M814 982L688 1013M561 890L603 890M814 920L772 920M519 951L561 920M309 951L351 951M266 1044L266 1013M477 890L435 859M351 982L266 951M561 982L603 1013M940 1013L898 1044M772 890L814 920M730 920L645 920M519 951L561 951M266 951L435 951M477 1013L435 1013M477 920L435 951M309 828L224 859M561 1044L603 1013M435 1044L561 1044M266 920L266 890M182 890L224 859M730 1044L730 1013M224 1044L182 1044M898 982L856 951M309 920L266 890M435 890L477 890M309 982L309 951M435 859L435 828M688 1075L645 1075M982 1013L898 982M730 1044L772 1013M435 920L477 920M603 920L477 920M182 1013L224 982M645 920L603 890M435 1075L351 1075M603 890L519 920M561 920L435 951M1024 1013L940 1044M856 920L814 920M393 951L351 982M477 951L393 951M182 951L182 920M603 859L645 890M730 1044L856 1013M688 1044L688 1075M603 890L688 890M982 1013L982 982M688 890L772 828M898 859L814 890M814 828L940 828M688 982L603 1013M309 982L393 920M393 890L266 890M603 1106L561 1106M309 951L224 982M856 1013L814 1013M477 890L477 859M477 951L477 982M645 1106L561 1044M477 1013L561 1013M182 951L182 982M561 920L603 951M351 951L309 982M309 1013L224 1013M351 1075L477 1044M393 1044L309 1044M645 1075L603 1044M351 951L519 982M309 859L351 859M730 890L603 859M898 1075L940 1106M393 982L309 951M772 1013L814 1013M477 1075L435 1044M730 1106L772 1075M477 828L393 890M351 982L309 951M561 1013L603 1013M603 951L519 920M856 1137L772 1137M309 828L477 859M814 890L982 890M477 1075L477 1044M982 1075L898 1044M772 890L772 920M477 1013L351 1013M814 890L940 859M435 1044L393 1013M309 1044L351 1044M435 890L393 828M393 1044L477 982M603 982L477 982M856 1137L814 1075M772 890L730 890M519 890L561 920M519 1013L561 1044M477 920L519 920M688 1106L603 1075M856 1106L772 1075M351 982L224 982M519 982L561 951M435 1013L393 1013M519 859L477 890M309 1013L266 982M477 1044L351 1013M266 951L309 982M898 951L814 951M309 920L393 920M393 951L393 982M688 920L688 890M603 890L519 859M224 951L266 920M393 1013L477 982M730 1044L730 1106M688 1044L519 1013M266 1044L351 1013M1024 951L982 982M603 920L561 920M393 1075L351 1075M519 1013L435 1013M814 920L856 920M688 1044L730 982M561 859L477 859M603 920L730 920M940 1013L814 1044M645 1044L688 1044M477 1013L351 1013M477 951L477 1013M393 1013L393 982M351 890L393 920M477 920L561 890M351 890L351 920M772 920L856 951M393 982L266 982M266 1013L351 1013M393 1044L435 1075M351 890L266 828M519 828L561 859M561 1013L477 1013M940 982L940 1013M688 1075L645 1044M1024 890L940 859M561 951L519 920M561 1044L435 982M309 890L351 859M393 1044L266 1044M477 920L351 920M688 1013L730 982M266 982L309 1013M856 1075L898 1106M393 859L351 890M309 1013L351 1013M940 859L856 828M645 859L645 890M730 890L645 890M224 920L266 890M645 1075L603 982M351 951L351 920M772 1044L772 1075M519 982L477 1044M393 982L351 1013M435 920L477 951M519 982L477 951M561 920L645 951M856 920L898 859M603 1013L603 982M1024 1013L982 982M561 859L561 890M435 982L393 951M603 920L519 982M309 1013L266 1013M814 920L856 951M519 1013L645 1013M856 951L856 920M772 890L856 890M309 982L266 982M561 920L519 951M561 859L603 828M688 1075L772 1075M393 982L477 1013M730 951L603 951M309 859L309 890M730 1013L645 1013M477 890L561 890M814 1013L856 982M814 1137L898 1106M561 920L477 951M435 890L477 890M561 920L603 951M772 982L814 1013M393 890L266 920M351 859L309 920M814 951L898 982M688 1013L561 1013M772 920L730 920M477 1013L477 982M351 920L393 951M435 982L351 1013M645 920L645 890M982 920L982 951M561 1044L688 1044M688 951L645 890M182 890L224 920M351 982L435 982M772 1137L772 1106M772 920L730 951M772 920L688 982M645 1044L688 1013M309 890L393 890M393 890L309 890M814 1013L730 1044M688 1013L772 982M603 1044L561 1044M688 982L645 982M309 1075L182 1044M856 951L730 920M351 1044L435 1075M814 1013L772 1044M393 951L351 951M309 920L351 920M772 920L856 920M224 1044L224 1075M982 982L940 982M182 951L393 982M603 982L730 982M730 920L772 920M182 951L266 920M940 920L814 920M393 1075L351 1106M519 1044L519 1075M393 920L393 951M814 920L856 920M814 951L730 982M266 920L224 920M772 951L772 1044M435 1013L561 1013M309 1075L393 1106M477 1044L561 1075M477 1013L519 1044M814 982L772 982M603 890L519 920M645 1013L688 1044M435 982L351 982M645 1075L688 1013M519 859L435 828M182 1044L351 982M351 920L477 920M351 828L309 828M688 890L730 920M309 951L266 982M393 890L351 920M393 920L309 859M351 1013L309 1044M224 859L266 890M351 890L266 920M688 920L603 859M393 1044L477 1013M603 951L603 1013M435 1044L561 1044M309 920L351 859M898 1075L898 1106M309 920L266 920M688 982L730 951M688 890L561 890M603 1106L561 1075M393 920L224 951M393 890L477 890M351 920L393 920M519 890L477 920M309 1044L266 1044M351 1044L477 1013M351 1044L351 1075M982 1106L856 1044M435 920L561 920M477 920L393 920M688 890L645 951M856 828L856 859M393 982L309 982M182 890L224 890M477 890L561 890M772 982L814 1013M856 920L688 890M856 1044L814 1075M309 1075L351 1075M393 920L351 890M772 920L814 920M477 982L309 951M477 1044L519 1044M856 1013L772 982M645 1106L814 1044M519 890L561 859M688 890L730 920M730 890L645 920M898 1075L898 1137M772 982L730 951M266 1013L309 1013M814 890L730 920M266 982L309 982M351 982L393 1013M730 982L814 951M435 920L519 920M730 890L688 859M435 982L519 1013M393 951L477 951M351 1044L309 1044M856 951L898 982M351 982L224 1013M603 951L645 951M603 1044L561 1044M688 1106L645 1137M772 1137L772 1075M266 982L266 1013M393 951L477 951M435 1075L435 1044M351 1013L393 1013M603 951L561 920M688 859L772 890M519 1044L519 1075M772 982L730 951M940 920L898 859M772 920L645 890M435 920L561 951M898 920L814 920M561 1044L519 1013M351 828L309 859M982 982L1024 1013M772 1013L730 1013M561 1013L603 1044M898 890L856 859M645 1013L688 1075M393 1013L309 982M561 1075L477 1075M393 920L393 859M519 1013L519 982M603 890L688 890M814 1075L772 1044M393 1044L393 1075M435 1075L477 1106M435 920L477 951M393 1013L477 982M393 982L393 951M645 982L561 1013M645 920L688 890M688 951L603 859M856 890L814 890M645 1044L603 1075M561 951L477 982M561 1044L519 1013M393 920L393 890M393 1044L435 1075M519 920L519 951M982 982L982 1013M435 890L393 890M477 920L309 920M772 1044L603 951M224 859L266 859M603 1106L645 1106M309 982L182 982M730 1013L730 982M730 920L772 920M772 890L772 859M351 890L435 920M519 951L561 982M393 920L435 951M309 1137L435 1075M393 920L351 920M645 951L645 920M856 890L772 890M309 1013L477 1044M645 951L688 951M856 859L898 859M688 1075L730 1044M856 1044L814 1075M477 890L435 859M182 951L182 982M393 1075L266 1044M772 1013L814 1013M688 920L603 920M351 1075L266 1075M561 951L435 920M603 1013L603 982M224 890L182 890M730 890L814 890M561 920L561 951M940 1013L856 982M730 920L730 890M1024 1013L982 1044M772 920L688 951M772 1044L814 1075M1024 828L940 859M224 1013L182 1013M561 982L603 982M266 1013L309 1044M435 1075L561 1075M477 890L393 920M393 1044L393 1075M603 920L561 982M688 951L561 951M393 1044L393 982M351 1013L266 982M561 951L477 951M435 982L393 982M730 1106L730 1075M266 920L309 920M856 890L898 859M603 982L645 951M519 982L477 951M645 1013L688 1013M477 1075L519 1075M688 890L645 920M477 1013L393 1013M645 1044L603 1013M519 1013L477 1044M477 920L435 982M814 1075L856 1044M519 859L645 828M266 1013L266 1044M393 1013L519 982M645 859L688 859M435 920L351 890M940 828L898 828M435 1013L435 982M772 982L730 982M730 982L688 1013M688 920L603 859M351 1044L393 1044M561 1013L645 982M940 1013L856 1044M393 1013L393 951M645 1106L772 1044M561 951L477 920M477 951L351 1013M351 890L182 920M898 1013L856 982M688 1044L730 1013M814 1075L814 1044M309 1137L266 1106M224 1013L266 982M519 920L477 951M309 1106L393 1075M393 859L266 828M730 1075L688 1075M393 951L477 920M688 859L730 859M519 951L477 951M477 1044L435 1044M435 951L393 920M940 982L982 951M856 1075L814 1106M435 951L477 951M309 1013L182 982M645 920L603 890M561 1013L688 1013M772 859L730 828M309 1044L309 982M309 1013L224 1075M351 890L393 890M645 890L603 920M940 920L898 890M519 1013L477 1013M1024 1044L940 1013M688 1075L688 1013M730 859L814 890M351 1044L224 982M603 982L645 951M435 920L519 890M814 890L645 859M603 951L688 982M435 890L351 859M477 1013L393 982M645 1013L603 1013M266 1013L351 1013M603 828L435 859M688 1013L814 1013M266 1044L266 1075M435 1013L266 951M982 982L1024 1013M182 1075L224 1075M730 828L645 859M477 920L435 920M519 920L393 920M519 982L393 920M940 982L856 1013M772 890L814 890M435 1013L435 982M772 1044L814 1013M645 982L730 1013M603 1044L561 1044M730 1106L856 1075M309 1013L351 1013M309 890L224 920M730 1044L688 1044M477 890L351 951M519 1075L645 1044M477 1013L435 982M519 1013L477 1044M561 982L603 951M561 1013L477 1013M561 1044L603 1044M182 951L224 951M351 920L435 920M772 1013L898 982M309 920L266 920M688 982L730 951M772 1075L814 1075M645 951L561 951M519 890L519 828M688 1013L772 1044M393 1075L435 1075M814 1013L898 1044M561 1044L561 1075M856 1106L856 1075M519 1044L561 1044M730 1044L730 1075M477 951L603 951M224 1013L266 1044M772 1013L730 1075M603 920L561 951M519 1044L561 1044M519 1013L435 982M814 1075L856 1075M688 982L730 1044M309 1013L435 1013M982 890L1024 920M266 1044L182 1044M393 951L309 920M688 982L856 982M435 1106L351 1106M814 920L772 920M561 920L603 951M730 1013L645 982M688 982L730 920M309 1044L393 1044M856 890L814 920M730 1013L688 1013M772 890L730 890M435 859L477 890M814 1075L772 1044M393 1106L266 1075M266 920L224 982M182 982L182 920M266 890L182 920M688 859L603 859M266 951L393 982M1024 828L940 859M351 1044L309 1013M645 951L688 982M603 920L772 890M603 920L730 920M266 920L309 890M393 1075L435 1106M519 920L561 890M393 951L309 982M182 1013L224 1044M435 890L435 920M688 1013L645 982M688 1013L645 1013M645 890L645 859M814 920L730 920M266 1106L224 1137M645 1044L603 1044M477 859L393 828M856 1075L730 1044M730 1075L645 1075M393 920L435 920M814 1013L814 1044M435 920L393 920M519 920L477 951M772 890L898 890M603 1013L645 951M435 1075L351 1075M645 859L645 890M688 982L645 982M856 920L898 951M393 859L351 828M603 982L561 1044M645 951L688 920M982 859L940 859M940 828L940 859M393 951L477 982M266 951L224 951M856 1075L772 1044M224 920L309 920M645 951L688 920M645 1075L561 1044M309 1044L266 1044M688 1044L772 1044M477 982L561 982M519 1044L561 1075M688 1044L603 1013M814 890L856 890M730 920L730 951M561 1075L688 1106M435 1137L309 1137M814 828L856 859M982 1013L940 982M224 1013L393 1013M351 1044L182 1044M351 920L224 890M688 982L645 1013M351 1013L309 951M814 890L688 920M351 951L435 982M309 1013L224 982M519 1013L561 1013M266 859L309 859M772 1106L856 1106M561 1044L603 1075M519 951L519 859M603 1013L772 1013M224 1013L266 1013M772 951L730 951M224 1013L182 1044M477 1044L477 1106M645 828L519 859M645 890L688 920M603 1106L730 1044M393 1013L351 1075M730 859L688 828M856 982L856 951M856 982L772 951M477 859L435 890M688 1013L772 1013M266 951L266 920M435 1044L224 1075M561 1044L519 1044M645 859L688 890M266 890L309 920M688 920L730 920M224 890L224 920M224 1044L266 1044M351 920L266 920M561 1013L561 982M561 951L730 951M519 951L561 951M561 920L561 951M814 982L856 982" stroke="#000" stroke-opacity="0.7" stroke-width="2.0" fill="none"/>
<path d="M730 982L898 920M603 951L772 951M561 951L477 951M940 890L898 890M519 920L435 920M435 1075L435 1044M393 982L351 982M814 1044L730 1044M561 1013L477 1013M519 982L477 920M266 1044L435 951M645 982L561 982M393 859L309 828M435 890L477 920M603 1044L730 1075M519 920L603 890M224 951L266 951M266 1044L351 1044M772 1044L730 1075M309 951L351 951M603 1075L688 1075M645 982L688 1013M688 890L645 920M309 920L309 982M224 859L266 890M730 920L772 982M351 1013L393 1044M561 1013L603 951M351 890L309 920M435 890L393 859M393 1013L393 982M351 982L266 1044M730 1044L856 982M519 1044L519 1013M814 1013L772 982M603 920L477 982M266 1075L351 1013M898 982L898 1013M561 982L435 982M688 982L603 951M730 982L688 982M435 951L519 920M393 1106L477 1075M477 1075L393 1044M351 890L266 920M603 1044L477 1044M351 828L309 828M519 951L477 982M772 1075L645 1137M351 920L435 890M688 859L645 828M561 951L688 920M224 859L309 890M351 1075L309 1137M351 920L477 920M477 1075L519 1044M393 1013L477 982M898 920L982 890M519 951L519 920M519 982L435 1013M940 828L856 859M772 920L645 982M814 1044L814 1075M477 951L519 951M561 859L603 828M561 859L477 828M688 1137L772 1106M477 859L477 920M772 920L814 920M688 890L730 920M898 1013L898 1044M688 1044L814 1044M898 1044L940 1044M561 859L519 890M351 1075L435 1044M645 890L645 920M603 951L688 951M814 1075L898 1075M730 982L645 982M730 951L772 982M477 982L561 982M982 890L814 859M477 1075L561 1075M730 890L814 859M856 1075L856 1106M266 1044L351 1044M772 1013L856 1013M772 859L814 859M182 1106L224 1044M561 951L603 982M772 951L688 982M645 859L603 890M645 1075L688 1106M856 1044L898 1075M603 920L688 920M351 1044L309 1044M814 828L898 828M519 890L393 890M688 982L688 951M603 951L519 920M814 982L772 1013M477 1075L519 1044M561 1013L688 1013M477 828L435 859M645 1075L519 1075M898 1044L814 1044M393 890L477 859M561 859L645 890M603 859L645 859M519 1013L603 1013M351 859L224 859M856 1013L982 982M393 982L266 982M519 890L477 890M435 982L393 1044M309 951L435 920M393 1013L351 1044M519 920L393 920M898 951L898 982M519 1013L519 982M645 982L688 1013M814 1013L814 982M772 951L814 951M940 828L856 859M814 920L688 951M309 1075L309 1044M309 982L351 982M266 890L309 920M351 982L393 982M351 1044L266 1044M1024 951L940 920M856 982L898 982M688 1044L814 1075M645 1013L688 982M435 982L309 1013M561 1075L477 1075M688 982L561 982M393 951L435 982M645 1075L603 1044M688 859L645 920M730 951L730 920M1024 982L1024 951M814 1013L814 1044M856 1044L898 1013M898 951L982 982M982 951L940 951M477 1013L561 1013M477 951L519 1013M856 1044L814 1044M519 1044L561 1013M603 1075L645 1075M814 982L730 982M351 1075L266 1075M266 1075L435 1106M561 951L561 920M814 1013L772 982M309 951L266 920M435 890L477 890M688 1106L688 1075M309 920L266 951M688 951L772 1044M393 982L351 951M266 1075L182 1106M856 1044L898 1013M814 1013L772 1075M393 1075L309 1013M730 951L940 920M309 982L266 1013M561 1044L603 1075M351 982L351 1013M477 1044L519 1075M772 951L645 982M266 859L309 828M814 920L688 890M519 1075L477 1044M477 920L477 951M856 1075L856 1106M603 920L645 890M351 920L309 920M940 982L898 982M477 920L519 920M477 951L477 890M477 859L435 828M224 920L266 951M519 982L393 982M645 890L730 859M351 859L351 828M603 1044L561 1044M477 920L477 951M309 1013L435 982M435 920L519 920M266 920L266 951M435 1106L477 1044M688 859L519 859M730 951L645 951M182 1137L266 1137M814 920L772 890M856 1044L730 1044M688 1106L603 1106M603 859L688 890M940 982L772 1013M856 951L772 920M814 920L772 920M519 951L519 982M519 1044L435 1013M603 1044L561 982M603 1044L645 1044M561 1044L561 1106M730 1106L814 1106M519 1013L603 982M561 1013L477 951M645 951L772 1013M182 1075L266 1106M266 982L266 1013M351 1044L309 1075M645 951L645 982M266 1137L224 1106M561 982L519 1013M266 951L477 951M898 1106L856 1137M898 1044L814 1013M688 1044L645 1075M435 920L477 859M561 1013L603 982M266 920L266 890M856 920L730 920M393 920L266 920M519 951L435 951M814 1075L856 1075M772 1013L730 982M519 1013L519 1044M393 890L435 890M730 982L814 982M519 1013L561 1044M309 1013L309 982M393 1106L477 1106M351 1137L266 1106M351 920L309 920M603 982L688 951M814 1013L730 982M814 920L940 920M224 1075L182 1075M266 1013L182 1013M519 951L561 982M645 1075L603 1106M645 1106L561 1106M477 890L435 890M351 1044L351 1013M435 890L435 859M688 1044L772 1075M351 1013L393 982M519 1075L435 1044M561 951L645 920M224 982L393 982M224 890L393 890M814 1075L940 1106M856 1075L772 1075M730 1044L645 1044M772 920L645 982M351 1106L309 1137M309 1137L435 1137M477 1044L435 1075M814 1013L772 982M393 982L519 951M435 920L393 951M645 982L603 951M730 951L772 982M688 920L772 920M730 982L772 982M351 1044L224 1044M393 951L519 982M266 1044L266 1013M393 890L519 859M435 951L266 920M309 890L224 890M730 890L645 920M224 951L224 982M266 890L224 890M603 890L603 920M603 951L645 920M519 1044L561 1044M435 1013L477 982M519 1013L435 1013M519 1044L477 1075M645 982L730 982M772 1137L856 1137M224 1075L266 1075M814 920L898 890M603 920L435 828M519 920L645 920M688 920L645 951M224 1044L224 1075M435 1013L351 920M351 1013L393 1013M266 859L182 890M182 859L182 828M309 920L309 951M435 890L435 920M477 1013L435 1075M224 859L266 920M940 982L898 1044M645 951L645 982M940 951L856 982M772 890L730 951M772 920L688 920M561 1013L561 982M772 1106L814 1137M477 1075L351 1044M351 1044L351 1075M772 951L688 951M393 951L351 920M477 1013L477 1106M645 1044L519 1044M266 1137L266 1075M309 859L309 828M435 982L393 1013M309 951L266 982M309 951L351 951M730 1044L688 1013M519 859L561 890M519 890L603 890M309 1075L393 1075M645 951L561 1013M519 951L477 951M393 982L309 1013M224 951L182 920M393 951L435 951M309 982L224 1013M309 920L266 920M266 1044L435 982M688 859L814 859M351 890L435 890M519 1044L561 1044M435 859L393 920M982 1044L982 982M603 982L645 1013M435 1075L477 1075M351 1044L266 982M645 1075L561 1075M182 890L224 890M435 1075L477 1044M477 1013L477 982M772 890L645 859M435 890L393 859M519 1044L519 1075M561 1044L688 1013M603 1075L561 1044M224 1075L266 1075M688 1044L730 1013M772 982L730 1013M309 890L351 859M814 859L856 890M519 890L561 890M477 982L561 982M477 1044L435 1013M519 982L477 982M351 1075L393 1106M730 920L772 920M351 1044L393 1013M730 982L688 1013M519 920L393 951M603 859L561 859M224 951L351 982M477 1013L561 1044M477 951L561 920M898 920L856 951M603 1044L688 1075M477 951L519 859M477 1013L561 982M645 1106L603 1106M1024 1013L982 1044M435 1106L393 1106M435 890L435 859M603 1044L603 1075M351 1013L351 1044M730 1075L730 1137M772 1075L814 1075M688 951L772 951M688 951L477 982M266 951L351 951M351 890L266 982M393 1044L477 982M266 1106L224 1106M477 951L519 890M645 1013L688 1013M266 920L224 920M730 1075L814 1075M603 951L561 951M603 982L645 982M603 920L645 982M351 920L309 890M898 859L898 828M856 1044L814 1013M940 1075L898 1106M688 951L730 920M730 1013L730 982M688 1013L603 1013M393 920L393 951M982 1044L940 1075M730 1013L730 1044M603 890L519 951M645 982L772 951M477 982L603 1013M940 828L856 859M814 1013L898 1013M519 859L561 890M224 1013L309 1013M772 951L688 982M224 982L182 951M393 920L351 920M814 1013L772 1044M772 920L645 890M772 1137L688 1137M519 951L393 890M856 982L772 1013M393 1013L351 1044M603 859L561 890M772 982L898 951M224 828L224 859M772 1106L814 1044M266 1044L182 1013M224 828L266 828M688 951L561 982M814 1044L730 1075M561 951L393 920M730 890L645 920M772 1075L814 1075M435 951L561 890M940 982L856 920M645 890L688 890M856 1044L814 1044M224 982L309 951M435 951L561 951M351 1075L477 1044M477 890L477 920M772 1075L730 1044M393 982L645 982M603 951L688 951M561 951L688 920M603 1044L688 982M603 1013L561 982M309 1106L266 1075M351 951L393 890M814 951L730 951M435 1044L393 1013M772 951L772 982M688 951L645 982M603 951L603 890M309 859L266 859M351 1075L393 1044M645 920L688 982M393 890L561 828M309 1044L266 1075M435 1044L309 1013M435 1044L603 1044M309 982L351 982M519 890L435 920M772 890L772 859M730 951L772 982M266 982L477 982M351 1137L351 1106M561 1075L477 1013M772 1075L814 1106M519 890L519 859M266 1075L393 1075M982 982L898 951M898 1044L856 1044M561 982L645 982M561 1013L477 951M645 890L519 951M224 1013L266 1044M309 951L393 920M688 859L645 920M393 982L309 1013M182 1013L309 1013M435 1013L309 951M435 982L519 982M519 1013L561 1075M603 890L688 890M393 951L309 920M856 1044L814 1044M814 951L772 920M224 1044L309 1013M182 1137L266 1106M603 890L730 890M898 828L856 859M266 890L266 1013M688 1106L645 1075M435 890L561 920M730 982L688 920M435 920L435 951M730 1044L772 1013M898 890L898 920M645 1013L730 1013M688 1075L730 1106M1024 890L982 951M603 1044L477 1075M477 951L561 982M772 982L772 920M519 859L435 890M519 1044L435 1075M1024 1013L982 982M477 1044L519 1044M182 982L182 1013M856 951L940 951M730 1106L814 1137M351 1044L351 1075M351 1013L266 951M603 1075L688 1044M351 1013L266 1013M730 982L688 920M351 951L351 1044M688 1044L688 1013M435 982L435 1013M645 982L730 982M224 890L266 859M561 890L435 890M603 1106L688 1106M224 920L182 920M603 982L603 1044M435 982L351 982M814 951L1024 920M182 890L182 859M182 1044L224 1075M645 951L856 1013M688 1013L814 982M772 951L730 920M266 1075L182 1075M603 982L603 951M266 951L266 982M351 890L266 890M856 1075L730 1075M266 951L309 951M519 890L561 859M266 1013L393 982M814 920L645 890M856 1106L898 1075M182 890L224 890M603 1013L730 1013M730 1075L730 1044M730 890L772 920M814 1075L940 1044M603 951L561 951M477 1044L309 1075M224 982L309 951M772 859L814 890M603 982L730 982M309 1075L393 1075M814 1075L688 1044M898 1075L814 1013M772 951L856 982M266 982L309 982M309 982L309 951M772 920L730 920M688 1044L603 1013M645 982L730 951M393 1075L266 1075M224 982L266 951M477 920L477 951M393 982L351 951M688 982L688 951M730 951L772 920M645 982L688 951M266 1013L266 951M603 920L477 920M435 951L435 920M1024 859L940 890M772 1013L688 982M645 1013L645 982M898 951L1024 890M603 982L561 1013M519 890L603 890M730 982L730 920M730 1075L730 1044M351 951L309 982M393 920L351 890M814 1075L814 1137M435 951L561 920M856 1044L898 1075M393 1013L224 1013M772 1044L645 1075M477 1013L435 1044M645 920L603 951M561 1044L603 1013M814 982L688 982M603 951L561 920M309 1013L351 1075M561 1075L603 1106M561 982L519 982M645 920L730 920M561 1044L603 1075M477 1044L266 1044M477 920L561 920M309 920L351 951M814 1106L814 1137M435 1075L477 1106M393 920L519 920M393 1044L477 1044M603 951L561 1013M772 1106L772 1075M519 1013L561 1075M603 920L603 951M519 951L477 951M772 951L814 982M603 890L688 920M435 920L309 920M519 1075L645 1075M224 920L182 920M561 890L645 859M730 1013L772 1013M435 1075L519 1075M182 890L266 890M982 951L982 920M856 1013L772 982M856 920L856 951M435 1075L561 1044M645 1013L645 1075M645 951L561 920M309 951L182 951M224 1075L266 1075M435 890L393 828M224 1075L224 1106M182 890L351 890M351 982L477 951M688 1013L688 1075M351 1044L351 1013M561 951L519 920M772 982L814 982M435 920L561 951M730 1075L730 1137M730 890L772 920M688 1013L688 982M561 1075L519 1044M603 920L772 982M435 920L351 920M351 859L182 890M435 982L519 982M898 1044L856 1075M266 951L224 982M603 982L688 982M730 982L856 1013M266 920L182 859M351 1013L266 1044M309 1044L266 1075M351 920L351 890M266 1044L266 1075M393 982L351 982M224 951L224 1013M856 982L772 1044M688 859L688 828M730 1044L772 1044M982 828L814 859M435 1044L435 1013M435 890L519 951M814 982L814 920M519 982L645 951M856 951L814 951M603 1044L477 1044M224 890L182 890M645 1075L645 1044M982 828L940 859M561 1044L393 1044M856 890L772 890M224 859L182 859M435 890L435 859M603 951L519 951M561 1075L645 1075M435 982L477 1013M224 1013L266 1044M224 1106L266 1137M266 951L224 982M351 920L477 920M940 859L856 890M435 890L435 859M561 1013L519 982M772 920L730 920M561 859L603 890M772 982L856 982M351 1044L266 1106M351 1044L393 1044M435 1106L309 1106M814 982L772 982M266 920L224 982M561 951L603 951M645 1075L730 1075M856 1013L814 982M730 890L772 951M393 1075L435 1106M688 1075L645 1075M814 1044L856 1075M393 1075L351 1044M730 890L772 890M730 890L772 890M182 1075L224 1075M309 1044L351 1044M309 951L266 951M688 982L688 1044M309 982L351 1013M814 1106L856 1075M645 1106L561 1106M730 920L730 951M351 859L393 859M477 828L603 859M309 1044L266 1044M603 1013L603 1044M477 1106L477 1075M730 859L645 828M645 1013L772 1013M435 1044L393 1044M182 890L266 890M730 982L772 1013M393 951L435 920M603 951L603 920M730 1044L688 1013M603 982L688 982M477 920L519 951M730 982L730 1013M477 1075L393 1075M898 951L772 1013M224 890L266 828M730 920L772 920M603 1013L645 982M772 920L645 920M393 1106L309 1106M772 920L814 920M688 920L730 920M730 1013L814 982M561 1013L645 920M856 828L814 828M603 859L645 859M309 982L393 951M814 1044L772 1075M266 982L309 1044M393 1013L519 951M266 982L309 982M814 920L730 859M477 859L519 859M477 859L393 890M730 890L772 920M814 859L856 890M477 1044L645 1044M561 920L477 951M266 951L266 920M688 890L561 890M730 951L730 920M730 1013L688 1013M477 1044L561 1044M393 920L351 951M351 1044L351 1013M266 890L351 890M435 920L435 890M645 1013L688 1044M266 1075L266 1044M688 1075L688 1044M477 982L561 982M688 951L603 982M772 1044L772 1106M898 982L898 1013M772 890L814 859M477 1044L477 1075M351 1137L224 1137M309 1013L393 982M730 982L772 951M730 1044L814 1044M856 890L982 859M393 920L477 890M393 951L351 951M309 951L435 951M603 859L645 890M519 920L477 920M730 890L688 920M309 1075L266 1044M393 982L351 982M856 1044L772 1044M772 1013L730 1044M730 920L477 920M561 982L603 982M603 951L477 951M393 982L435 951M182 1013L224 1013M561 890L561 859M645 1044L561 1044M309 951L393 982M309 920L477 890M435 920L393 920M603 1044L477 982M435 920L477 951M309 982L224 1013M266 1013L266 982M603 920L561 920M309 920L266 920M182 859L266 920M182 920L224 920M856 1075L814 1075M772 1075L772 1106M393 1075L351 1075M772 920L814 890M814 890L856 828M309 1106L351 1075M730 951L772 951M266 1075L224 1013M266 920L393 920M730 859L814 859M856 951L772 920M351 1013L393 1044M688 920L603 859M351 1075L393 1044M351 920L309 920M561 1075L645 1075M435 920L519 951M730 1106L772 1106M603 951L561 982M603 982L603 920M351 859L309 890M477 1044L477 1075M561 1044L645 1075M435 1044L435 1013M730 890L856 920M561 1044L688 1106M435 1044L393 1075M772 1137L814 1106M898 1106L814 1106M477 920L435 982M266 890L351 890M603 859L645 890M730 1013L772 1013M435 890L435 920M856 920L772 920M266 982L309 1013M266 982L309 982M351 1106L435 1075M856 1137L645 1137M814 1044L856 1044M772 951L814 982M435 1044L561 1013M603 920L561 920M645 859L603 920M688 951L730 1013M645 951L688 982M435 920L477 951M730 1075L519 1044M393 1013L477 1013M730 951L645 1013M477 1013L477 982M266 951L309 951M435 1044L393 1044M603 1075L603 1106M603 1044L688 1013M603 1013L477 1013M688 1106L730 1137M645 890L603 920M224 920L182 920M477 1044L435 982M435 1075L266 1044M603 1013L645 1013M982 1013L898 1044M224 1075L309 1106M814 1044L814 1075M266 890L266 859M772 920L645 920M645 982L603 1013M435 920L603 920M898 982L940 982M814 982L856 1013M814 951L898 920M477 1013L519 1044M309 1013L477 1013M393 1075L351 1013M1024 1013L982 982M856 890L730 920M603 890L730 859M477 982L519 982M224 890L266 920M435 859L477 890M519 951L477 982M309 920L266 920M351 890L351 982M224 1075L182 1106M940 1044L982 1075M393 1044L266 1044M393 920L266 951M393 1075L309 1075M814 890L856 920M477 890L561 859M645 920L603 920M856 982L898 1013M351 982L435 982M351 890L393 951M814 1013L730 1013M561 951L477 920M561 1044L561 1075M645 1013L645 982M898 859L982 859M519 951L603 951M561 1013L688 982M435 920L435 951M688 1013L561 1013M477 920L519 920M435 920L351 920M814 1075L814 1106M435 982L435 1013M898 890L940 890M645 951L603 920M519 1013L561 1013M351 951L309 982M309 1044L351 1013M519 920L688 890M393 1075L519 1075M603 1075L730 1075M519 1075L519 1044M856 1013L772 951M603 1075L688 1044M477 1044L435 1075M266 890L309 890M182 920L182 890M519 1013L645 1013M688 951L688 982M856 1044L856 1075M856 1106L772 1075M309 1106L266 1137M266 1044L309 1044M393 1044L435 1013M309 1044L309 1075M561 1075L645 1106M351 890L182 951M898 828L856 828M772 1075L856 1013M519 982L603 982M224 890L224 920M266 1044L224 1075M519 1013L561 1013M603 982L645 982M224 982L266 951M940 859L940 890M772 920L688 920M645 1044L688 1013M519 982L519 1013M519 920L561 920M309 1013L351 1044M814 982L856 1013M477 951L351 920M645 1044L688 1075M224 920L182 982M814 1137L772 1106M477 859L477 890M561 982L730 982M898 890L856 920M224 951L266 982M688 1075L645 1075M309 859L224 890M519 1013L435 982M224 1013L266 1013M393 1044L309 1013M814 920L814 951M435 951L393 920M688 1106L772 1106M856 982L856 1013M940 890L982 920M309 1075L266 1044M519 951L477 982M351 951L435 982M603 1106L772 1106M603 920L645 920M730 920L772 920M982 1075L940 1106M435 951L393 982M309 951L393 859M645 920L730 951M309 951L309 920M603 890L645 890M603 920L477 890M730 1075L772 1044M898 859L898 828M1024 828L982 859M856 1044L982 1044M814 1075L603 1106M814 828L730 859M561 828L519 859M309 951L351 951M351 1044L266 1044M182 982L224 982M645 982L645 1013M730 951L772 982M688 1075L730 1075M393 1013L477 1013M856 859L898 828M940 1044L940 1075M856 1044L982 1044M351 1013L266 1013M309 1106L266 1044M477 982L435 951M435 1044L393 1013M182 1075L224 1075M603 1075L688 1075M351 1013L393 1044M940 951L982 951M688 920L603 890M435 920L309 920M393 1013L266 982M393 951L435 982M182 982L393 982M266 982L309 982M645 859L603 859M856 982L814 982M603 920L561 982M772 920L856 920M772 1075L772 1137M730 982L772 1013M224 1106L266 1137M772 1013L730 1013M561 982L477 951M645 890L519 859M814 890L772 859M645 1075L519 1044M351 1044L182 1013M730 951L772 920M603 1013L645 982M645 1013L814 982M435 982L393 951M561 920L603 920M477 1013L561 1013M477 1075L393 1075M519 920L393 920M477 951L561 951M688 982L645 951M393 951L435 951M982 1013L1024 1013M645 982L688 982M856 982L898 1013M898 1106L814 1137M519 1013L561 1044M688 982L688 1013M351 890L224 890M561 890L688 920M477 859L519 859M266 1013L182 982M435 1013L266 1013M351 1044L266 1044M688 1013L603 1044M266 828L351 828M645 1013L477 1044M435 859L266 859M730 982L645 982M645 982L561 982M477 1044L519 982M477 1013L561 1044M645 920L772 920M393 1013L477 982M561 1044L393 1013M603 828L645 859M224 1044L182 1013M688 951L688 920M266 1106L309 1137M688 1044L730 1044M309 951L477 982M393 951L351 982M182 982L224 1013M603 859L519 890M730 951L688 951M435 1013L393 1013M561 951L688 951M814 1044L814 982M730 951L603 951M772 890L645 890M477 982L435 982M351 1013L477 951M266 920L309 951M730 1106L814 1137M182 1013L266 982M435 1044L477 1013M814 920L898 890M182 920L224 920M730 1044L688 1013M309 1044L224 1075M435 1044L393 1044M940 890L982 890M393 1044L266 1013M688 920L645 920M645 1044L730 1075M645 1013L688 1044M351 920L309 890M856 1075L898 1044M688 1044L772 1075M224 1013L266 1044M266 890L351 890M856 859L898 890M266 1044L224 1075M688 890L688 920M435 982L519 982M393 951L309 982M898 890L982 982M856 920L898 890M309 859L435 859M603 951L645 890M561 920L435 890M814 1044L814 1075M266 1013L182 982M351 1013L435 1013M772 951L814 982M224 859L224 890M435 951L435 982M393 951L519 982M856 920L772 951M477 890L477 859M477 920L603 951M266 920L309 890M730 1106L814 1137M309 890L393 859M561 1044L645 1075M266 951L309 920M309 1075L309 1106M477 951L519 951M898 859L856 859M519 951L477 982M772 828L730 859M477 982L519 982M898 951L982 920M898 1044L856 1013M519 951L561 951M603 920L688 982M940 1044L940 1013M266 1013L309 951M351 859L224 828M182 859L309 859M519 951L393 982M603 951L645 982M435 1075L435 1013M351 1106L309 1106M645 982L645 951M351 1044L393 1075M519 890L603 920M435 951L351 920M435 920L393 920M182 982L266 1075M519 982L645 982M309 1075L351 1075M730 1075L645 1075M561 951L688 982M814 859L772 828M772 951L772 1013M603 1075L477 1075M645 1013L603 1044M603 982L603 951M309 1106L266 1075M645 1044L603 1044M393 828L477 890M730 982L603 951M856 1106L856 1075M519 982L603 982M351 951L309 890M561 982L477 1013M393 1075L393 1044M856 1013L772 1013M856 951L856 920M435 1044L477 1044M814 1013L898 1044M477 890L435 920M603 1044L603 1075M940 1044L982 1106M730 920L645 859M856 859L898 890M772 1075L814 1075M772 982L814 982M772 920L814 951M393 1075L309 1106M561 982L561 1013M266 982L266 1044M856 982L772 951M309 982L393 951M182 1013L224 1044M603 1075L645 1075M309 951L266 951M603 1044L603 1075M519 1013L645 982M856 1044L688 1075M772 1013L814 1044M435 1013L393 1013M393 982L351 951M266 1075L266 1044M561 859L519 890M477 828L519 859M351 859L309 859M856 951L688 951M435 1044L477 1044M730 920L730 951M898 920L856 920M730 1044L645 1044M519 1075L603 1044M477 1106L435 1044M351 951L182 951M351 1075L477 982M772 951L856 951M561 951L477 951M772 1044L856 1106M688 1137L645 1137M730 920L772 951M435 1044L309 1075M266 1013L266 982M772 1137L688 1137M435 951L477 982M351 1013L393 982M730 1013L814 1013M224 1013L182 1044M856 890L772 920M266 920L309 951M309 951L224 982M730 920L772 920M393 1044L393 1013M224 951L182 951M435 920L477 920M814 982L730 982M856 982L730 982M772 1106L645 1106M435 1044L435 1075M351 982L393 982M309 1013L309 982M393 1106L351 1137M266 951L309 951M435 982L477 982M772 951L730 951M393 1013L266 1013M519 1013L561 1044M435 1106L477 1075M561 982L561 951M940 982L898 982M688 982L688 951M477 1044L561 1013M772 1075L814 1106M856 1013L688 982M645 1013L561 1044M351 890L393 920M730 1137L856 1137M645 951L519 982M519 920L603 920M940 1106L898 1106M730 982L814 1013M393 982L351 951M688 1106L730 1106M772 859L688 890M688 1013L730 982M351 859L351 828M772 1075L730 1075M814 1044L814 1013M351 1044L393 1013M772 951L856 951M645 1106L603 1106M688 1013L645 1075M393 982L266 982M730 859L814 828M772 1013L730 951M645 951L561 982M645 982L688 982M856 920L982 982M772 890L898 859M435 951L519 951M772 1044L730 1075M814 1013L898 1044M730 951L772 920M940 859L898 828M224 890L309 890M730 890L856 920M393 951L393 1044M224 982L224 1013M435 982L393 982M645 890L603 920M688 951L645 920M561 1106L603 1044M772 1075L730 1075M645 1044L688 1044M856 920L772 890M814 1013L772 1044M351 951L309 982M645 1075L561 1106M645 951L688 920M309 1013L351 1013M224 951L182 982M688 1075L814 1044M224 982L182 951M898 920L772 982M561 890L603 890M266 859L266 890M730 1075L814 1075M351 982L266 1013M519 1044L603 1044M814 1013L772 1013M309 1075L224 1044M393 1044L351 1013M603 982L519 982M351 1137L393 1137M435 920L519 982M224 1075L182 1044M856 982L898 982M477 920L519 951M772 890L814 920M856 1044L772 982M603 859L603 920M730 859L772 890M309 951L351 951M266 1013L309 951M730 982L772 982M351 1075L351 1106M603 1013L477 982M309 1013L393 1013M603 920L645 920M393 890L561 890M477 951L351 951M730 982L898 982M814 859L645 890M856 1044L772 982M688 1106L856 1075M393 890L435 920M309 1044L351 1013M393 1075L477 1075M435 920L351 890M603 1075L603 1106M688 1013L730 1013M814 920L688 951M814 1106L856 1137M730 982L772 951M477 1106L435 1106M645 1013L730 951M645 859L688 828M393 1044L351 1075M603 982L688 982M1024 859L1024 828M730 890L561 890M519 982L603 951M772 1075L645 1075M898 982L898 951M519 890L435 920M730 920L730 890M561 1075L603 1013M351 951L309 951M730 890L730 859M561 1013L603 982M266 982L309 1013M603 890L519 859M393 1013L309 1013M224 920L224 951M393 982L351 951M730 890L561 890M898 1013L1024 982M519 828L561 859M688 1013L688 951M603 1044L519 1013M982 828L1024 859M814 982L645 982M645 890L772 890M730 1044L645 1044M266 1075L309 1106M519 982L603 982M224 951L266 982M561 890L519 890M982 859L940 890M645 951L645 920M772 982L814 1013M393 1013L309 1044M814 1075L814 1044M435 828L561 890M224 982L224 1013M561 1075L645 1106M351 951L351 920M730 982L814 1013M688 951L730 951M772 920L856 951M224 1013L351 1075M603 859L772 890M898 890L730 890M435 890L477 890M309 1013L224 1013M772 920L688 920M898 920L940 859M561 890L730 828M519 890L477 890M435 1013L519 1013M266 982L182 951M182 1075L266 1044M309 1013L351 1044M561 1075L561 1044M688 1013L645 982M519 1075L561 1075M1024 951L898 1013M435 982L393 920M856 1044L730 1013M856 1044L898 1044M477 982L519 1013M603 890L519 890M266 1044L309 1044M351 920L519 920M561 920L645 920M182 920L182 890M940 920L1024 920M351 1013L266 1075M898 1013L645 982M393 859L351 859M814 1106L940 1106M224 982L224 1044M688 1013L603 982M814 982L772 951M898 951L940 920M688 890L688 859M814 982L814 1013M645 1013L603 951M266 920L182 890M266 1013L309 1044M688 859L688 920M982 859L1024 890M730 1137L645 1137M309 1075L351 1075M603 1013L645 1044M519 951L519 1013M730 859L772 890M435 1013L519 951M730 1044L688 1075M688 890L772 920M603 920L477 951M519 1075L561 1044M561 982L561 1013M603 951L519 920M519 890L477 920M814 890L730 890M730 1106L856 1106M393 1044L519 1044M898 920L814 890M309 1075L266 1044M519 1075L435 1075M645 1044L688 1075M730 1044L603 1075M688 1044L814 1044M266 890L224 890M393 1044L351 1044M393 890L351 890M393 1013L351 1075M435 1075L435 1106M519 859L645 828M730 982L645 920M603 951L688 982M519 920L519 951M351 982L351 1013M730 951L645 982M393 1075L435 1075M603 890L519 890M856 859L1024 859M645 1013L603 1013M814 1013L856 1013M856 920L772 951M266 951L224 951M519 1013L477 1013M772 1044L645 1013M645 1075L730 1075M688 1044L730 1044M645 1044L561 1075M688 859L645 920M561 920L561 859M435 1044L477 1044M982 920L940 951M814 951L814 982M688 1106L730 1106M645 1075L645 1044M645 1044L519 1044M730 982L772 982M772 951L814 982M224 1013L351 1013M477 1044L603 1044M224 982L309 982M772 890L814 890M266 890L266 859M814 920L856 951M435 828L519 859M856 920L772 920M224 1044L309 1044M224 1013L266 1044M688 1013L645 1044M645 982L603 982M603 920L645 890M603 1044L603 1106M730 1013L730 1044M645 1044L688 1075M603 1044L645 1075M224 1075L266 1075M603 982L645 1013M898 1013L940 1044M309 920L309 951M393 951L351 920M898 1013L814 982M477 890L519 890M1024 982L982 951M940 859L898 859M435 920L393 890M309 951L266 890M772 982L730 982M561 920L645 890M351 1013L393 1013M309 1013L266 1013M309 1106L393 1106M688 1013L645 951M603 1106L688 1075M772 982L814 951M772 890L814 920M519 890L435 920M477 859L519 859M351 1137L351 1106M940 951L856 951M519 1075L477 1044M603 1013L603 982M856 982L814 982M435 920L519 951M393 951L351 920M603 982L561 1013M309 951L224 951M309 890L351 859M814 1044L898 1044M393 1013L435 982M519 890L435 828M435 982L351 982M309 890L224 859M856 1044L856 1075M730 1075L772 1044M814 982L814 1044M730 920L772 982M435 951L561 982M603 1044L561 1044M351 890L309 859M224 920L309 890M898 1137L772 1137M603 920L603 890M730 1075L730 1044M393 1075L266 1075M603 890L561 859M309 951L266 920M772 982L772 1075M477 1106L435 1106M393 1075L393 1106M393 1013L351 1013M561 920L519 920M435 920L519 920M688 951L645 951M393 1013L351 1013M688 982L730 982M435 951L351 920M519 951L519 982M603 920L477 951M309 1075L309 1106M603 1013L603 982M645 890L561 890M814 1013L688 1044M182 982L224 951M856 982L772 982M645 982L603 1044M730 1044L814 1075M561 1044L519 1044M266 1044L266 1013M856 1013L814 1075M772 951L730 982M351 920L309 951M898 1106L772 1075M1024 1013L940 1013M814 1013L982 1044M603 1044L477 982M561 951L603 920M856 859L898 920M519 890L561 890M393 951L309 982M435 1044L477 1013M688 920L561 920M814 1044L772 1075M519 890L603 920M435 1044L519 1044M266 920L224 890M224 920L266 951M519 982L477 951M477 890L519 920M351 1075L266 1075M856 982L940 1013M730 1106L688 1106M266 1044L182 1013M561 1075L603 1106M519 1013L561 982M393 1075L477 1044M435 859L435 828M814 982L940 1013M435 951L477 982M856 920L898 951M856 920L898 951M519 982L477 951M603 951L645 951M772 1013L856 982M688 1013L730 1044M519 951L435 951M730 859L856 890M645 920L603 951M645 920L730 859M730 1013L688 982M898 982L814 982M1024 951L982 982M435 890L519 920M561 1044L477 1075M477 1013L519 1013M393 828L435 859M772 982L814 951M309 1013L351 1044M477 1044L519 1044M519 920L519 890M856 982L940 920M982 859L1024 890M435 1013L561 982M182 1075L224 1106M477 982L477 1013M519 1044L435 1044M266 1075L266 1106M772 982L898 1013M898 982L940 1013M477 859L393 890M603 1013L603 951M688 1013L772 920M393 951L435 951M1024 920L856 951M898 982L814 1013M730 1075L645 1044M856 951L772 920M309 1044L266 1044M730 1013L772 1013M688 982L856 951M856 951L814 951M561 920L477 890M603 1044L519 1044M351 982L351 1013M982 1044L940 1013M477 890L645 951M561 982L603 951M603 890L688 859M814 951L940 890M730 859L688 920M856 1013L730 982M772 859L730 890M730 890L688 890M645 982L688 982M814 890L856 951M645 1044L688 1106M645 1137L730 1137M645 1013L561 1013M772 951L730 920M182 828L224 859M645 1013L561 982" stroke="#000" stroke-opacity="0.7" stroke-width="2.0" fill="none"/>
<path d="M351 1044L266 1075M814 920L772 920M772 982L814 1013M266 920L435 920M645 982L435 1013M182 890L309 920M603 890L561 920M309 890L309 859M898 982L940 982M982 920L898 920M940 1044L982 1075M688 1106L730 1044M309 982L266 982M561 982L603 982M814 982L730 1013M309 1013L309 982M603 1013L603 1044M856 1075L982 1106M477 828L435 859M856 1013L856 982M393 1137L351 1106M224 920L266 920M224 1075L266 1013M603 982L645 951M309 1137L351 1137M477 982L519 982M561 859L603 828M772 1075L814 1044M814 859L772 890M309 1013L266 1013M477 1044L309 1013M688 920L603 982M309 1075L224 1044M603 1013L561 1013M645 1013L814 1013M730 1044L688 1044M224 982L182 982M603 951L519 982M814 1013L814 1044M645 920L730 859M477 1044L477 1075M266 1044L224 1013M645 951L772 982M688 1013L561 1013M688 1044L645 1044M182 951L393 951M982 1013L982 982M645 920L561 920M309 1044L266 1075M772 1044L688 951M224 859L309 890M519 1044L561 1013M730 1013L603 1013M814 1137L898 1106M772 951L772 982M266 1044L266 1013M435 982L435 1013M730 920L772 890M730 951L688 920M688 1013L519 1013M603 1013L645 1013M772 890L645 890M393 890L351 890M477 890L561 920M603 951L645 951M688 890L730 859M645 951L645 920M309 1013L309 1044M309 951L351 920M645 1075L772 1075M688 920L772 951M393 920L435 951M309 920L266 920M309 1013L309 982M435 982L435 951M688 1075L688 1106M645 1075L688 1106M814 1013L730 1013M182 1044L266 1013M435 1013L351 1013M730 982L772 951M477 982L435 951M814 1075L814 982M561 982L477 951M730 1044L772 1044M688 982L772 951M898 1044L856 1106M309 982L351 1013M688 890L772 859M561 951L519 920M477 859L435 890M688 982L688 951M435 890L309 890M266 920L309 920M351 1013L393 982M603 951L561 920M772 1013L730 1044M435 920L477 920M435 1013L393 1044M435 951L435 1044M561 1044L688 1044M309 982L224 982M393 1013L519 1044M814 828L982 859M477 1075L477 1106M224 1075L182 1106M266 920L309 920M603 1044L603 1075M309 951L435 982M182 1137L224 1137M772 1044L688 1075M477 951L393 920M688 1075L561 1044M645 859L519 890M561 920L519 920M814 890L772 920M561 1013L477 1044M772 951L645 982M772 982L856 951M519 890L393 920M645 1044L561 1044M351 982L351 951M730 859L730 890M309 1075L182 1106M856 951L898 890M351 1106L393 1044M351 920L393 951M603 1075L730 1137M688 859L814 828M182 982L266 1013M645 859L688 890M351 920L266 890M477 1075L519 1044M561 1075L561 1013M772 1013L772 982M519 828L519 859M730 1075L814 1106M561 920L603 859M519 828L477 859M435 920L477 920M393 951L309 890M730 951L730 982M814 982L898 982M645 1044L561 1013M224 1044L224 1013M435 1013L477 951M1024 890L982 859M603 1075L730 1013M393 1013L435 1044M730 1106L688 1075M645 982L477 982M645 920L688 920M688 1013L730 1013M393 1106L309 1137M266 982L393 1013M393 859L519 890M351 1137L309 1137M351 1137L393 1106M688 920L814 920M519 920L477 920M730 1137L645 1106M561 1044L603 1044M393 982L435 982M309 1106L224 1044M645 1044L603 1013M351 951L309 982M519 951L477 982M477 920L477 951M477 951L561 920M730 1106L730 1137M772 1013L730 1044M688 951L603 920M730 982L603 951M772 982L730 1013M982 1013L940 1075M856 1044L856 1013M772 828L645 859M772 951L772 982M435 1075L393 1106M477 1013L561 982M393 951L309 920M814 1044L856 1013M561 982L645 982M435 1075L309 1044M309 951L309 982M393 828L309 828M561 1013L435 982M561 951L688 920M393 951L266 1013M898 1075L898 1044M603 1044L519 1013M266 951L309 951M603 1044L561 1075M688 920L730 920M393 1044L351 1106M561 1013L561 982M772 1044L814 1044M645 920L603 1013M351 1075L435 1075M519 859L477 859M561 1075L603 1106M561 1075L645 1075M224 1013L309 1013M309 951L351 920M351 828L435 828M561 890L477 920M561 1075L645 1106M814 920L898 951M224 1013L266 1013M519 890L477 890M519 920L519 951M266 982L435 951M393 951L435 951M730 1013L688 1075M856 1044L898 1044M393 920L309 920M393 920L351 920M772 1013L730 1013M519 1075L561 1044M477 982L351 982M519 859L477 890M519 890L561 920M645 1013L688 1013M393 1013L435 1013M730 951L730 982M351 1013L435 1075M603 920L688 920M351 1137L393 1106M266 1013L224 1044M477 828L393 828M519 982L351 982M266 890L309 859M309 1013L224 1013M603 1044L477 1013M393 920L351 982M266 920L224 890M351 982L435 951M351 982L309 1013M309 890L182 920M309 1013L309 951M266 1013L435 982M603 920L645 920M224 1044L266 1075M940 920L940 890M688 1044L645 1075M730 1106L898 1075M772 1137L688 1106M688 890L603 890M224 1075L266 1106M561 1075L477 1075M561 1075L645 1106M519 1075L561 1013M393 1013L309 1013M645 920L814 890M856 1013L940 1013M519 828L603 890M603 920L519 920M351 859L393 828M688 982L688 1013M309 1137L224 1137M688 890L688 920M393 828L351 828M393 1044L435 1075M603 951L519 951M351 828L309 859M519 1075L393 1075M182 1044L182 1013M688 982L730 951M266 951L182 951M561 828L688 859M603 1013L477 982M182 1013L224 1013M603 890L561 920M393 1013L477 1044M730 1044L688 1044M519 1013L477 1013M309 951L351 920M688 920L688 890M393 1013L393 982M309 920L224 920M940 982L814 951M393 1075L309 1075M351 951L266 982M266 859L309 890M603 920L561 951M561 890L519 890M688 920L645 951M688 1044L730 1075M688 1013L730 982M435 1013L393 1044M561 828L477 828M393 982L351 951M603 920L477 890M730 1013L688 982M182 859L182 890M435 920L519 982M435 1075L477 1075M814 951L730 982M730 1044L772 1044M688 982L772 1013M266 1044L309 1044M645 859L561 828M519 951L645 982M224 828L266 859M266 1075L266 1044M856 951L772 1013M603 920L645 828M477 982L393 982M519 859L561 890M772 890L730 890M393 890L393 982M477 1075L435 1044M519 1013L561 1013M688 1106L688 1075M688 920L772 920M688 1044L603 1075M772 1013L730 982M688 951L561 951M351 1013L393 1044M645 982L730 982M814 951L772 951M435 982L519 982M435 920L393 951M309 920L351 920M224 1075L266 1075M477 982L561 982M351 920L393 920M266 890L309 859M814 1013L856 1044M772 920L688 859M393 982L309 1044M561 1044L603 1044M351 1044L435 1075M393 1075L266 1044M182 920L266 920M645 951L603 890M519 1044L688 1013M688 1075L772 1075M982 1013L940 1013M519 920L603 859M982 890L856 859M688 982L645 951M730 1137L730 1106M519 890L603 890M730 828L730 859M182 982L224 1013M645 1013L688 982M730 951L772 982M393 1044L519 1075M688 1106L730 1044M477 982L435 982M435 1044L519 1044M814 1044L856 951M309 920L266 951M519 982L688 982M351 1106L266 1137M309 828L351 828M561 859L561 890M688 1075L730 1106M772 951L814 982M603 920L477 982M519 920L477 920M435 1013L477 1044M814 890L772 920M351 1075L309 1044M224 1013L309 1013M645 1075L645 1044M266 951L351 951M856 859L814 890M645 890L730 890M351 1013L393 1044M688 1013L730 1044M561 1075L645 1044M351 1044L351 1106M351 951L224 951M730 982L772 982M266 951L351 1013M603 920L645 890M351 1013L351 1075M435 982L477 951M435 890L519 951M393 1044L561 1013M393 1075L519 1075M856 1013L898 1044M224 1044L182 1075M730 982L814 982M561 1044L477 1044M645 890L772 890M940 982L898 920M393 982L309 982M772 1044L856 1013M940 1013L856 982M814 920L730 920M856 982L898 1013M393 890L477 859M688 1013L603 1013M688 982L730 982M898 982L1024 1013M435 982L519 982M645 982L688 982M477 982L477 1013M351 982L266 1013M603 982L519 1013M645 951L730 951M477 1013L561 1075M435 1013L393 1075M435 951L519 920M730 1044L814 1075M561 1044L561 1013M856 920L856 890M688 1013L730 1075M730 1013L688 1013M435 859L477 890M351 1075L309 1106M393 1044L477 1044M730 920L772 890M477 1075L309 1106M730 1044L688 1013M309 1075L266 1075M603 890L603 920M351 982L266 982M772 859L814 890M856 951L856 982M393 1075L477 1044M688 920L645 920M814 1075L814 1106M435 982L435 951M561 1106L730 1044M477 982L519 951M561 920L603 951M435 1013L561 982M561 1044L603 1044M645 1075L561 1075M519 1075L477 1044M772 951L688 920M898 1013L814 1013M645 982L645 1013M266 1075L182 1075M477 859L435 890M393 920L393 890M688 982L645 951M224 859L182 859M477 920L435 951M561 982L688 982M645 982L730 1013M814 1106L730 1044M772 1013L814 1013M182 1013L224 1013M814 920L814 859M393 951L309 1013M477 890L519 890M730 982L772 951M561 1044L435 1075M561 920L519 890M435 951L519 982M940 890L940 920M351 890L224 859M730 982L688 1013M351 982L351 1013M898 1044L1024 1044M351 951L266 951M266 982L351 982M393 890L477 859M519 1013L561 1013M477 951L393 951M603 982L645 982M351 1106L393 1137M477 1044L561 1044M351 1075L309 1106M182 982L309 1013M856 1013L688 1013M772 890L856 920M435 890L393 920M519 1075L603 1044M519 1044L351 1013M224 890L309 859M603 1013L561 1013M393 859L351 890M814 1013L772 1013M477 1013L561 982M856 982L814 982M688 890L730 890M519 982L477 982M393 920L309 951M351 951L309 920M982 1106L814 1106M519 1044L519 982M224 1044L182 1044M688 1013L688 1044M814 1075L856 1044M603 982L519 982M856 1013L940 1013M645 1044L730 1075M393 951L477 951M772 920L603 920M351 1044L224 1075M309 890L266 920M603 982L519 951M730 1044L772 1075M435 951L519 951M477 920L519 890M519 982L561 951M688 920L730 859M266 859L266 890M688 951L730 982M814 1106L730 1075M898 1137L856 1106M730 859L688 890M603 1044L603 1075M266 1013L182 1013M603 982L477 1013M645 1075L688 1044M772 1075L856 1106M772 951L772 982M309 1075L266 1044M814 1044L772 1044M688 1013L645 982M814 859L898 859M940 890L940 920M688 951L772 890M603 890L561 890M645 951L561 982M266 1044L309 1075M477 1075L561 1075M856 951L898 890M351 1013L393 1013M435 951L435 920M351 982L309 982M393 982L351 982M519 982L561 951M603 920L603 890M603 1013L688 1013M603 920L561 920M772 1044L814 1044M730 828L772 859M645 859L603 890M351 890L309 890M351 982L309 951M351 982L477 1044M898 951L940 951M435 951L435 982M393 920L224 890M645 1044L561 1044M688 1075L561 1075M730 982L688 1013M688 951L772 951M730 951L772 982M730 1013L730 1075M688 1075L814 1106M603 982L561 951M688 1106L814 1106M351 890L435 890M519 859L519 920M182 1013L182 982M224 951L182 982M477 1044L477 1013M688 1013L603 951M814 982L856 1013M309 920L266 890M393 1044L393 1075M898 1075L898 1044M393 1044L393 1013M519 1013L561 1044M477 951L519 1013M772 1106L814 1044M393 1044L309 982M561 951L603 951M814 982L772 951M393 1075L477 1044M435 1044L603 1013M898 859L856 859M561 982L603 982M561 890L603 920M814 1106L856 1137M435 920L519 890M1024 859L982 890M645 1013L603 1044M856 1075L730 1075M772 1013L814 1013M477 1013L519 1075M814 951L814 1013M435 859L477 828M393 920L309 951M519 890L266 859M266 982L266 951M561 890L561 920M351 1013L435 1044M393 890L477 890M309 859L266 828M772 1075L856 1106M266 951L224 920M856 951L814 1044M435 1106L477 1106M814 951L772 982M309 1044L351 1075M603 920L561 951M645 890L688 828M772 890L814 890M309 1013L435 1044M266 1106L224 1106M645 859L688 859M772 1013L772 1044M519 920L519 859M266 828L309 828M351 982L309 1013M182 1044L266 1013M477 890L561 859M477 890L435 920M982 890L940 890M266 1075L224 1044M477 859L309 859M645 890L561 859M645 1106L603 1106M561 951L519 920M309 951L351 951M561 1013L688 1075M224 982L182 920M477 951L393 951M603 828L688 890M561 951L435 951M603 982L645 920M814 982L898 982M561 1013L603 1044M561 982L519 1013M435 1075L393 1075M688 1075L561 1044M645 1013L688 982M856 1044L772 1013M435 890L435 920M603 982L603 920M603 982L730 982M477 1044L435 1013M688 1013L730 1044M603 1075L814 1075M688 1013L645 1013M435 890L393 859M561 1075L603 982M309 951L309 890M519 1044L435 1044M393 890L435 859M519 951L519 920M477 1075L477 1044M688 1044L561 1075M940 920L982 859M182 920L182 890M393 1075L393 1106M477 982L435 982M393 1075L393 1106M182 1044L224 1013M435 1013L435 1044M645 920L645 859M688 982L730 982M898 890L940 890M856 982L814 1013M351 1013L266 982M772 1013L688 1013M814 920L772 951M730 1013L730 982M603 920L519 920M940 859L898 890M519 982L519 951M688 828L730 859M814 1075L730 1075M814 951L814 982M351 1044L435 982M730 859L814 890M561 951L645 920M603 890L603 859M603 920L477 951M393 890L309 951M856 982L814 920M814 920L940 890M772 1044L730 1044M856 1075L772 1044M182 920L393 890M309 920L351 951M561 890L519 859M730 1013L688 1044M603 982L519 1013M814 1013L772 1044M182 1044L309 982M603 951L519 951M477 890L477 920M856 982L814 982M435 951L435 890M351 1044L266 1075M645 890L688 890M266 890L393 890M309 920L224 920M309 1044L351 1044M688 920L772 920M266 1013L309 982M519 1013L477 1044M224 982L309 982M603 1075L561 1106M645 1013L688 1044M688 920L645 890M603 1013L561 1044M730 982L772 1013M561 1013L603 982M224 1075L182 1044M856 890L898 920M730 1075L603 1013M603 982L688 982M266 1075L266 1106M730 951L772 920M224 982L266 982M940 1075L982 1075M772 890L645 951M309 1013L224 951M351 951L309 890M435 982L309 1013M519 1013L561 982M477 859L519 828M435 1044L519 1075M351 1013L309 982M519 920L603 920M519 920L477 920M393 982L224 1013M856 951L814 982M393 920L351 920M477 920L393 920M182 920L224 920M477 890L393 890M309 951L351 951M309 982L224 920M182 828L224 859M772 920L856 920M688 828L603 828M435 1013L519 982M309 982L309 951M603 982L688 982M772 1044L772 982M182 1075L224 1106M982 828L982 859M351 982L393 982M266 890L309 859M561 951L519 951M477 982L477 951M519 982L603 920M856 951L898 951M898 890L898 859M266 982L224 982M519 1075L519 1044M898 951L982 982M309 1106L309 1075M393 951L351 982M266 920L309 890M603 1044L477 1044M393 890L351 890M603 982L688 859M266 1013L182 951M561 920L603 890M309 1044L351 1013M856 920L772 951M730 890L772 890M772 951L814 951M561 1013L519 1044M898 828L772 828M603 982L645 982M730 890L730 920M266 1044L351 1044M309 982L224 951M772 1044L772 1075M603 1013L603 1044M519 982L603 951M393 1044L351 1044M266 1075L351 1044M814 890L730 890M561 1013L435 1044M603 1013L561 1013M224 1044L224 1013M603 1044L561 1013M224 1044L224 1013M730 951L603 951M940 1106L940 1044M224 982L182 982M435 859L477 859M814 890L772 890M603 1106L603 1075M898 920L898 982M182 920L266 920M561 920L561 951M393 1044L435 1044M393 890L266 890M393 1075L561 1075M940 920L1024 951M603 859L730 890M266 982L182 982M393 890L266 859M393 920L266 890M730 1137L645 1137M266 1044L309 1044M982 890L940 920M856 828L814 859M309 828L266 828M182 982L224 920M645 890L603 828M645 951L561 951M561 890L561 859M224 1075L309 1075M435 890L477 920M688 1044L730 1044M688 1044L688 1075M645 951L730 1013M351 951L393 1013M940 1044L898 1075M266 951L309 920M898 1013L772 1075M519 890L519 920M309 859L351 890M182 1106L266 1044M182 920L224 920M730 920L688 920M351 951L435 1013M856 951L688 1013M435 1013L393 982M351 1013L351 1044M561 951L477 982M519 890L645 890M856 982L898 982M393 1044L435 1075M393 951L309 1013M477 1013L393 1044M351 920L393 920M309 951L224 982M561 920L603 920M688 1075L561 1044M730 920L688 890M561 1013L603 1075M561 890L561 828M519 920L519 890M477 1013L435 951M645 951L645 982M477 951L309 982M645 1013L688 982M688 828L772 828M645 859L645 828M688 951L645 982M730 982L856 1044M940 982L982 951M435 920L435 890M982 920L898 920M772 1044L772 1013M898 951L856 982M603 951L645 951M645 982L688 1013M351 859L519 859M603 890L561 859M688 982L645 982M561 920L477 920M730 982L814 951M393 1044L477 1013M982 1075L940 1075M266 951L266 982M393 890L393 859M309 951L309 982M561 982L561 1013M519 982L561 951M393 1013L351 1013M477 1044L519 1044M688 982L772 1013M603 982L645 982M561 1044L519 1013M645 1013L645 1044M561 890L603 951M603 951L730 982M309 920L393 890M814 1106L856 1075M561 982L477 982M898 859L940 890M898 951L898 920M561 920L519 920M393 982L351 982M645 1044L561 1013M393 951L435 920M351 951L393 920M645 859L645 890M477 1013L603 1013M561 951L645 951M309 1044L351 1075M772 890L688 890M519 890L561 920M561 1106L730 1106M730 920L772 859M856 920L730 951M645 951L645 982M603 1013L730 982M772 1044L814 1013M477 951L393 951M561 1106L603 1044M435 982L561 982M898 890L940 920M688 1044L645 1013M730 951L645 982M561 1013L645 1075M351 859L393 890M519 951L477 982M982 920L982 890M351 1013L351 1075M603 920L477 859M688 890L730 920M603 1075L645 1044M519 828L393 859M477 1044L393 1044M435 951L309 951M561 890L519 920M603 890L561 890M266 920L393 890M645 890L519 951M519 1075L435 1044M688 1013L772 1075M645 920L561 920M435 982L561 951M351 890L435 951M645 951L477 920M898 859L814 890M477 920L519 920M645 859L688 920M351 890L393 890M730 1013L645 982M561 951L603 890M645 951L561 982M393 1013L309 1044M898 982L898 1013M856 1044L772 1013M561 859L561 890M730 1044L645 1106M645 890L603 859M688 1013L688 1044M477 920L309 951M309 920L309 859M814 1137L856 1106M730 982L772 951M182 1106L182 1075M393 859L351 859M393 951L435 951M814 1013L688 1044M266 1075L351 1075M730 920L688 890M561 1044L603 1044M1024 982L982 1013M603 951L645 920M309 890L351 951M603 951L645 951M898 890L856 920M309 1137L393 1137M477 859L393 859M351 1075L309 1106M940 951L814 920M561 920L645 920M730 982L856 982M940 1013L1024 951M477 951L435 920M561 920L603 920M814 1013L730 982M772 951L814 920M435 1044L393 1013M309 1013L393 1013M772 920L688 920M266 982L309 982M266 982L393 1013M435 982L351 951M940 859L940 828M519 1044L351 1075M266 1137L182 1106M266 859L266 890M730 1044L688 1075M393 1044L435 1013M730 828L688 859M688 859L688 890M856 890L814 920M856 1106L814 1137M645 920L772 951M561 920L603 951M477 890L477 920M772 1044L814 1044M519 1075L603 1075M603 920L519 890M435 951L435 890M519 982L435 982M435 1137L435 1106M561 920L603 951M898 1044L898 982M224 920L224 951M856 951L940 982M477 859L519 890M561 1106L603 1106M266 1044L393 1075M688 1106L603 1106M772 951L898 920M435 1075L435 1044M645 920L730 951M730 951L814 890M351 951L309 920M688 828L688 890M730 1075L730 1013M351 1075L393 1044M393 890L435 890M309 1044L224 1075M309 1013L309 982M393 951L435 920M435 982L393 982M309 920L519 890M351 1075L351 1013M645 920L519 920M772 890L688 859M393 951L351 890M182 1044L224 1075M772 1044L730 1013M814 982L688 951M435 859L309 890M688 920L603 951M688 920L772 890M435 890L477 859M730 1075L730 1013M561 1013L519 1044M519 1075L645 1075M224 1013L224 1075M982 1106L898 1106M351 890L393 890M772 1106L730 1075M688 951L603 982M603 1044L645 1044M561 1013L477 982M645 1106L688 1106M856 1044L814 1044M435 1075L519 1075M266 951L224 951M519 1044L477 1013M645 1075L561 1075M561 982L519 951M351 890L393 920M603 1013L561 1044M224 828L266 890M688 1044L645 1075M519 920L393 982M351 951L266 982M393 920L393 951M351 920L224 920M688 1013L645 1013M477 951L435 982M645 920L688 890M645 1106L772 1075M730 1075L645 1075M393 859L435 890M561 920L435 920M309 920L393 920M351 828L309 828M351 982L309 982M603 920L688 951M224 920L309 890M266 1075L266 1106M477 982L477 951M393 1044L309 1044M477 920L477 982M730 828L688 859M772 1137L645 1137M982 920L940 951M645 890L688 920M519 982L477 982M730 1044L814 1044M351 951L266 982M688 1013L730 1013M477 1013L645 1013M266 1013L224 1013M688 890L772 920M814 982L856 1013M266 1075L224 1044M393 1013L393 982M772 890L898 859M309 890L351 920M898 982L688 982M477 982L393 982M856 951L898 920M224 951L309 951M309 1106L351 1044M393 890L309 920M182 1075L393 1044M730 951L688 951M730 920L688 920M393 982L351 982M435 982L351 982M224 951L182 982M688 1106L772 1106M603 951L519 982M351 1044L309 982M435 982L393 982M477 859L435 890M561 890L477 890M814 1106L856 1075M224 890L182 920M603 920L603 951M688 982L814 982M1024 859L982 859M814 951L898 951M772 1013L688 1013M688 1044L772 1044M477 859L519 890M309 1013L309 982M561 1075L603 1075M561 1075L435 1044M688 982L688 951M351 982L393 951M519 1044L477 1075M351 890L393 890M688 1106L688 1075M814 1013L772 1044M351 1013L266 1044M730 859L688 890M435 951L561 982M688 828L561 828M688 920L772 920M940 920L898 920M772 1137L814 1137M730 890L772 890M561 920L519 890M224 890L182 890M266 1044L351 1013M814 982L688 920M351 1106L351 1075M645 828L603 890M561 920L603 951M645 920L730 920M814 1013L772 1013M309 1013L351 951M351 951L393 982M730 1075L688 1044M814 1013L940 1013M898 982L856 920M351 1106L309 1075M224 920L266 920M435 1013L351 982M772 951L688 920M561 1013L645 982M856 1075L814 1075M561 982L477 1013M266 1013L224 1044M351 982L309 1013M898 920L940 920M351 1013L435 1013M772 1044L730 1106M856 859L898 859M309 1044L435 1013M519 859L435 828M561 1075L519 1075M519 1013L519 951M688 1075L688 1044M730 828L772 859M477 982L603 1013M772 1044L730 1044M645 890L688 920M309 982L266 982M477 951L435 920M477 982L393 951M477 890L435 890M645 920L688 951M519 859L519 890M266 920L351 890M435 1044L477 1044M645 1013L645 1044M561 859L603 859M688 890L730 982M435 859L435 920M603 920L477 951M435 1044L477 1044M603 982L519 982M477 951L688 1013M393 1137L309 1106M224 859L351 890M814 1044L940 1075M688 1075L856 1044M561 828L603 859M856 1044L814 1044M435 1013L266 982M603 982L561 1013M730 920L688 951M266 1013L266 982M645 1044L561 1013M688 1044L645 1013M351 982L351 1013M435 1044L435 982M351 951L309 920M393 1137L309 1075M772 890L856 920M351 890L435 890M603 890L561 890M393 859L351 890M561 1044L603 1075M309 1044L224 1075M1024 1013L898 1013M435 1013L309 982M561 951L688 951M224 920L309 890M351 1044L351 1075M393 920L351 951M730 920L814 951M814 951L688 951M351 982L351 1013M561 1075L603 1106M814 890L856 920M477 1013L561 1013M519 1013L603 951M309 890L309 920M519 1013L603 1013M856 920L898 890M351 890L435 890M435 1044L393 1013M645 1013L730 982M435 1013L477 1044M814 1044L898 1106M561 1075L603 1044M266 1075L309 1075M730 1075L814 1075M730 951L772 951M603 1013L688 1013M898 859L772 859M266 982L309 982M856 951L814 920M519 951L519 982M224 982L266 1013M351 982L519 1044M309 951L393 1013M688 1075L772 1106M393 920L435 951M688 920L772 859M435 920L309 920M224 1075L224 1106M309 1044L224 1013M730 920L645 951M730 1044L772 1044M309 920L182 920M435 1044L519 1044M477 1075L393 1044M772 920L814 920M645 920L645 951M730 1044L856 1044M730 920L814 920M856 1044L814 982M688 951L645 1013M224 1075L309 1106M898 951L772 951M393 1013L477 1013M309 1044L266 1013M477 890L519 920M814 1075L772 1075M519 982L561 982M309 859L266 859M351 890L351 920M688 1075L603 1075M603 1075L688 1075M856 1075L772 1075M688 920L519 920M393 1075L519 1075M519 1044L477 1013M435 951L351 982M561 920L645 890M814 1075L772 1075M772 982L898 951M856 1106L772 1075M266 982L224 1013M393 1075L519 1075M730 982L814 951M477 982L561 982M561 1013L603 1013M435 890L266 920M393 951L266 982M561 951L519 890M772 890L772 920M688 890L645 920M266 982L309 951M772 1075L856 1075M309 1106L351 1137M645 951L688 951M688 920L730 951M393 1044L519 1044M603 920L772 920M393 1044L561 1013M224 951L266 982M730 920L645 982M351 1044L477 1106M772 951L730 951M898 982L898 1044M772 951L730 920M772 1044L730 1044M561 890L519 890M477 920L519 1013M266 951L309 951M351 982L309 1013M645 1137L772 1106M435 1106L393 1106M351 1137L351 1075M224 890L266 890M772 920L688 920M266 1106L393 1106M224 1106L266 1137M435 1137L435 1106M435 890L477 859M309 920L435 951M351 1106L477 1075M645 920L645 859M856 859L814 859M561 982L519 951M730 1044L688 1075M645 920L603 920M730 982L772 982M519 982L519 951M645 920L730 920M477 859L351 828M730 982L772 951M814 1044L688 1044M603 890L603 920M814 1106L898 1075M224 1013L309 1013M982 890L940 859M730 890L688 890M856 951L856 920M351 982L351 951M224 982L393 982M730 951L688 982M393 982L477 982M351 1106L351 1075M730 951L688 982M1024 982L982 1013M266 1013L182 1013M561 1044L477 982M856 859L898 859M898 859L856 890M982 951L940 890M519 890L393 920M1024 859L982 859M224 1075L309 1044M561 1044L519 1075M603 1044L561 1044M772 890L772 920M603 1044L561 1075M645 1106L603 1075M603 1075L561 1106M351 1013L309 1044M645 1044L645 1075M856 1075L772 1044M309 890L351 890M856 982L898 1013M435 1044L561 1013M772 982L645 1013M351 920L477 859M603 1013L645 1044M477 1044L519 1075M561 1044L603 1013M182 951L224 982M772 920L730 828M477 920L393 920M856 1075L772 1013M309 890L393 920M688 1013L645 1044M182 1013L182 982M645 890L730 890M814 920L856 920M772 1013L730 982M561 1075L435 1044M351 1075L266 1106M224 1044L351 1044M351 951L351 920M645 920L519 890M477 982L561 982M266 859L309 859M393 920L477 920M309 951L435 920M309 951L266 920M519 1044L519 1013M309 890L224 951M266 951L309 890M772 890L730 890M224 951L266 1013M393 951L351 951M561 1044L561 1013M772 1075L814 1013M519 982L477 1013M561 1013L645 982M772 982L772 951M561 982L477 890M351 951L351 920M603 951L603 982M561 920L603 951M603 1013L688 1013M688 890L603 890M688 920L772 920M730 982L856 982M309 920L266 951M351 982L309 951M856 1013L898 1044M814 920L688 920M730 982L688 951M309 920L435 982M730 828L772 890M519 951L477 951M856 982L814 951M561 982L645 1013M309 920L393 920M982 982L940 951M266 1044L351 1075M309 982L351 982M856 890L814 920M814 890L730 890M351 982L309 1013M814 920L898 951M730 951L688 982M266 1137L309 1137M561 1013L603 982M266 982L224 982M435 1075L393 1044M224 920L182 920M688 1044L688 1075M266 1013L393 1013M519 1013L477 1013M561 828L603 859M266 1044L182 1044M435 920L393 920M266 1044L224 1075M688 1106L645 1106M309 1013L224 1044M561 1044L435 1075M772 951L772 982M561 890L519 890M688 1044L688 982M224 920L266 920M688 1044L772 1044M814 1106L730 1044M772 890L688 890M730 1013L603 982M266 1106L266 1075M477 982L435 1013M982 859L982 890M772 951L730 920M772 1044L772 1013M898 859L898 828M603 859L688 920M351 920L266 890M435 890L477 920M561 920L519 859M730 920L645 951M814 890L898 920M351 920L309 951M477 890L519 859M730 890L645 920M688 1044L730 1044M351 890L309 859M730 1075L603 1075M898 951L772 951M182 1013L224 1044M603 1106L645 1075M730 1044L814 1044M688 1013L730 951M730 920L688 951M561 1013L603 1044M561 1044L477 1013M393 890L351 951M603 828L519 828M351 951L224 951M603 920L645 890M688 1013L688 1044M772 1013L730 1013M688 982L645 1013M814 1075L730 1044M772 982L772 1013M393 982L477 1013M603 1044L477 982M561 890L519 890M856 982L940 1013M519 1013L477 982M772 1075L814 1044M309 1013L266 1044M730 920L645 951M645 982L730 982M645 890L688 890M814 1106L898 1075M182 951L224 951M688 890L645 890M182 828L182 890M730 890L730 920M477 951L477 982M435 1044L393 1075M730 1044L645 1044M435 982L393 920M772 1075L688 1075M477 1106L393 1075M561 1044L603 1075M856 951L940 920M393 920L309 920M351 1013L393 1075M688 1075L730 1075M224 920L182 951M266 982L224 1013M856 1137L856 1106M519 951L561 951M266 1106L266 1075M772 982L814 1044M435 1044L393 1075M688 1013L645 1013M309 1075L266 1106M393 1013L477 982M393 1044L351 1013M561 1075L561 1044M730 1044L772 1106M435 982L435 951M856 1044L856 1075M561 1075L519 1075M603 951L561 951M603 1075L603 1044M519 1013L435 982M561 920L645 951M603 828L645 859M477 890L393 890M351 1044L182 1044M182 920L266 920M1024 951L940 920M477 1075L435 1106M645 920L645 890M603 920L519 920M772 1075L940 1075M224 920L309 951M688 1013L814 1013M393 951L351 951M435 1137L351 1106M856 982L814 920M435 920L393 951M351 982L266 982M309 920L224 890M519 920L645 951M519 1013L435 1013M351 951L309 982M266 890L309 828M266 1013L393 1044M519 1075L519 1013M266 951L224 890M730 828L772 828M772 1013L772 982M266 890L224 828M561 1044L435 1013M856 1075L730 1075M351 951L393 951M982 1075L940 1106M393 1075L309 1075M730 1013L561 1044M266 859L351 890M266 982L224 951M772 920L688 890M519 951L477 951M266 1013L224 1044M309 1044L266 1013M772 951L730 951M266 1044L182 1106M1024 982L898 982M645 1075L603 1044M519 890L435 920M772 1044L772 1013M519 1075L477 1075M772 920L772 951M645 1044L645 1075M393 890L477 890M351 920L393 920M688 920L645 920M435 1044L435 1013M645 920L561 951M856 1075L814 1137M561 1044L645 1044M266 1013L224 951M309 1013L351 1075M856 951L982 951M688 920L772 951M688 920L603 951M645 951L730 1013M645 1013L561 982M224 982L182 1013M730 1075L645 1075M730 1075L814 1013M982 859L982 828M519 951L393 982M603 951L688 951M772 1075L772 1013M435 982L435 890M224 1044L182 1075M266 859L393 859M477 828L519 828M477 1044L351 1044M603 982L519 1013M477 890L477 920M814 1075L730 1044M519 1013L645 1013M730 1013L772 1044M435 982L477 920M266 1044L477 1013M561 1075L688 1044M519 1075L603 1044M688 859L730 828M730 859L814 890M435 920L561 951M814 920L730 920M351 890L435 890M898 1013L772 982M477 1013L519 982M182 920L224 890M814 1075L898 1106M309 982L266 890M561 951L561 890M351 890L351 859M856 1106L688 1106M477 951L561 920M940 1044L898 1075M435 1137L309 1075M224 890L393 859M688 982L730 982M688 982L730 982M730 920L688 890M645 890L603 890M772 1106L730 1137M519 890L688 859M898 828L898 890M435 920L351 920M688 920L730 951M772 920L1024 920M603 890L561 920M351 1075L393 1106M435 1044L561 1075M351 982L309 951M435 1013L519 982M519 1044L561 1044M351 951L309 951M435 859L393 890M519 1044L435 1013M730 951L772 951M393 1013L309 1013M603 859L772 890M603 1044L435 1044M688 982L603 982M477 1075L435 1106M645 1106L561 1075M519 890L477 951M435 1013L477 1044M435 1013L477 1044M224 1013L224 1075M393 982L393 951M351 920L266 920M435 890L393 920" stroke="#000" stroke-opacity="0.7" stroke-width="2.0" fill="none"/>
<path d="M813.8 858.7L813.8 889.6M855.9 1013.2L855.9 1044.1M813.8 920.5L813.8 951.4M224.4 920.5L266.5 920.5M224.4 982.3L266.5 982.3M561.2 1075.0L561.2 1105.9M687.5 827.8L687.5 858.7M519.1 982.3L519.1 1013.2M687.5 889.6L687.5 920.5M182.3 982.3L182.3 1013.2M771.7 827.8L771.7 858.7M771.7 889.6L771.7 920.5M855.9 951.4L898.0 951.4M434.9 827.8L477.0 827.8M224.4 889.6L224.4 920.5M434.9 889.6L477.0 889.6M729.6 889.6L729.6 920.5M729.6 1013.2L771.7 1013.2M729.6 1075.0L771.7 1075.0M477.0 951.4L477.0 982.3M940.1 951.4L982.2 951.4M813.8 1075.0L855.9 1075.0M519.1 1075.0L561.2 1075.0M687.5 982.3L729.6 982.3M687.5 1044.1L729.6 1044.1M308.6 920.5L308.6 951.4M771.7 920.5L813.8 920.5M603.3 1075.0L645.4 1075.0M308.6 982.3L308.6 1013.2M771.7 982.3L813.8 982.3M729.6 982.3L771.7 982.3M392.8 920.5L392.8 951.4M224.4 1075.0L224.4 1105.9M182.3 889.6L182.3 920.5M392.8 982.3L392.8 1013.2M898.0 951.4L940.1 951.4M645.4 889.6L687.5 889.6M477.0 1044.1L519.1 1044.1M645.4 951.4L687.5 951.4M729.6 1044.1L771.7 1044.1M898.0 889.6L940.1 889.6M982.2 827.8L1024.3 827.8M266.5 889.6L266.5 920.5M266.5 951.4L266.5 982.3M940.1 1013.2L940.1 1044.1M687.5 951.4L729.6 951.4M898.0 1013.2L898.0 1044.1M1024.3 827.8L1024.3 858.7M898.0 1075.0L898.0 1105.9M645.4 1075.0L645.4 1105.9M982.2 1075.0L982.2 1105.9M687.5 1075.0L687.5 1105.9M813.8 827.8L813.8 858.7M182.3 858.7L224.4 858.7M855.9 982.3L855.9 1013.2M813.8 889.6L813.8 920.5M855.9 1044.1L855.9 1075.0M813.8 951.4L813.8 982.3M224.4 951.4L266.5 951.4M224.4 1013.2L266.5 1013.2M771.7 1075.0L771.7 1105.9M940.1 920.5L940.1 951.4M561.2 1044.1L561.2 1075.0M940.1 982.3L940.1 1013.2M645.4 1044.1L645.4 1075.0M645.4 1105.9L645.4 1136.8M224.4 858.7L224.4 889.6M434.9 858.7L477.0 858.7M813.8 982.3L855.9 982.3M813.8 1044.1L855.9 1044.1M434.9 982.3L434.9 1013.2M308.6 951.4L308.6 982.3M771.7 951.4L813.8 951.4M603.3 1105.9L645.4 1105.9M182.3 951.4L182.3 982.3M771.7 1013.2L813.8 1013.2M350.7 858.7L350.7 889.6M392.8 889.6L392.8 920.5M224.4 1044.1L224.4 1075.0M392.8 951.4L392.8 982.3M813.8 1013.2L855.9 1013.2M434.9 1075.0L477.0 1075.0M898.0 982.3L898.0 1013.2M898.0 1044.1L898.0 1075.0M308.6 858.7L350.7 858.7M982.2 982.3L982.2 1013.2M350.7 951.4L392.8 951.4M982.2 1044.1L982.2 1075.0M434.9 1044.1L434.9 1075.0M940.1 858.7L982.2 858.7M392.8 1105.9L434.9 1105.9M392.8 858.7L434.9 858.7M182.3 827.8L224.4 827.8M687.5 1105.9L687.5 1136.8M855.9 951.4L855.9 982.3M771.7 1044.1L771.7 1075.0M266.5 827.8L308.6 827.8M940.1 951.4L940.1 982.3M771.7 1105.9L771.7 1136.8M224.4 1105.9L224.4 1136.8M603.3 1075.0L603.3 1105.9M855.9 1105.9L898.0 1105.9M855.9 858.7L898.0 858.7M855.9 920.5L898.0 920.5M434.9 951.4L434.9 982.3M940.1 1105.9L982.2 1105.9M477.0 858.7L477.0 889.6M898.0 1105.9L940.1 1105.9M350.7 827.8L350.7 858.7M434.9 1105.9L477.0 1105.9M434.9 920.5L477.0 920.5M477.0 1013.2L519.1 1013.2M729.6 1105.9L729.6 1136.8M182.3 1013.2L224.4 1013.2M350.7 920.5L392.8 920.5M182.3 1075.0L224.4 1075.0M982.2 951.4L982.2 982.3M813.8 1105.9L813.8 1136.8M982.2 1013.2L982.2 1044.1M308.6 889.6L350.7 889.6M350.7 982.3L392.8 982.3M308.6 827.8L350.7 827.8M434.9 1013.2L434.9 1044.1M392.8 1013.2L434.9 1013.2M266.5 1013.2L308.6 1013.2M392.8 827.8L434.9 827.8M266.5 1075.0L308.6 1075.0M1024.3 1013.2L1024.3 1044.1M898.0 858.7L940.1 858.7M898.0 920.5L940.1 920.5M519.1 858.7L519.1 889.6M561.2 951.4L561.2 982.3M982.2 858.7L1024.3 858.7M519.1 920.5L519.1 951.4M561.2 1013.2L561.2 1044.1M982.2 920.5L1024.3 920.5M603.3 858.7L603.3 889.6M855.9 827.8L898.0 827.8M855.9 889.6L898.0 889.6M350.7 1013.2L350.7 1044.1M477.0 827.8L477.0 858.7M940.1 827.8L982.2 827.8M477.0 889.6L477.0 920.5M940.1 889.6L982.2 889.6M687.5 858.7L729.6 858.7M519.1 1013.2L561.2 1013.2M687.5 920.5L729.6 920.5M308.6 858.7L308.6 889.6M771.7 858.7L813.8 858.7M561.2 889.6L603.3 889.6M729.6 858.7L771.7 858.7M855.9 1075.0L898.0 1075.0M392.8 858.7L392.8 889.6M477.0 920.5L519.1 920.5M308.6 1075.0L350.7 1075.0M898.0 827.8L940.1 827.8M645.4 827.8L687.5 827.8M477.0 982.3L519.1 982.3M308.6 1136.8L350.7 1136.8M940.1 1075.0L982.2 1075.0M392.8 1075.0L434.9 1075.0M350.7 889.6L392.8 889.6M392.8 1136.8L434.9 1136.8M182.3 1044.1L224.4 1044.1M182.3 1105.9L224.4 1105.9M687.5 827.8L729.6 827.8M266.5 1044.1L308.6 1044.1M266.5 1105.9L308.6 1105.9M645.4 1013.2L645.4 1044.1M729.6 827.8L729.6 858.7M350.7 1075.0L350.7 1105.9M855.9 858.7L855.9 889.6M687.5 1013.2L687.5 1044.1M855.9 920.5L855.9 951.4M224.4 827.8L266.5 827.8M224.4 889.6L266.5 889.6M519.1 827.8L519.1 858.7M940.1 858.7L940.1 889.6M561.2 920.5L561.2 951.4M519.1 889.6L519.1 920.5M561.2 982.3L561.2 1013.2M982.2 889.6L1024.3 889.6M855.9 1136.8L898.0 1136.8M182.3 827.8L182.3 858.7M603.3 827.8L603.3 858.7M645.4 920.5L645.4 951.4M477.0 1075.0L477.0 1105.9M645.4 982.3L645.4 1013.2M603.3 889.6L603.3 920.5M729.6 920.5L771.7 920.5M350.7 1044.1L350.7 1075.0M350.7 1105.9L350.7 1136.8M813.8 858.7L855.9 858.7M813.8 920.5L855.9 920.5M224.4 858.7L266.5 858.7M434.9 920.5L434.9 951.4M561.2 1075.0L603.3 1075.0M519.1 982.3L561.2 982.3M687.5 889.6L729.6 889.6M519.1 1044.1L561.2 1044.1M182.3 1013.2L182.3 1044.1M603.3 920.5L645.4 920.5M308.6 827.8L308.6 858.7M182.3 1075.0L182.3 1105.9M645.4 1075.0L687.5 1075.0M771.7 827.8L813.8 827.8M603.3 982.3L645.4 982.3M603.3 1044.1L645.4 1044.1M645.4 1136.8L687.5 1136.8M771.7 889.6L813.8 889.6M224.4 920.5L224.4 951.4M729.6 889.6L771.7 889.6M392.8 827.8L392.8 858.7M350.7 1136.8L392.8 1136.8M224.4 982.3L224.4 1013.2M308.6 1044.1L350.7 1044.1M477.0 951.4L519.1 951.4M308.6 1105.9L350.7 1105.9M729.6 951.4L771.7 951.4M813.8 827.8L855.9 827.8M940.1 1044.1L982.2 1044.1M813.8 889.6L855.9 889.6M392.8 1044.1L434.9 1044.1M813.8 951.4L855.9 951.4M519.1 951.4L561.2 951.4M898.0 858.7L898.0 889.6M729.6 1013.2L729.6 1044.1M898.0 920.5L898.0 951.4M729.6 1075.0L729.6 1105.9M603.3 951.4L645.4 951.4M982.2 858.7L982.2 889.6M982.2 920.5L982.2 951.4M813.8 1075.0L813.8 1105.9M224.4 1075.0L266.5 1075.0M224.4 1136.8L266.5 1136.8M687.5 982.3L687.5 1013.2M855.9 827.8L855.9 858.7M687.5 1044.1L687.5 1075.0M855.9 889.6L855.9 920.5M308.6 889.6L308.6 920.5M771.7 920.5L771.7 951.4M940.1 827.8L940.1 858.7M771.7 982.3L771.7 1013.2M940.1 889.6L940.1 920.5M645.4 889.6L645.4 920.5M898.0 1075.0L940.1 1075.0M477.0 1044.1L477.0 1075.0M645.4 951.4L645.4 982.3M308.6 951.4L350.7 951.4M687.5 1075.0L729.6 1075.0M687.5 1136.8L729.6 1136.8M308.6 1075.0L308.6 1105.9M434.9 827.8L434.9 858.7M771.7 1075.0L813.8 1075.0M434.9 889.6L434.9 920.5M561.2 1044.1L603.3 1044.1M771.7 1136.8L813.8 1136.8M561.2 1105.9L603.3 1105.9M561.2 858.7L603.3 858.7M392.8 1075.0L392.8 1105.9M182.3 1044.1L182.3 1075.0M645.4 1044.1L687.5 1044.1M603.3 1013.2L645.4 1013.2M645.4 1105.9L687.5 1105.9M182.3 858.7L182.3 889.6M645.4 858.7L687.5 858.7M266.5 1044.1L266.5 1075.0M224.4 951.4L224.4 982.3M266.5 1105.9L266.5 1136.8M1024.3 920.5L1024.3 951.4M1024.3 982.3L1024.3 1013.2M434.9 1044.1L477.0 1044.1M729.6 982.3L729.6 1013.2M898.0 889.6L898.0 920.5M729.6 1044.1L729.6 1075.0M898.0 951.4L898.0 982.3M182.3 951.4L224.4 951.4M855.9 1075.0L855.9 1105.9M982.2 827.8L982.2 858.7M813.8 982.3L813.8 1013.2M350.7 858.7L392.8 858.7M982.2 889.6L982.2 920.5M813.8 1044.1L813.8 1075.0M224.4 1044.1L266.5 1044.1M224.4 1105.9L266.5 1105.9M687.5 951.4L687.5 982.3M182.3 1105.9L182.3 1136.8M1024.3 889.6L1024.3 920.5M771.7 951.4L771.7 982.3M771.7 1013.2L771.7 1044.1M434.9 951.4L477.0 951.4M224.4 1013.2L224.4 1044.1M434.9 1013.2L477.0 1013.2M898.0 982.3L940.1 982.3M729.6 1136.8L771.7 1136.8M898.0 1044.1L940.1 1044.1M982.2 982.3L1024.3 982.3M813.8 1136.8L855.9 1136.8M519.1 1044.1L519.1 1075.0M982.2 1044.1L1024.3 1044.1M434.9 858.7L434.9 889.6M603.3 920.5L603.3 951.4M434.9 1075.0L434.9 1105.9M603.3 982.3L603.3 1013.2M603.3 1044.1L603.3 1075.0M687.5 1105.9L729.6 1105.9M308.6 1044.1L308.6 1075.0M771.7 1044.1L813.8 1044.1M308.6 1105.9L308.6 1136.8M771.7 1105.9L813.8 1105.9M561.2 827.8L603.3 827.8M729.6 1105.9L771.7 1105.9M392.8 1044.1L392.8 1075.0M392.8 1105.9L392.8 1136.8M519.1 951.4L519.1 982.3M982.2 951.4L1024.3 951.4M982.2 1013.2L1024.3 1013.2M266.5 827.8L266.5 858.7M940.1 1075.0L940.1 1105.9M1024.3 951.4L1024.3 982.3M477.0 858.7L519.1 858.7M308.6 1013.2L350.7 1013.2M940.1 1013.2L982.2 1013.2M182.3 920.5L224.4 920.5M350.7 827.8L392.8 827.8M182.3 982.3L224.4 982.3M855.9 1105.9L855.9 1136.8M813.8 1013.2L813.8 1044.1M729.6 951.4L729.6 982.3M266.5 858.7L308.6 858.7M266.5 920.5L308.6 920.5M940.1 1044.1L940.1 1075.0M266.5 982.3L308.6 982.3M350.7 951.4L350.7 982.3M182.3 889.6L224.4 889.6M813.8 1105.9L855.9 1105.9M561.2 858.7L561.2 889.6M855.9 1013.2L898.0 1013.2M434.9 1105.9L434.9 1136.8M603.3 951.4L603.3 982.3M603.3 1013.2L603.3 1044.1M645.4 858.7L645.4 889.6M350.7 920.5L350.7 951.4M350.7 982.3L350.7 1013.2M392.8 1013.2L392.8 1044.1M519.1 858.7L561.2 858.7M561.2 951.4L603.3 951.4M519.1 920.5L561.2 920.5M561.2 1013.2L603.3 1013.2M603.3 858.7L645.4 858.7M645.4 1013.2L687.5 1013.2M898.0 1105.9L898.0 1136.8M308.6 920.5L350.7 920.5M729.6 827.8L771.7 827.8M350.7 1013.2L392.8 1013.2M477.0 827.8L519.1 827.8M308.6 982.3L350.7 982.3M350.7 1075.0L392.8 1075.0M477.0 889.6L519.1 889.6M940.1 920.5L982.2 920.5M392.8 920.5L434.9 920.5M392.8 982.3L434.9 982.3M519.1 827.8L561.2 827.8M519.1 889.6L561.2 889.6M266.5 889.6L308.6 889.6M266.5 951.4L308.6 951.4M477.0 1013.2L477.0 1044.1M898.0 1013.2L940.1 1013.2M687.5 858.7L687.5 889.6M519.1 1013.2L519.1 1044.1M266.5 1013.2L266.5 1044.1M687.5 920.5L687.5 951.4M266.5 1075.0L266.5 1105.9M771.7 858.7L771.7 889.6M561.2 827.8L561.2 858.7M855.9 982.3L898.0 982.3M561.2 889.6L561.2 920.5M855.9 1044.1L898.0 1044.1M477.0 920.5L477.0 951.4M645.4 827.8L645.4 858.7M477.0 982.3L477.0 1013.2M940.1 982.3L982.2 982.3M350.7 889.6L350.7 920.5M687.5 1013.2L729.6 1013.2M308.6 1013.2L308.6 1044.1M561.2 920.5L603.3 920.5M561.2 982.3L603.3 982.3M182.3 920.5L182.3 951.4M645.4 920.5L687.5 920.5M477.0 1075.0L519.1 1075.0M434.9 982.3L477.0 982.3M645.4 982.3L687.5 982.3M603.3 889.6L645.4 889.6M603.3 827.8L645.4 827.8M266.5 858.7L266.5 889.6M224.4 827.8L224.4 858.7M182.3 1136.8L224.4 1136.8M266.5 920.5L266.5 951.4M266.5 982.3L266.5 1013.2M350.7 1044.1L392.8 1044.1M350.7 1105.9L392.8 1105.9M392.8 889.6L434.9 889.6M266.5 1136.8L308.6 1136.8M392.8 951.4L434.9 951.4M1024.3 858.7L1024.3 889.6M729.6 858.7L729.6 889.6M729.6 920.5L729.6 951.4M898.0 827.8L898.0 858.7" stroke="#000" stroke-width="2.4" fill="none" stroke-linecap="square"/>
<g fill="#000">
<path d="M186 24L261.5 42M165.7 814.6L181.4 827M476.9 1074.6L535 1098L603.3 1074.6M476.9 1074.6L540 1102L603 1085" stroke="#000" stroke-width="2" fill="none"/>
<rect x="153" y="23" width="15.0" height="21.0" fill="#eefafa"/><text transform="matrix(0.191729 0 0 0.167878 153.23 39.80)" font-size="100" font-weight="normal" >B</text>
<rect x="545" y="171.3" width="16.0" height="26.7" fill="#eefafa"/><text transform="matrix(0.200738 0 0 0.213445 545.27 192.66)" font-size="100" font-weight="normal" >E</text>
<rect x="403.6" y="580" width="17.4" height="28.4" fill="#eefafa"/><text transform="matrix(0 -0.320301 0.189680 0 418.39 603.93)" font-size="100" font-weight="normal" >B</text>
<rect x="577.5" y="714.5" width="16.6" height="27.8" fill="#eefafa"/><text transform="matrix(0.208266 0 0 0.222238 577.78 736.74)" font-size="100" font-weight="normal" >E</text>
<rect x="153" y="804" width="12.3" height="24.1" fill="#eefafa"/><text transform="matrix(0 -0.271805 0.134084 0 163.46 824.30)" font-size="100" font-weight="normal" >B</text>
<rect x="194.9" y="836.9" width="16.1" height="25.2" fill="#eefafa"/><text transform="matrix(0.201993 0 0 0.201453 195.18 857.06)" font-size="100" font-weight="normal" >E</text>
</g>
<g stroke="#000" fill="none"><line x1="126.5" y1="1327.7" x2="126.5" y2="1689.6" stroke-width="3.2" stroke-linecap="butt"/><line x1="114.6" y1="1688.0" x2="664.7" y2="1688.0" stroke-width="3.2" stroke-linecap="butt"/><line x1="114.6" y1="1688.0" x2="126.5" y2="1688.0" stroke-width="3.2" stroke-linecap="butt"/><line x1="114.6" y1="1616.3" x2="126.5" y2="1616.3" stroke-width="3.2" stroke-linecap="butt"/><line x1="114.6" y1="1544.5" x2="126.5" y2="1544.5" stroke-width="3.2" stroke-linecap="butt"/><line x1="114.6" y1="1472.8" x2="126.5" y2="1472.8" stroke-width="3.2" stroke-linecap="butt"/><line x1="114.6" y1="1401.0" x2="126.5" y2="1401.0" stroke-width="3.2" stroke-linecap="butt"/><line x1="114.6" y1="1329.3" x2="126.5" y2="1329.3" stroke-width="3.2" stroke-linecap="butt"/><line x1="215.8" y1="1688.0" x2="215.8" y2="1699.4" stroke-width="3.2" stroke-linecap="butt"/><line x1="394.8" y1="1688.0" x2="394.8" y2="1699.4" stroke-width="3.2" stroke-linecap="butt"/><line x1="573.9" y1="1688.0" x2="573.9" y2="1699.4" stroke-width="3.2" stroke-linecap="butt"/><line x1="328.5" y1="1742.3" x2="655.0" y2="1742.3" stroke-width="2.3" stroke-linecap="butt"/><line x1="395.4" y1="1333.5" x2="570.0" y2="1333.5" stroke-width="4.5" stroke-linecap="butt"/><line x1="156.2" y1="1456.2" x2="274.9" y2="1456.2" stroke-width="4.0" stroke-linecap="round"/><line x1="215.8" y1="1433.9" x2="215.8" y2="1478.4" stroke-width="5.2" stroke-linecap="butt"/><line x1="186.0" y1="1433.9" x2="245.5" y2="1433.9" stroke-width="5.2" stroke-linecap="round"/><line x1="186.0" y1="1478.4" x2="245.5" y2="1478.4" stroke-width="5.2" stroke-linecap="round"/><line x1="335.3" y1="1496.9" x2="454.7" y2="1496.9" stroke-width="4.0" stroke-linecap="round"/><line x1="394.9" y1="1473.3" x2="394.9" y2="1520.4" stroke-width="5.2" stroke-linecap="butt"/><line x1="365.1" y1="1473.3" x2="424.9" y2="1473.3" stroke-width="5.2" stroke-linecap="round"/><line x1="365.1" y1="1520.4" x2="424.9" y2="1520.4" stroke-width="5.2" stroke-linecap="round"/><line x1="514.6" y1="1389.8" x2="633.7" y2="1389.8" stroke-width="4.0" stroke-linecap="round"/><line x1="573.9" y1="1376.0" x2="573.9" y2="1403.2" stroke-width="5.2" stroke-linecap="butt"/><line x1="543.9" y1="1376.0" x2="603.9" y2="1376.0" stroke-width="5.2" stroke-linecap="round"/><line x1="543.9" y1="1403.2" x2="603.9" y2="1403.2" stroke-width="5.2" stroke-linecap="round"/></g><g fill="#000"><circle cx="216.0" cy="1404.0" r="7.9"/><circle cx="216.0" cy="1439.5" r="7.9"/><circle cx="216.0" cy="1473.0" r="7.9"/><circle cx="216.0" cy="1508.1" r="7.9"/><rect x="387.1" y="1433.6" width="15.8" height="15.8"/><rect x="387.1" y="1468.7" width="15.8" height="15.8"/><rect x="387.1" y="1512.0" width="15.8" height="15.8"/><rect x="387.1" y="1541.3" width="15.8" height="15.8"/><polygon points="552.6,1368.5 560.9,1384.1 544.4,1384.1"/><polygon points="574.2,1375.7 582.5,1391.3 566.0,1391.3"/><polygon points="595.5,1360.4 603.8,1376.0 587.2,1376.0"/><polygon points="574.2,1421.1 582.5,1436.8 566.0,1436.8"/><text transform="matrix(0.674426 0 0 0.710756 0.54 1278.90)" font-size="100" font-weight="bold" >B</text><text transform="matrix(0.258000 0 0 0.276000 98.71 1697.63)" font-size="100" font-weight="bold" >0</text><text transform="matrix(0.258000 0 0 0.276000 70.02 1625.89)" font-size="100" font-weight="bold" >500</text><text transform="matrix(0.258000 0 0 0.276000 55.68 1554.15)" font-size="100" font-weight="bold" >1000</text><text transform="matrix(0.258000 0 0 0.276000 55.68 1482.41)" font-size="100" font-weight="bold" >1500</text><text transform="matrix(0.258000 0 0 0.276000 55.68 1410.67)" font-size="100" font-weight="bold" >2000</text><text transform="matrix(0.258000 0 0 0.276000 55.68 1338.93)" font-size="100" font-weight="bold" >2500</text><text transform="matrix(0.271473 0 0 0.267000 174.68 1725.00)" font-size="100" font-weight="bold" >No CP</text><text transform="matrix(0.275341 0 0 0.267000 342.67 1725.00)" font-size="100" font-weight="bold" >Control</text><text transform="matrix(0.275905 0 0 0.267000 495.10 1725.00)" font-size="100" font-weight="bold" >Soy-Tomato</text><text transform="matrix(0.340237 0 0 0.345000 467.96 1781.90)" font-size="100" font-weight="normal" >Diet</text><text transform="matrix(0.545455 0 0 0.553763 474.74 1334.00)" font-size="100" font-weight="bold" >*</text><text transform="matrix(0 -0.292889 0.245445 0 33.09 1677.35)" font-size="100" font-weight="bold" style="white-space:pre">Stereotyped Movements</text></g>
<g stroke="#000" fill="none"><line x1="805.6" y1="1327.4" x2="805.6" y2="1688.1" stroke-width="3.2" stroke-linecap="butt"/><line x1="794.0" y1="1686.5" x2="1344.3" y2="1686.5" stroke-width="3.2" stroke-linecap="butt"/><line x1="794.0" y1="1686.5" x2="805.6" y2="1686.5" stroke-width="3.2" stroke-linecap="butt"/><line x1="794.0" y1="1567.3" x2="805.6" y2="1567.3" stroke-width="3.2" stroke-linecap="butt"/><line x1="794.0" y1="1448.2" x2="805.6" y2="1448.2" stroke-width="3.2" stroke-linecap="butt"/><line x1="794.0" y1="1329.0" x2="805.6" y2="1329.0" stroke-width="3.2" stroke-linecap="butt"/><line x1="894.5" y1="1686.5" x2="894.5" y2="1698.0" stroke-width="3.2" stroke-linecap="butt"/><line x1="1074.0" y1="1686.5" x2="1074.0" y2="1698.0" stroke-width="3.2" stroke-linecap="butt"/><line x1="1253.6" y1="1686.5" x2="1253.6" y2="1698.0" stroke-width="3.2" stroke-linecap="butt"/><line x1="1029.0" y1="1742.3" x2="1355.3" y2="1742.3" stroke-width="2.3" stroke-linecap="butt"/><line x1="1074.8" y1="1339.0" x2="1250.0" y2="1339.0" stroke-width="4.5" stroke-linecap="butt"/><line x1="836.0" y1="1390.3" x2="954.0" y2="1390.3" stroke-width="4.0" stroke-linecap="round"/><line x1="894.5" y1="1373.0" x2="894.5" y2="1406.7" stroke-width="5.2" stroke-linecap="butt"/><line x1="865.6" y1="1373.0" x2="924.4" y2="1373.0" stroke-width="5.2" stroke-linecap="round"/><line x1="865.6" y1="1406.7" x2="924.4" y2="1406.7" stroke-width="5.2" stroke-linecap="round"/><line x1="1015.7" y1="1467.3" x2="1133.4" y2="1467.3" stroke-width="4.0" stroke-linecap="round"/><line x1="1074.0" y1="1445.8" x2="1074.0" y2="1488.8" stroke-width="5.2" stroke-linecap="butt"/><line x1="1045.4" y1="1445.8" x2="1103.3" y2="1445.8" stroke-width="5.2" stroke-linecap="round"/><line x1="1045.4" y1="1488.8" x2="1103.3" y2="1488.8" stroke-width="5.2" stroke-linecap="round"/><line x1="1194.4" y1="1390.3" x2="1312.0" y2="1390.3" stroke-width="4.0" stroke-linecap="round"/><line x1="1254.0" y1="1384.0" x2="1254.0" y2="1395.5" stroke-width="5.2" stroke-linecap="butt"/><line x1="1224.6" y1="1384.0" x2="1281.4" y2="1384.0" stroke-width="5.2" stroke-linecap="round"/><line x1="1224.6" y1="1395.5" x2="1281.4" y2="1395.5" stroke-width="5.2" stroke-linecap="round"/></g><g fill="#000"><circle cx="885.3" cy="1366.8" r="7.9"/><circle cx="906.4" cy="1360.4" r="7.9"/><circle cx="895.3" cy="1400.3" r="7.9"/><circle cx="895.3" cy="1433.4" r="7.9"/><rect x="1066.1" y="1414.1" width="15.8" height="15.8"/><rect x="1055.7" y="1450.1" width="15.8" height="15.8"/><rect x="1076.8" y="1453.4" width="15.8" height="15.8"/><rect x="1066.1" y="1518.4" width="15.8" height="15.8"/><polygon points="1231.0,1379.7 1239.2,1395.3 1222.8,1395.3"/><polygon points="1254.0,1371.0 1262.2,1386.6 1245.8,1386.6"/><polygon points="1266.0,1379.7 1274.2,1395.3 1257.8,1395.3"/><polygon points="1254.0,1395.7 1262.2,1411.3 1245.8,1411.3"/><text transform="matrix(0.669725 0 0 0.621469 639.25 1279.38)" font-size="100" font-weight="bold" >C</text><text transform="matrix(0.258000 0 0 0.276000 778.11 1696.13)" font-size="100" font-weight="bold" >0</text><text transform="matrix(0.258000 0 0 0.276000 720.71 1576.97)" font-size="100" font-weight="bold" >10000</text><text transform="matrix(0.258000 0 0 0.276000 720.71 1457.80)" font-size="100" font-weight="bold" >20000</text><text transform="matrix(0.258000 0 0 0.276000 720.71 1338.63)" font-size="100" font-weight="bold" >30000</text><text transform="matrix(0.271473 0 0 0.267000 853.38 1723.00)" font-size="100" font-weight="bold" >No CP</text><text transform="matrix(0.275341 0 0 0.267000 1021.87 1723.00)" font-size="100" font-weight="bold" >Control</text><text transform="matrix(0.275905 0 0 0.267000 1174.80 1723.00)" font-size="100" font-weight="bold" >Soy-Tomato</text><text transform="matrix(0.340237 0 0 0.345000 1166.96 1781.60)" font-size="100" font-weight="normal" >Diet</text><text transform="matrix(0.545455 0 0 0.556452 1155.04 1341.28)" font-size="100" font-weight="bold" >*</text><text transform="matrix(0 -0.292940 0.312321 0 703.49 1668.66)" font-size="100" font-weight="bold" style="white-space:pre">Locomotor Movements</text></g>
<g stroke="#000" fill="none"><line x1="1471.0" y1="1319.1" x2="1471.0" y2="1680.2" stroke-width="3.2" stroke-linecap="butt"/><line x1="1459.0" y1="1678.6" x2="2009.0" y2="1678.6" stroke-width="3.2" stroke-linecap="butt"/><line x1="1459.0" y1="1678.6" x2="1471.0" y2="1678.6" stroke-width="3.2" stroke-linecap="butt"/><line x1="1459.0" y1="1589.1" x2="1471.0" y2="1589.1" stroke-width="3.2" stroke-linecap="butt"/><line x1="1459.0" y1="1499.7" x2="1471.0" y2="1499.7" stroke-width="3.2" stroke-linecap="butt"/><line x1="1459.0" y1="1410.2" x2="1471.0" y2="1410.2" stroke-width="3.2" stroke-linecap="butt"/><line x1="1459.0" y1="1320.7" x2="1471.0" y2="1320.7" stroke-width="3.2" stroke-linecap="butt"/><line x1="1559.6" y1="1678.6" x2="1559.6" y2="1689.0" stroke-width="3.2" stroke-linecap="butt"/><line x1="1739.4" y1="1678.6" x2="1739.4" y2="1689.0" stroke-width="3.2" stroke-linecap="butt"/><line x1="1918.3" y1="1678.6" x2="1918.3" y2="1689.0" stroke-width="3.2" stroke-linecap="butt"/><line x1="1674.0" y1="1738.0" x2="2001.0" y2="1738.0" stroke-width="2.3" stroke-linecap="butt"/><line x1="1727.4" y1="1383.8" x2="1902.4" y2="1383.8" stroke-width="4.5" stroke-linecap="butt"/><line x1="1501.0" y1="1441.7" x2="1619.5" y2="1441.7" stroke-width="4.0" stroke-linecap="round"/><line x1="1560.4" y1="1427.7" x2="1560.4" y2="1455.7" stroke-width="5.2" stroke-linecap="butt"/><line x1="1531.1" y1="1427.7" x2="1589.8" y2="1427.7" stroke-width="5.2" stroke-linecap="round"/><line x1="1531.1" y1="1455.7" x2="1589.8" y2="1455.7" stroke-width="5.2" stroke-linecap="round"/><line x1="1680.3" y1="1502.0" x2="1798.0" y2="1502.0" stroke-width="4.0" stroke-linecap="round"/><line x1="1739.4" y1="1484.4" x2="1739.4" y2="1518.8" stroke-width="5.2" stroke-linecap="butt"/><line x1="1710.0" y1="1484.4" x2="1768.7" y2="1484.4" stroke-width="5.2" stroke-linecap="round"/><line x1="1710.0" y1="1518.8" x2="1768.7" y2="1518.8" stroke-width="5.2" stroke-linecap="round"/><line x1="1859.2" y1="1437.7" x2="1977.0" y2="1437.7" stroke-width="4.0" stroke-linecap="round"/><line x1="1918.3" y1="1432.5" x2="1918.3" y2="1442.5" stroke-width="5.2" stroke-linecap="butt"/><line x1="1889.6" y1="1432.5" x2="1946.4" y2="1432.5" stroke-width="5.2" stroke-linecap="round"/><line x1="1889.6" y1="1442.5" x2="1946.4" y2="1442.5" stroke-width="5.2" stroke-linecap="round"/></g><g fill="#000"><circle cx="1549.6" cy="1419.7" r="7.9"/><circle cx="1570.8" cy="1417.3" r="7.9"/><circle cx="1560.4" cy="1449.7" r="7.9"/><circle cx="1560.4" cy="1477.6" r="7.9"/><rect x="1731.5" y="1457.0" width="15.8" height="15.8"/><rect x="1720.7" y="1488.9" width="15.8" height="15.8"/><rect x="1742.1" y="1490.5" width="15.8" height="15.8"/><rect x="1731.5" y="1540.4" width="15.8" height="15.8"/><polygon points="1899.0,1425.9 1907.2,1441.5 1890.8,1441.5"/><polygon points="1918.3,1419.9 1926.5,1435.5 1910.0,1435.5"/><polygon points="1935.0,1427.9 1943.2,1443.5 1926.8,1443.5"/><polygon points="1918.3,1443.9 1926.5,1459.5 1910.0,1459.5"/><text transform="matrix(0.701468 0 0 0.620640 1310.30 1280.70)" font-size="100" font-weight="bold" >D</text><text transform="matrix(0.258000 0 0 0.276000 1443.11 1688.23)" font-size="100" font-weight="bold" >0</text><text transform="matrix(0.258000 0 0 0.276000 1385.71 1598.76)" font-size="100" font-weight="bold" >10000</text><text transform="matrix(0.258000 0 0 0.276000 1385.71 1509.28)" font-size="100" font-weight="bold" >20000</text><text transform="matrix(0.258000 0 0 0.276000 1385.71 1419.81)" font-size="100" font-weight="bold" >30000</text><text transform="matrix(0.258000 0 0 0.276000 1385.71 1330.33)" font-size="100" font-weight="bold" >40000</text><text transform="matrix(0.271473 0 0 0.267000 1518.48 1715.30)" font-size="100" font-weight="bold" >No CP</text><text transform="matrix(0.275341 0 0 0.267000 1687.27 1715.30)" font-size="100" font-weight="bold" >Control</text><text transform="matrix(0.275905 0 0 0.267000 1839.50 1715.30)" font-size="100" font-weight="bold" >Soy-Tomato</text><text transform="matrix(0.340237 0 0 0.345000 1813.46 1776.40)" font-size="100" font-weight="normal" >Diet</text><text transform="matrix(0.545455 0 0 0.572581 1806.34 1385.89)" font-size="100" font-weight="bold" >*</text><text transform="matrix(0 -0.295225 0.267953 0 1366.43 1593.82)" font-size="100" font-weight="bold" style="white-space:pre">Total  Activity</text></g>
<g stroke="#000" fill="none"><line x1="114.6" y1="1871.5" x2="114.6" y2="2233.1" stroke-width="3.2" stroke-linecap="butt"/><line x1="104.0" y1="2231.5" x2="653.3" y2="2231.5" stroke-width="3.2" stroke-linecap="butt"/><line x1="104.0" y1="2231.5" x2="114.6" y2="2231.5" stroke-width="3.2" stroke-linecap="butt"/><line x1="104.0" y1="2141.9" x2="114.6" y2="2141.9" stroke-width="3.2" stroke-linecap="butt"/><line x1="104.0" y1="2052.3" x2="114.6" y2="2052.3" stroke-width="3.2" stroke-linecap="butt"/><line x1="104.0" y1="1962.7" x2="114.6" y2="1962.7" stroke-width="3.2" stroke-linecap="butt"/><line x1="104.0" y1="1873.1" x2="114.6" y2="1873.1" stroke-width="3.2" stroke-linecap="butt"/><line x1="204.4" y1="2231.5" x2="204.4" y2="2240.7" stroke-width="3.2" stroke-linecap="butt"/><line x1="383.2" y1="2231.5" x2="383.2" y2="2240.7" stroke-width="3.2" stroke-linecap="butt"/><line x1="561.6" y1="2231.5" x2="561.6" y2="2240.7" stroke-width="3.2" stroke-linecap="butt"/><line x1="328.5" y1="2290.3" x2="655.2" y2="2290.3" stroke-width="2.3" stroke-linecap="butt"/><line x1="387.8" y1="1921.0" x2="562.3" y2="1921.0" stroke-width="4.5" stroke-linecap="butt"/><line x1="146.0" y1="2069.9" x2="262.7" y2="2069.9" stroke-width="4.0" stroke-linecap="round"/><line x1="204.4" y1="2050.8" x2="204.4" y2="2089.8" stroke-width="5.2" stroke-linecap="butt"/><line x1="175.6" y1="2050.8" x2="233.4" y2="2050.8" stroke-width="5.2" stroke-linecap="round"/><line x1="175.6" y1="2089.8" x2="233.4" y2="2089.8" stroke-width="5.2" stroke-linecap="round"/><line x1="324.8" y1="2000.0" x2="442.3" y2="2000.0" stroke-width="4.0" stroke-linecap="round"/><line x1="383.2" y1="1979.0" x2="383.2" y2="2021.0" stroke-width="5.2" stroke-linecap="butt"/><line x1="354.8" y1="1979.0" x2="412.7" y2="1979.0" stroke-width="5.2" stroke-linecap="round"/><line x1="354.8" y1="2021.0" x2="412.7" y2="2021.0" stroke-width="5.2" stroke-linecap="round"/><line x1="504.4" y1="2103.1" x2="621.5" y2="2103.1" stroke-width="4.0" stroke-linecap="round"/><line x1="561.6" y1="2091.0" x2="561.6" y2="2115.0" stroke-width="5.2" stroke-linecap="butt"/><line x1="533.6" y1="2091.0" x2="591.4" y2="2091.0" stroke-width="5.2" stroke-linecap="round"/><line x1="533.6" y1="2115.0" x2="591.4" y2="2115.0" stroke-width="5.2" stroke-linecap="round"/></g><g fill="#000"><circle cx="204.4" cy="2025.2" r="7.9"/><circle cx="204.4" cy="2050.8" r="7.9"/><circle cx="204.4" cy="2090.0" r="7.9"/><circle cx="204.4" cy="2112.7" r="7.9"/><rect x="364.6" y="1958.1" width="15.8" height="15.8"/><rect x="386.4" y="1958.1" width="15.8" height="15.8"/><rect x="375.3" y="2010.4" width="15.8" height="15.8"/><rect x="375.3" y="2043.7" width="15.8" height="15.8"/><polygon points="562.3,2065.8 570.5,2081.5 554.0,2081.5"/><polygon points="562.3,2090.7 570.5,2106.3 554.0,2106.3"/><polygon points="573.0,2109.8 581.2,2125.4 564.8,2125.4"/><polygon points="552.0,2120.5 560.2,2136.2 543.8,2136.2"/><text transform="matrix(0.702317 0 0 0.665698 3.69 1829.20)" font-size="100" font-weight="bold" >E</text><text transform="matrix(0.258000 0 0 0.276000 73.77 2241.13)" font-size="100" font-weight="bold" >50</text><text transform="matrix(0.258000 0 0 0.276000 73.77 2151.53)" font-size="100" font-weight="bold" >60</text><text transform="matrix(0.258000 0 0 0.276000 73.77 2061.93)" font-size="100" font-weight="bold" >70</text><text transform="matrix(0.258000 0 0 0.276000 73.77 1972.33)" font-size="100" font-weight="bold" >80</text><text transform="matrix(0.258000 0 0 0.276000 73.77 1882.73)" font-size="100" font-weight="bold" >90</text><text transform="matrix(0.271473 0 0 0.267000 163.28 2268.60)" font-size="100" font-weight="bold" >No CP</text><text transform="matrix(0.275341 0 0 0.267000 331.07 2268.60)" font-size="100" font-weight="bold" >Control</text><text transform="matrix(0.275905 0 0 0.267000 482.80 2268.60)" font-size="100" font-weight="bold" >Soy-Tomato</text><text transform="matrix(0.340237 0 0 0.345000 467.96 2329.70)" font-size="100" font-weight="normal" >Diet</text><text transform="matrix(0.545455 0 0 0.543011 466.84 1920.86)" font-size="100" font-weight="bold" >*</text><text transform="matrix(0 -0.298837 0.292423 0 54.80 2165.50)" font-size="100" font-weight="bold" style="white-space:pre">Percent Resting</text></g>
<g stroke="#000" fill="none"><line x1="808.7" y1="1872.1" x2="808.7" y2="2233.1" stroke-width="3.2" stroke-linecap="butt"/><line x1="796.7" y1="2231.5" x2="1344.0" y2="2231.5" stroke-width="3.2" stroke-linecap="butt"/><line x1="796.7" y1="2231.5" x2="808.7" y2="2231.5" stroke-width="3.2" stroke-linecap="butt"/><line x1="796.7" y1="2142.1" x2="808.7" y2="2142.1" stroke-width="3.2" stroke-linecap="butt"/><line x1="796.7" y1="2052.6" x2="808.7" y2="2052.6" stroke-width="3.2" stroke-linecap="butt"/><line x1="796.7" y1="1963.2" x2="808.7" y2="1963.2" stroke-width="3.2" stroke-linecap="butt"/><line x1="796.7" y1="1873.7" x2="808.7" y2="1873.7" stroke-width="3.2" stroke-linecap="butt"/><line x1="898.0" y1="2231.5" x2="898.0" y2="2242.7" stroke-width="3.2" stroke-linecap="butt"/><line x1="1077.5" y1="2231.5" x2="1077.5" y2="2242.7" stroke-width="3.2" stroke-linecap="butt"/><line x1="1256.3" y1="2231.5" x2="1256.3" y2="2242.7" stroke-width="3.2" stroke-linecap="butt"/><line x1="1021.7" y1="2290.5" x2="1355.0" y2="2290.5" stroke-width="2.3" stroke-linecap="butt"/><line x1="1064.8" y1="1862.5" x2="1240.3" y2="1862.5" stroke-width="4.5" stroke-linecap="butt"/><line x1="839.4" y1="2009.3" x2="957.0" y2="2009.3" stroke-width="4.0" stroke-linecap="round"/><line x1="898.0" y1="2004.0" x2="898.0" y2="2012.5" stroke-width="5.2" stroke-linecap="butt"/><line x1="868.6" y1="2004.0" x2="927.4" y2="2004.0" stroke-width="5.2" stroke-linecap="round"/><line x1="868.6" y1="2012.5" x2="927.4" y2="2012.5" stroke-width="5.2" stroke-linecap="round"/><line x1="1019.0" y1="2054.4" x2="1136.6" y2="2054.4" stroke-width="4.0" stroke-linecap="round"/><line x1="1077.5" y1="2032.5" x2="1077.5" y2="2076.3" stroke-width="5.2" stroke-linecap="butt"/><line x1="1048.6" y1="2032.5" x2="1106.9" y2="2032.5" stroke-width="5.2" stroke-linecap="round"/><line x1="1048.6" y1="2076.3" x2="1106.9" y2="2076.3" stroke-width="5.2" stroke-linecap="round"/><line x1="1197.6" y1="1942.3" x2="1316.0" y2="1942.3" stroke-width="4.0" stroke-linecap="round"/><line x1="1256.3" y1="1921.6" x2="1256.3" y2="1963.5" stroke-width="5.2" stroke-linecap="butt"/><line x1="1227.6" y1="1921.6" x2="1285.4" y2="1921.6" stroke-width="5.2" stroke-linecap="round"/><line x1="1227.6" y1="1963.5" x2="1285.4" y2="1963.5" stroke-width="5.2" stroke-linecap="round"/></g><g fill="#000"><circle cx="866.0" cy="2005.3" r="7.9"/><circle cx="888.5" cy="2019.3" r="7.9"/><circle cx="909.2" cy="2011.3" r="7.9"/><circle cx="930.0" cy="2000.6" r="7.9"/><rect x="1069.6" y="1996.1" width="15.8" height="15.8"/><rect x="1069.6" y="2025.4" width="15.8" height="15.8"/><rect x="1080.1" y="2078.1" width="15.8" height="15.8"/><rect x="1058.9" y="2086.1" width="15.8" height="15.8"/><polygon points="1267.0,1891.8 1275.2,1907.4 1258.8,1907.4"/><polygon points="1245.5,1906.6 1253.8,1922.2 1237.2,1922.2"/><polygon points="1256.3,1958.5 1264.5,1974.1 1248.0,1974.1"/><polygon points="1256.3,1981.6 1264.5,1997.2 1248.0,1997.2"/><text transform="matrix(0.650888 0 0 0.723837 643.64 1831.80)" font-size="100" font-weight="bold" >F</text><text transform="matrix(0.258000 0 0 0.276000 780.81 2241.13)" font-size="100" font-weight="bold" >0</text><text transform="matrix(0.258000 0 0 0.276000 723.41 2151.68)" font-size="100" font-weight="bold" >10000</text><text transform="matrix(0.258000 0 0 0.276000 723.41 2062.23)" font-size="100" font-weight="bold" >20000</text><text transform="matrix(0.258000 0 0 0.276000 723.41 1972.78)" font-size="100" font-weight="bold" >30000</text><text transform="matrix(0.258000 0 0 0.276000 723.41 1883.33)" font-size="100" font-weight="bold" >40000</text><text transform="matrix(0.271473 0 0 0.267000 856.88 2268.60)" font-size="100" font-weight="bold" >No CP</text><text transform="matrix(0.275341 0 0 0.267000 1025.37 2268.60)" font-size="100" font-weight="bold" >Control</text><text transform="matrix(0.275905 0 0 0.267000 1177.50 2268.60)" font-size="100" font-weight="bold" >Soy-Tomato</text><text transform="matrix(0.340237 0 0 0.345000 1161.06 2330.40)" font-size="100" font-weight="normal" >Diet</text><text transform="matrix(0.545455 0 0 0.518817 1145.04 1862.19)" font-size="100" font-weight="bold" >*</text><text transform="matrix(0 -0.295351 0.312969 0 706.49 2213.98)" font-size="100" font-weight="bold" style="white-space:pre">Distance Traveled (cm)</text></g>
<g stroke="#000" fill="none"><line x1="1459.8" y1="1871.1" x2="1459.8" y2="2233.0" stroke-width="3.2" stroke-linecap="butt"/><line x1="1447.8" y1="2231.4" x2="1997.0" y2="2231.4" stroke-width="3.2" stroke-linecap="butt"/><line x1="1447.8" y1="2231.4" x2="1459.8" y2="2231.4" stroke-width="3.2" stroke-linecap="butt"/><line x1="1447.8" y1="2159.7" x2="1459.8" y2="2159.7" stroke-width="3.2" stroke-linecap="butt"/><line x1="1447.8" y1="2087.9" x2="1459.8" y2="2087.9" stroke-width="3.2" stroke-linecap="butt"/><line x1="1447.8" y1="2016.2" x2="1459.8" y2="2016.2" stroke-width="3.2" stroke-linecap="butt"/><line x1="1447.8" y1="1944.4" x2="1459.8" y2="1944.4" stroke-width="3.2" stroke-linecap="butt"/><line x1="1447.8" y1="1872.7" x2="1459.8" y2="1872.7" stroke-width="3.2" stroke-linecap="butt"/><line x1="1548.5" y1="2231.4" x2="1548.5" y2="2241.3" stroke-width="3.2" stroke-linecap="butt"/><line x1="1728.2" y1="2231.4" x2="1728.2" y2="2241.3" stroke-width="3.2" stroke-linecap="butt"/><line x1="1907.2" y1="2231.4" x2="1907.2" y2="2241.3" stroke-width="3.2" stroke-linecap="butt"/><line x1="1668.3" y1="2290.5" x2="1995.8" y2="2290.5" stroke-width="2.3" stroke-linecap="butt"/><line x1="1710.6" y1="1926.6" x2="1885.2" y2="1926.6" stroke-width="4.5" stroke-linecap="butt"/><line x1="1490.5" y1="2012.9" x2="1607.6" y2="2012.9" stroke-width="4.0" stroke-linecap="round"/><line x1="1548.5" y1="1978.5" x2="1548.5" y2="2046.4" stroke-width="5.2" stroke-linecap="butt"/><line x1="1520.3" y1="1978.5" x2="1577.0" y2="1978.5" stroke-width="5.2" stroke-linecap="round"/><line x1="1520.3" y1="2046.4" x2="1577.0" y2="2046.4" stroke-width="5.2" stroke-linecap="round"/><line x1="1668.7" y1="2095.5" x2="1786.0" y2="2095.5" stroke-width="4.0" stroke-linecap="round"/><line x1="1728.2" y1="2078.4" x2="1728.2" y2="2112.3" stroke-width="5.2" stroke-linecap="butt"/><line x1="1700.0" y1="2078.4" x2="1756.8" y2="2078.4" stroke-width="5.2" stroke-linecap="round"/><line x1="1700.0" y1="2112.3" x2="1756.8" y2="2112.3" stroke-width="5.2" stroke-linecap="round"/><line x1="1848.4" y1="2009.7" x2="1965.9" y2="2009.7" stroke-width="4.0" stroke-linecap="round"/><line x1="1907.2" y1="1991.7" x2="1907.2" y2="2025.6" stroke-width="5.2" stroke-linecap="butt"/><line x1="1879.0" y1="1991.7" x2="1935.4" y2="1991.7" stroke-width="5.2" stroke-linecap="round"/><line x1="1879.0" y1="2025.6" x2="1935.4" y2="2025.6" stroke-width="5.2" stroke-linecap="round"/></g><g fill="#000"><circle cx="1548.5" cy="1916.6" r="7.9"/><circle cx="1548.5" cy="2016.9" r="7.9"/><circle cx="1548.5" cy="2045.6" r="7.9"/><circle cx="1548.5" cy="2074.4" r="7.9"/><rect x="1709.5" y="2051.7" width="15.8" height="15.8"/><rect x="1730.7" y="2065.7" width="15.8" height="15.8"/><rect x="1730.7" y="2109.6" width="15.8" height="15.8"/><rect x="1709.5" y="2123.6" width="15.8" height="15.8"/><polygon points="1896.4,1965.9 1904.7,1981.5 1888.2,1981.5"/><polygon points="1917.1,1979.9 1925.3,1995.5 1908.8,1995.5"/><polygon points="1917.1,2024.6 1925.3,2040.2 1908.8,2040.2"/><polygon points="1896.4,2037.0 1904.7,2052.7 1888.2,2052.7"/><text transform="matrix(0.711111 0 0 0.706215 1315.08 1833.29)" font-size="100" font-weight="bold" >G</text><text transform="matrix(0.258000 0 0 0.276000 1410.40 2241.03)" font-size="100" font-weight="bold" >0.0</text><text transform="matrix(0.258000 0 0 0.276000 1410.06 2169.29)" font-size="100" font-weight="bold" >0.5</text><text transform="matrix(0.258000 0 0 0.276000 1410.40 2097.55)" font-size="100" font-weight="bold" >1.0</text><text transform="matrix(0.258000 0 0 0.279954 1410.06 2025.81)" font-size="100" font-weight="bold" >1.5</text><text transform="matrix(0.258000 0 0 0.276000 1410.40 1954.07)" font-size="100" font-weight="bold" >2.0</text><text transform="matrix(0.258000 0 0 0.276000 1410.06 1882.33)" font-size="100" font-weight="bold" >2.5</text><text transform="matrix(0.271473 0 0 0.267000 1507.38 2268.50)" font-size="100" font-weight="bold" >No CP</text><text transform="matrix(0.275341 0 0 0.267000 1676.07 2268.50)" font-size="100" font-weight="bold" >Control</text><text transform="matrix(0.275905 0 0 0.267000 1828.40 2268.50)" font-size="100" font-weight="bold" >Soy-Tomato</text><text transform="matrix(0.340237 0 0 0.345000 1808.46 2329.20)" font-size="100" font-weight="normal" >Diet</text><text transform="matrix(0.545455 0 0 0.572581 1790.64 1927.89)" font-size="100" font-weight="bold" >*</text><text transform="matrix(0 -0.295885 0.288317 0 1391.90 2198.58)" font-size="100" font-weight="bold" style="white-space:pre">Mean Velocity (cm/s)</text></g>
</svg>
</body></html>
